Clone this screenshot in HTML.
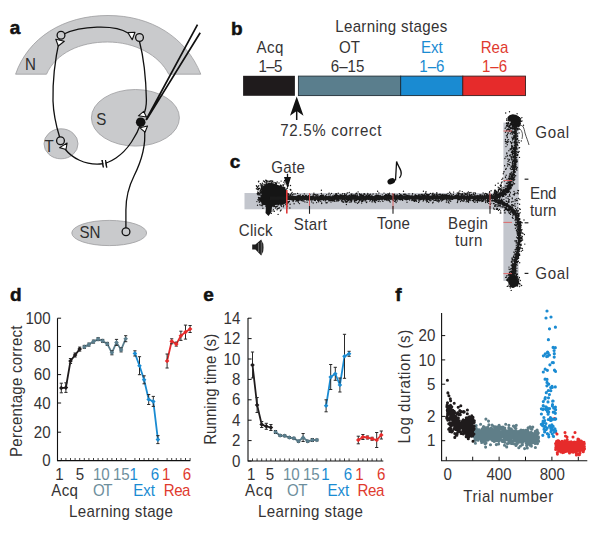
<!DOCTYPE html>
<html><head><meta charset="utf-8"><style>
html,body{margin:0;padding:0;background:#fff;width:600px;height:536px;overflow:hidden}
svg{display:block;font-family:"Liberation Sans",sans-serif}
</style></head><body>
<svg width="600" height="536" viewBox="0 0 600 536">
<rect width="600" height="536" fill="#fff"/>
<text x="9.8" y="33.8" font-weight="bold" stroke="#111" stroke-width="0.5" font-size="19" fill="#111">a</text>
<path d="M15.6 74.2 C 28 38, 63 15.5, 108 15.5 C 151 15.5, 186 37, 200.8 74.2 L 168.7 74.2 C 159 55, 135 42, 107.5 42 C 80 42, 56 53, 46.5 74.2 Z" fill="#c9cacc" stroke="#9c9c9e" stroke-width="0.8"/>
<ellipse cx="135.4" cy="117.8" rx="44" ry="28.3" fill="#c9cacc" stroke="#9c9c9e" stroke-width="0.8"/>
<ellipse cx="61" cy="143.8" rx="17" ry="15" fill="#c9cacc" stroke="#9c9c9e" stroke-width="0.8"/>
<ellipse cx="109.2" cy="233" rx="37.4" ry="12.6" fill="#c9cacc" stroke="#9c9c9e" stroke-width="0.8"/>
<text transform="translate(30.4 70.3) scale(0.95 1)" text-anchor="middle" font-size="15.9" fill="#2e2e2e">N</text>
<text transform="translate(101.2 124.6) scale(0.95 1)" text-anchor="middle" font-size="15.9" fill="#2e2e2e">S</text>
<text transform="translate(49.1 151.8) scale(0.95 1)" text-anchor="middle" font-size="15.9" fill="#2e2e2e">T</text>
<text transform="translate(90 237.6) scale(0.95 1)" text-anchor="middle" font-size="15.9" fill="#2e2e2e">SN</text>
<path d="M64 34 C 80 26, 115 24, 128 33" stroke="#111" stroke-width="1.3" fill="none"/>
<path d="M59.5 39.3 C 56 55, 52.5 80, 53 101 C 53.5 115, 56.5 127, 59.6 137" stroke="#111" stroke-width="1.3" fill="none"/>
<path d="M139.5 41.5 C 143 55, 146 80, 146.4 100 C 146.5 108, 145 112, 143 116" stroke="#111" stroke-width="1.3" fill="none"/>
<path d="M141 123 C 137 135, 128 150, 116 158 C 110 162, 105 164, 100 164 C 85 165, 72 158, 65 149" stroke="#111" stroke-width="1.3" fill="none"/>
<path d="M102 160 L103.3 167.5 M105.3 160 L106.6 167.5" stroke="#111" stroke-width="1.2"/>
<rect x="103.3" y="159" width="2" height="9" fill="white" transform="rotate(10 104.3 163.5)"/>
<path d="M102.2 160 L103.5 167.5 M105.5 160 L106.8 167.5" stroke="#111" stroke-width="1.2"/>
<path d="M144.5 130 C 146 145, 142 160, 134 176 C 128 188, 125.9 198, 125.9 210 L125.9 228" stroke="#111" stroke-width="1.3" fill="none"/>
<circle cx="61" cy="35.3" r="3.9" fill="none" stroke="#111" stroke-width="1.3"/>
<circle cx="139.5" cy="37.5" r="3.9" fill="none" stroke="#111" stroke-width="1.3"/>
<circle cx="60.5" cy="140.7" r="3.9" fill="none" stroke="#111" stroke-width="1.3"/>
<circle cx="126" cy="231.7" r="3.9" fill="none" stroke="#111" stroke-width="1.3"/>
<polygon points="55.8,39.3 64.3,41.3 58.3,46" fill="white" stroke="#111" stroke-width="1.1" stroke-linejoin="round"/>
<polygon points="127.9,32.6 135,32.3 132.2,39.7" fill="white" stroke="#111" stroke-width="1.1" stroke-linejoin="round"/>
<polygon points="143.7,111.4 138.4,115.8 146.5,117" fill="white" stroke="#111" stroke-width="1.1" stroke-linejoin="round"/>
<polygon points="145,132.2 139.9,127.8 147.5,126" fill="white" stroke="#111" stroke-width="1.1" stroke-linejoin="round"/>
<polygon points="59.6,147.6 67.1,143 66,149.5" fill="white" stroke="#111" stroke-width="1.1" stroke-linejoin="round"/>
<path d="M197.5 24.6 L146 120 M200.2 32.8 L146.6 119.6" stroke="#111" stroke-width="1.7"/>
<circle cx="140.7" cy="122.2" r="4.8" fill="#111"/>
<text x="231" y="34.5" font-weight="bold" stroke="#111" stroke-width="0.5" font-size="19" fill="#111">b</text>
<text transform="translate(335.2 32.2) scale(0.95 1)" textLength="117.89" lengthAdjust="spacing" font-size="15.9" fill="#353334">Learning stages</text>
<text transform="translate(256.5 53.3) scale(0.95 1)" textLength="28.32" lengthAdjust="spacing" font-size="15.9" fill="#353334">Acq</text>
<text transform="translate(258.5 71.7) scale(0.95 1)" textLength="25.16" lengthAdjust="spacing" font-size="15.9" fill="#353334">1–5</text>
<text transform="translate(349.6 53.1) scale(0.95 1)" text-anchor="middle" font-size="15.9" fill="#353334">OT</text>
<text transform="translate(347.6 71.7) scale(0.95 1)" text-anchor="middle" font-size="15.9" fill="#353334">6–15</text>
<text transform="translate(431.9 52.9) scale(0.95 1)" text-anchor="middle" font-size="15.9" fill="#1a8bd2">Ext</text>
<text transform="translate(431.9 71.9) scale(0.95 1)" text-anchor="middle" font-size="15.9" fill="#1a8bd2">1–6</text>
<text transform="translate(494.5 52.9) scale(0.95 1)" text-anchor="middle" font-size="15.9" fill="#e03a2e">Rea</text>
<text transform="translate(494.5 71.9) scale(0.95 1)" text-anchor="middle" font-size="15.9" fill="#e03a2e">1–6</text>
<rect x="243.1" y="75.8" width="51.8" height="20" fill="#1f1b1c"/>
<rect x="298.4" y="76.1" width="102.3" height="19.5" fill="#5a7e8d" stroke="#223038" stroke-width="0.9"/>
<rect x="400.7" y="76.1" width="62.1" height="19.5" fill="#1a8bd2" stroke="#1b2a35" stroke-width="0.9"/>
<rect x="462.8" y="76.1" width="62.7" height="19.5" fill="#e62b2b" stroke="#3a1e1e" stroke-width="0.9"/>
<path d="M296.7 96.5 L303.5 115.7 L296.7 111 L290 115.7 Z" fill="#111"/>
<path d="M296.7 110 L296.7 120" stroke="#111" stroke-width="1.5"/>
<text transform="translate(280.2 135.8) scale(0.95 1)" textLength="106.63" lengthAdjust="spacing" font-size="15.9" fill="#353334">72.5% correct</text>
<text x="229.8" y="168" font-weight="bold" stroke="#111" stroke-width="0.5" font-size="19" fill="#111">c</text>
<rect x="244.5" y="193" width="259" height="16.3" fill="#c3c6cd"/>
<rect x="503.4" y="122.6" width="15.2" height="158.4" fill="#c3c6cd"/>
<path d="M272.0 196.9h0M269.8 189.2h0M268.4 188.6h0M272.5 203.7h0M268.1 191.0h0M275.9 197.3h0M272.8 189.0h0M271.8 199.5h0M261.2 192.0h0M256.8 186.6h0M257.3 193.5h0M261.9 196.8h0M273.3 193.8h0M271.6 195.7h0M259.8 191.9h0M264.2 189.7h0M280.5 189.8h0M271.7 200.7h0M267.3 194.3h0M272.9 195.4h0M262.2 195.5h0M282.9 184.9h0M278.9 195.8h0M266.9 208.0h0M278.1 187.2h0M272.6 198.7h0M270.5 199.4h0M271.5 199.3h0M283.5 190.6h0M273.6 192.0h0M273.0 187.3h0M267.4 193.7h0M279.2 202.4h0M261.4 189.8h0M277.2 182.0h0M268.3 194.4h0M282.1 199.5h0M269.4 192.6h0M270.0 204.9h0M268.6 193.0h0M274.8 194.2h0M270.4 187.8h0M271.9 192.1h0M281.3 199.2h0M271.8 199.3h0M269.3 201.8h0M272.0 198.8h0M261.7 197.3h0M258.5 181.8h0M269.6 189.2h0M273.3 209.6h0M265.3 190.9h0M273.6 198.2h0M270.6 193.7h0M277.6 198.4h0M263.7 194.5h0M272.3 188.1h0M274.1 189.4h0M279.8 196.3h0M272.7 191.2h0M271.1 182.0h0M262.9 197.4h0M258.0 199.9h0M265.2 200.1h0M273.0 185.0h0M282.0 204.4h0M271.5 193.2h0M270.7 188.7h0M280.8 191.5h0M271.6 189.8h0M267.0 186.7h0M282.1 194.0h0M279.7 195.1h0M266.4 192.9h0M267.5 195.1h0M269.0 193.1h0M261.0 189.8h0M285.2 190.6h0M263.6 197.2h0M283.3 185.5h0M270.3 190.9h0M257.9 199.8h0M271.8 195.5h0M266.0 198.0h0M267.7 194.1h0M263.1 187.1h0M282.7 191.7h0M274.3 194.8h0M268.5 191.7h0M277.0 193.0h0M270.8 195.1h0M281.4 199.4h0M275.1 191.3h0M260.9 201.2h0M279.7 194.1h0M276.3 200.1h0M278.6 201.0h0M268.4 204.8h0M262.0 200.6h0M276.0 200.7h0M287.0 204.6h0M262.8 184.0h0M278.5 188.4h0M271.9 200.5h0M258.8 181.3h0M274.1 195.3h0M270.0 195.3h0M265.1 185.2h0M270.7 188.7h0M258.9 198.3h0M271.5 197.6h0M264.1 190.7h0M264.0 189.2h0M273.6 189.9h0M274.8 197.2h0M288.2 185.9h0M279.1 194.4h0M271.9 185.6h0M268.3 199.8h0M271.3 195.5h0M269.7 202.5h0M271.8 180.7h0M266.5 182.2h0M282.7 195.3h0M262.6 188.9h0M281.0 196.0h0M272.4 194.7h0M272.3 200.2h0M276.4 196.4h0M263.7 198.3h0M266.5 202.1h0M261.8 194.1h0M271.9 186.4h0M285.8 204.5h0M268.3 200.0h0M274.0 194.6h0M272.7 188.0h0M269.8 193.8h0M281.5 197.2h0M272.0 204.9h0M267.6 192.5h0M257.5 205.2h0M279.7 201.0h0M277.4 195.7h0M273.7 193.4h0M270.4 195.4h0M284.1 198.6h0M271.5 191.2h0M266.9 205.4h0M276.1 195.4h0M269.2 187.8h0M271.5 200.7h0M268.9 193.5h0M270.2 195.7h0M259.3 193.5h0M265.2 200.7h0M265.8 198.8h0M284.2 193.0h0M267.2 196.2h0M272.0 188.5h0M275.7 208.1h0M269.9 193.7h0M263.6 197.1h0M262.0 187.8h0M282.2 189.1h0M280.7 204.9h0M274.1 198.6h0M287.6 193.7h0M267.3 186.2h0M272.3 204.6h0M279.7 188.9h0M265.2 191.7h0M274.3 193.7h0M273.7 196.9h0M269.6 194.7h0M273.7 194.5h0M276.0 207.2h0M276.7 195.4h0M258.5 197.5h0M256.4 185.8h0M278.8 199.6h0M270.8 183.9h0M269.0 190.6h0M277.1 209.7h0M273.7 189.9h0M262.6 194.6h0M270.6 187.5h0M272.9 187.5h0M280.9 201.9h0M280.7 191.9h0M276.1 194.1h0M268.9 192.8h0M261.6 185.6h0M278.4 193.8h0M273.7 201.5h0M258.1 189.9h0M273.4 197.5h0M269.0 201.7h0M273.7 187.1h0M264.6 200.2h0M275.7 182.7h0M282.8 198.9h0M282.7 192.5h0M269.6 187.7h0M284.7 190.8h0M273.3 184.1h0M268.9 201.4h0M262.0 202.0h0M274.7 188.2h0M268.0 192.0h0M271.6 191.5h0M265.4 193.0h0M263.8 186.6h0M271.6 200.7h0M259.8 195.0h0M266.8 188.6h0M278.8 191.6h0M284.0 189.9h0M275.1 193.5h0M266.0 198.8h0M270.8 198.9h0M271.6 187.9h0M271.2 195.3h0M279.7 189.1h0M271.7 183.8h0M277.2 188.0h0M257.5 194.6h0M280.8 185.1h0M263.3 190.2h0M263.0 197.5h0M265.5 190.3h0M276.7 190.1h0M275.5 188.7h0M262.3 183.1h0M286.9 192.9h0M274.0 194.8h0M273.3 195.3h0M287.3 188.2h0M259.5 188.4h0M261.3 199.9h0M278.6 188.8h0M260.9 192.7h0M276.2 188.0h0M280.3 188.0h0M269.7 185.2h0M264.2 204.0h0M278.6 192.4h0M265.0 182.7h0M268.9 194.8h0M271.3 194.4h0M263.0 194.6h0M271.7 203.4h0M286.9 194.1h0M265.9 194.6h0M267.1 190.2h0M271.5 188.2h0M276.8 194.3h0M274.0 193.8h0M266.2 188.8h0M270.1 191.4h0M273.9 195.0h0M261.1 195.4h0M261.3 191.0h0M269.6 181.5h0M272.7 196.0h0M270.7 192.2h0M269.0 188.7h0M269.8 191.4h0M272.7 187.2h0M273.9 195.9h0M270.9 192.1h0M276.4 184.2h0M275.7 196.6h0M274.3 197.5h0M266.8 193.3h0M277.1 197.8h0M273.7 185.2h0M276.3 202.6h0M280.1 196.5h0M259.5 201.1h0M275.0 185.3h0M261.6 190.9h0M282.2 192.6h0M274.2 206.4h0M284.8 194.3h0M270.1 186.8h0M266.4 197.8h0M275.2 195.7h0M280.0 190.0h0M271.6 199.8h0M276.7 202.0h0M275.2 193.0h0M274.9 188.5h0M258.9 198.8h0M271.6 197.0h0M258.4 192.6h0M267.2 189.4h0M279.2 197.5h0M267.2 194.9h0M271.0 198.5h0M277.5 206.1h0M281.1 197.0h0M274.4 200.1h0M267.7 194.7h0M279.2 207.7h0M270.7 194.7h0M273.6 203.7h0M271.8 204.6h0M264.3 193.8h0M270.4 200.1h0M280.4 185.2h0M264.7 197.2h0M266.7 185.1h0M280.3 198.2h0M275.9 191.9h0M280.2 193.4h0M280.8 189.1h0M265.2 196.3h0M266.4 199.4h0M274.1 189.0h0M272.6 192.7h0M279.3 190.9h0M268.5 202.9h0M289.9 208.0h0M272.5 196.4h0M284.3 194.2h0M264.2 195.8h0M275.6 189.6h0M258.8 185.7h0M277.3 190.1h0M270.9 196.4h0M277.0 192.8h0M276.0 189.2h0M269.1 188.3h0M281.1 194.8h0M266.1 192.7h0M270.2 199.6h0M259.2 188.3h0M269.0 211.5h0M279.6 194.3h0M277.7 208.4h0M270.1 192.6h0M281.7 198.2h0M277.4 191.7h0M287.4 206.1h0M276.5 199.4h0M270.4 197.8h0M277.5 192.8h0M258.5 197.4h0M266.1 192.9h0M267.2 192.8h0M274.0 202.2h0M287.8 195.1h0M257.6 189.2h0M262.3 191.7h0M272.6 182.0h0M274.7 185.2h0M274.4 194.3h0M269.5 194.5h0M267.7 191.0h0M258.5 194.8h0M286.8 207.9h0M282.6 199.6h0M266.6 204.4h0M271.6 194.6h0M269.7 195.6h0M268.5 194.5h0M263.3 192.6h0M290.2 194.5h0M270.1 198.5h0M277.7 187.8h0M270.3 201.0h0M274.2 195.8h0M284.4 190.6h0M272.7 191.6h0M283.9 182.3h0M266.6 191.6h0M277.3 198.9h0M283.2 184.8h0M278.0 193.1h0M266.7 198.5h0M264.6 181.5h0M269.0 185.3h0M266.8 197.4h0M274.5 205.3h0M270.4 185.0h0M266.0 189.0h0M262.3 197.8h0M266.8 182.1h0M277.6 194.3h0M274.9 195.7h0M277.1 195.2h0M281.9 197.8h0M275.1 197.7h0M260.3 193.9h0M269.9 196.3h0M261.1 205.6h0M272.8 187.1h0M258.3 193.2h0M271.3 190.3h0M272.7 190.8h0M276.4 190.3h0M271.7 201.4h0M268.3 189.5h0M278.3 187.5h0M268.1 194.8h0M264.2 188.8h0M268.2 181.3h0M260.4 192.3h0M273.2 193.8h0M257.8 192.0h0M278.4 198.6h0M271.4 189.2h0M277.0 191.2h0M262.6 189.8h0M283.6 196.4h0M281.3 191.9h0M279.5 191.1h0M270.7 211.2h0M278.1 191.7h0M271.3 197.1h0M281.7 191.8h0M258.1 193.2h0M272.1 195.7h0M282.5 197.1h0M278.5 187.8h0M278.9 208.6h0M278.2 196.6h0M273.2 206.6h0M264.6 194.3h0M275.7 199.8h0M268.5 197.0h0M269.8 195.8h0M270.9 187.6h0M271.8 200.7h0M264.3 193.4h0M277.3 188.0h0M273.5 188.1h0M281.1 210.0h0M288.2 193.6h0M277.9 195.8h0M272.8 205.1h0M261.4 201.9h0M271.6 204.2h0M273.5 190.6h0M274.2 199.8h0M272.3 198.2h0M267.8 181.1h0M279.2 199.5h0M273.2 195.4h0M280.3 192.0h0M266.3 193.8h0M281.5 186.0h0M281.5 190.8h0M263.2 203.2h0M271.2 186.5h0M269.1 201.1h0M281.5 192.2h0M275.3 199.6h0M266.8 197.3h0M271.7 191.5h0M268.1 195.4h0M272.2 191.3h0M268.6 202.2h0M273.7 200.8h0M281.6 198.8h0M290.2 189.6h0M278.5 192.9h0M286.8 206.1h0M256.4 188.7h0M277.3 200.1h0M277.9 194.5h0M275.6 199.2h0M271.4 201.7h0M263.7 201.2h0M270.2 189.2h0M275.0 189.1h0M264.7 184.8h0M271.8 198.2h0M280.2 194.1h0M280.4 195.1h0M271.3 198.7h0M280.5 192.8h0M270.0 194.0h0M272.7 189.1h0M280.2 192.4h0M275.7 189.6h0M274.9 197.5h0M268.6 208.1h0M275.0 206.6h0M279.7 190.7h0M268.9 197.8h0M272.5 195.3h0M269.7 183.2h0M270.2 180.6h0M275.0 190.3h0M266.3 193.6h0M274.2 185.7h0M258.0 188.1h0M284.7 188.1h0M277.2 186.1h0M274.4 192.9h0M271.5 198.7h0M286.0 196.3h0M273.0 188.7h0M276.7 193.4h0M278.7 194.7h0M285.9 182.1h0M269.6 200.7h0M269.2 189.9h0M269.9 186.0h0M273.0 210.9h0M281.2 187.8h0M265.0 192.4h0M280.0 189.7h0M266.5 200.8h0M278.9 192.6h0M263.1 184.9h0M266.4 180.5h0M278.0 190.9h0M275.9 207.1h0M281.4 187.5h0M279.0 202.5h0M266.0 188.8h0M271.1 184.6h0M263.1 193.2h0M270.2 196.1h0M274.2 193.6h0M281.1 181.1h0M272.0 190.4h0M273.1 196.4h0M264.7 190.8h0M278.3 197.3h0M266.6 208.3h0M290.5 185.5h0M274.4 211.3h0M278.3 196.4h0M270.3 191.5h0M270.3 191.4h0M278.0 192.4h0M268.5 187.2h0M271.6 189.2h0M270.6 201.8h0M274.9 198.3h0M274.8 195.4h0M271.0 193.0h0M278.1 188.0h0M282.7 195.2h0M266.0 191.8h0M266.6 196.0h0M266.3 202.4h0M265.7 180.2h0M266.2 181.9h0M271.7 201.9h0M277.2 186.3h0M265.9 206.6h0M274.5 195.0h0M280.4 210.9h0M282.4 195.9h0M274.8 199.0h0M267.1 188.1h0M272.4 188.8h0M271.5 195.6h0M290.7 189.5h0M271.0 193.9h0M275.5 201.8h0M268.1 189.7h0M258.9 189.0h0M276.3 195.3h0M263.9 192.6h0M272.3 198.3h0M267.3 193.4h0M257.5 187.5h0M284.9 180.8h0M269.3 196.4h0M269.0 189.7h0M271.5 195.0h0M271.3 182.8h0M270.8 189.4h0M267.6 196.5h0M277.1 200.8h0M268.0 201.0h0M281.4 202.4h0M283.1 194.1h0M270.6 200.4h0M261.1 196.4h0M267.8 192.6h0M258.1 189.2h0M271.8 200.8h0M279.9 194.5h0M270.5 189.6h0M275.2 193.4h0M276.8 206.4h0M271.7 185.3h0M265.1 185.5h0M262.4 203.5h0M273.8 185.1h0M277.2 203.2h0M269.1 190.6h0M269.3 196.8h0M277.1 202.7h0M281.7 202.7h0M282.9 199.3h0M259.8 194.1h0M274.5 192.5h0M279.3 192.7h0M264.6 204.4h0M277.3 196.4h0M279.4 201.9h0M266.6 192.0h0M264.1 196.3h0M281.5 191.8h0M262.9 208.2h0M268.4 187.0h0M273.9 197.8h0M266.4 200.1h0M268.1 189.0h0M273.4 200.0h0M266.9 197.1h0M271.3 213.4h0M266.3 204.0h0M271.6 194.2h0M277.8 200.8h0M282.1 197.1h0M267.2 191.5h0M276.1 198.8h0M283.2 197.7h0M280.5 204.9h0M273.3 185.3h0M262.6 185.7h0M284.7 189.5h0M281.9 198.8h0M285.7 201.5h0M271.2 193.7h0M272.7 196.1h0M267.8 194.8h0M284.9 183.9h0M274.1 189.1h0M273.5 200.5h0M271.5 200.0h0M259.3 202.2h0M267.2 199.0h0M266.0 196.4h0M284.4 196.9h0M274.1 185.8h0M283.4 206.7h0M272.2 193.6h0M259.0 200.7h0M282.1 198.5h0M264.1 203.7h0M262.1 193.6h0M274.2 200.7h0M275.3 197.5h0M265.9 186.6h0M272.5 190.4h0M261.5 186.8h0M268.1 183.0h0M261.2 184.4h0M273.5 197.7h0M288.1 185.3h0M266.6 200.9h0M270.3 192.9h0M285.7 192.8h0M262.8 186.4h0M274.7 197.0h0M261.0 188.6h0M276.3 198.8h0M266.9 199.0h0M276.6 183.4h0M269.5 197.7h0M267.4 181.1h0M269.7 199.9h0M284.6 180.8h0M279.7 203.0h0M279.9 196.0h0M262.7 199.1h0M286.5 189.1h0M283.7 205.3h0M284.4 194.9h0M262.4 193.8h0M272.7 188.6h0M270.7 194.3h0M287.4 203.4h0M271.6 202.9h0M265.8 192.8h0M279.3 186.9h0M269.8 186.4h0M272.9 205.6h0M266.0 196.5h0M264.8 187.5h0M262.1 204.5h0M290.9 198.1h0M266.3 199.6h0M269.3 200.2h0M274.3 196.8h0M276.9 191.2h0M268.8 183.8h0M268.5 185.8h0M270.8 188.8h0M272.8 197.9h0M260.6 189.7h0M264.5 199.9h0M285.7 200.5h0M269.2 204.5h0M259.9 204.7h0M263.7 196.1h0M270.3 195.7h0M260.1 190.6h0M275.7 196.4h0M281.6 195.5h0M290.8 190.3h0M274.1 182.5h0M262.0 203.6h0M264.5 198.4h0M271.5 188.2h0M269.2 191.7h0M268.1 199.9h0M277.2 191.2h0M264.7 196.8h0M271.2 201.7h0M271.7 193.9h0M265.1 189.1h0M264.0 192.4h0M268.6 199.8h0M268.8 193.7h0M262.3 205.7h0M276.1 206.6h0M278.4 204.7h0M270.0 199.7h0M281.4 206.0h0M275.4 200.0h0M282.2 190.6h0M275.3 189.2h0M266.5 190.9h0M270.8 196.0h0M275.7 185.6h0M288.2 202.7h0M277.9 192.6h0M271.3 198.6h0M275.4 183.8h0M278.1 214.4h0M256.9 201.6h0M275.0 194.3h0M283.3 187.1h0M273.3 204.8h0M270.4 192.2h0M272.9 192.0h0M284.7 188.9h0M279.2 186.6h0M277.5 194.3h0M263.2 192.0h0M284.7 187.5h0M263.3 204.6h0M273.0 205.3h0M274.7 189.1h0M271.5 203.2h0M279.7 195.0h0M272.4 194.2h0M267.2 207.9h0M272.1 187.4h0M268.1 199.9h0M277.3 194.1h0M266.5 195.2h0M258.2 186.3h0M278.6 191.8h0M275.1 203.1h0M277.3 195.1h0M289.5 199.5h0M269.1 199.9h0M275.4 189.3h0M272.6 193.9h0M269.7 192.1h0M258.5 192.6h0M271.7 195.7h0M262.7 199.2h0M262.0 193.5h0M282.7 190.4h0M267.8 202.2h0M268.8 193.0h0M273.8 202.0h0M263.7 187.8h0M265.0 189.4h0M274.5 189.1h0M273.0 197.7h0M266.0 195.9h0M285.4 197.1h0M266.8 194.6h0M264.5 196.8h0M279.1 189.6h0M270.3 202.4h0M267.9 196.2h0M263.6 189.6h0M267.8 209.1h0M268.7 191.6h0M267.5 193.9h0M277.2 196.2h0M288.5 196.4h0M283.6 196.8h0M276.8 185.6h0M271.0 194.6h0M270.1 181.0h0M279.0 192.5h0M268.5 193.3h0M270.2 197.6h0M261.8 188.9h0M274.3 195.9h0M269.0 191.3h0M265.3 194.6h0M281.4 188.1h0M284.2 200.5h0M268.4 200.1h0M260.3 183.7h0M261.7 192.3h0M269.4 191.7h0M272.8 181.1h0M276.0 185.8h0M266.7 192.3h0M262.8 186.1h0M264.0 194.9h0M276.7 198.7h0M264.0 189.9h0M264.6 197.9h0M268.1 189.9h0M274.7 201.7h0M274.7 201.8h0M273.1 203.0h0M282.0 194.4h0M283.5 196.1h0M272.7 189.0h0M269.7 200.1h0M261.5 199.2h0M274.8 196.8h0M277.2 190.0h0M277.4 190.7h0M279.0 183.0h0M277.5 193.5h0M278.5 189.0h0M267.1 209.6h0M265.4 190.4h0M269.8 188.4h0M281.5 206.2h0M266.4 183.8h0M281.4 202.2h0M278.6 202.5h0M265.1 193.9h0M260.9 185.8h0M279.8 190.6h0M290.2 195.5h0M266.9 200.2h0M286.4 198.2h0M262.3 197.4h0M283.0 191.8h0M265.8 201.6h0M273.1 187.8h0M269.0 190.1h0M274.4 195.7h0M281.2 199.6h0M259.5 197.6h0M279.2 198.0h0M280.2 191.4h0M264.4 201.0h0M263.5 181.0h0M280.2 190.3h0M269.6 185.9h0M261.4 187.5h0M269.1 197.4h0M262.5 188.1h0M451.9 197.3h0M487.5 202.3h0M346.4 198.4h0M477.0 200.3h0M355.2 200.0h0M464.1 199.7h0M457.8 196.6h0M384.7 198.4h0M366.4 202.5h0M398.4 196.0h0M399.5 195.2h0M498.1 203.7h0M291.1 196.8h0M398.3 197.7h0M461.1 198.6h0M437.8 196.6h0M399.8 197.1h0M461.5 194.8h0M480.5 196.9h0M453.4 194.5h0M360.0 198.6h0M355.5 198.0h0M333.2 200.1h0M306.5 197.5h0M375.6 199.9h0M344.8 200.3h0M446.5 200.0h0M412.4 199.1h0M403.9 198.5h0M341.0 198.4h0M432.1 196.4h0M491.8 196.8h0M460.0 197.2h0M481.8 201.6h0M397.5 195.0h0M481.9 196.6h0M413.7 198.0h0M407.0 195.5h0M479.4 198.7h0M443.0 196.0h0M297.4 198.8h0M383.6 197.7h0M347.3 193.0h0M461.9 198.5h0M346.2 195.1h0M467.8 197.9h0M461.6 200.3h0M348.8 199.6h0M424.9 197.4h0M473.8 197.3h0M444.8 197.7h0M366.8 197.2h0M477.8 195.4h0M481.8 197.2h0M319.1 197.8h0M349.3 202.1h0M390.9 198.6h0M446.7 202.0h0M314.5 197.9h0M456.7 198.0h0M471.8 197.3h0M362.7 196.0h0M321.3 195.9h0M333.1 197.3h0M365.6 199.8h0M385.1 195.4h0M424.4 194.6h0M475.2 197.1h0M477.8 195.9h0M456.4 195.8h0M397.3 200.9h0M412.9 197.4h0M453.8 198.4h0M463.3 197.1h0M334.7 199.4h0M338.8 197.6h0M288.2 197.7h0M407.6 198.9h0M450.9 197.1h0M330.8 200.5h0M309.5 196.4h0M333.3 200.9h0M487.4 194.1h0M405.4 196.6h0M433.5 197.6h0M356.0 195.3h0M326.6 196.6h0M420.7 198.9h0M292.7 197.4h0M365.9 196.1h0M412.0 199.0h0M460.5 197.4h0M429.4 198.5h0M414.2 200.5h0M299.4 197.9h0M387.1 198.2h0M449.1 203.1h0M286.0 193.8h0M350.9 198.1h0M328.6 196.2h0M370.3 198.5h0M291.5 196.3h0M497.9 194.3h0M361.1 194.9h0M322.7 199.4h0M467.8 197.2h0M453.6 196.6h0M287.1 195.8h0M442.5 199.8h0M351.0 194.2h0M328.6 200.0h0M308.0 198.7h0M301.9 196.8h0M449.3 197.4h0M426.6 194.3h0M414.6 200.4h0M434.6 194.7h0M341.5 196.6h0M307.8 199.8h0M424.5 196.5h0M363.4 198.1h0M328.0 198.2h0M408.9 196.0h0M291.8 197.0h0M498.0 206.1h0M440.5 199.2h0M424.3 198.6h0M418.2 197.5h0M306.2 196.1h0M287.9 195.3h0M451.9 198.5h0M444.8 196.1h0M310.4 197.3h0M432.6 195.0h0M392.3 194.1h0M420.9 197.6h0M297.3 196.0h0M467.6 201.3h0M464.2 200.6h0M408.0 196.9h0M442.5 199.7h0M390.8 195.7h0M426.6 199.7h0M288.4 202.4h0M321.9 199.2h0M438.6 201.9h0M384.0 193.1h0M393.5 197.4h0M364.2 197.1h0M419.0 198.8h0M358.0 197.7h0M434.0 198.6h0M408.0 197.8h0M446.5 195.5h0M438.9 194.6h0M356.6 199.9h0M366.7 196.2h0M477.4 198.3h0M463.4 198.0h0M442.1 196.3h0M313.9 194.8h0M407.8 197.9h0M315.3 200.5h0M358.1 191.9h0M446.3 194.4h0M361.7 203.1h0M302.1 198.3h0M450.9 198.2h0M362.2 200.5h0M347.4 201.2h0M482.4 197.9h0M469.8 198.8h0M435.4 196.0h0M399.5 197.6h0M362.6 195.1h0M478.5 198.6h0M450.6 198.4h0M322.9 199.0h0M407.4 198.8h0M335.6 194.0h0M353.5 197.3h0M287.7 196.1h0M413.8 196.8h0M346.8 198.9h0M498.8 205.1h0M319.8 197.5h0M380.8 196.1h0M387.4 196.6h0M473.4 197.0h0M296.7 197.6h0M497.0 198.0h0M331.9 199.3h0M434.1 194.1h0M359.5 194.3h0M347.4 196.3h0M338.4 196.6h0M284.8 201.1h0M454.2 196.7h0M412.2 199.4h0M428.0 195.2h0M442.4 194.5h0M493.6 208.1h0M407.2 199.6h0M342.6 195.6h0M423.0 197.1h0M345.6 202.0h0M305.9 198.9h0M307.0 196.9h0M448.8 199.3h0M366.0 198.7h0M467.5 193.1h0M356.0 202.6h0M432.1 199.6h0M498.1 196.6h0M427.3 196.3h0M298.7 196.4h0M450.7 193.4h0M340.0 198.1h0M398.8 196.2h0M445.4 194.9h0M458.2 195.7h0M390.2 202.1h0M452.3 195.9h0M333.9 200.2h0M431.0 200.6h0M468.6 197.5h0M487.5 199.3h0M496.6 192.0h0M442.4 196.7h0M375.0 198.0h0M292.9 196.1h0M305.6 196.1h0M331.0 202.1h0M354.3 200.4h0M485.9 197.1h0M424.2 195.3h0M461.2 197.6h0M300.1 195.9h0M319.9 197.5h0M482.6 197.3h0M372.9 198.1h0M448.2 196.0h0M320.8 199.6h0M489.3 201.3h0M462.4 196.5h0M348.2 198.3h0M315.8 197.0h0M297.3 198.5h0M438.3 200.3h0M434.3 196.3h0M464.3 195.8h0M466.7 196.9h0M484.2 196.5h0M292.4 198.6h0M367.4 197.9h0M321.4 190.3h0M448.0 193.5h0M339.1 200.3h0M448.5 196.6h0M312.6 197.8h0M495.9 194.4h0M298.2 200.6h0M364.6 199.8h0M347.1 198.1h0M287.3 199.2h0M469.7 197.8h0M431.2 195.9h0M325.2 197.4h0M478.1 200.4h0M379.1 198.9h0M485.6 202.5h0M347.2 199.1h0M367.6 194.8h0M383.2 198.6h0M287.1 197.7h0M434.0 194.5h0M316.3 195.0h0M412.4 200.0h0M385.4 199.6h0M412.0 195.8h0M471.4 196.5h0M372.1 197.4h0M471.9 198.6h0M467.7 197.8h0M345.1 201.0h0M471.9 196.4h0M362.7 201.2h0M380.2 199.3h0M331.0 198.3h0M340.9 198.1h0M394.9 198.8h0M452.3 199.2h0M379.3 197.1h0M313.0 197.1h0M405.2 197.1h0M476.7 196.5h0M309.2 200.0h0M402.3 199.1h0M317.7 194.6h0M434.9 196.4h0M457.9 194.9h0M463.7 196.9h0M428.1 196.6h0M371.0 196.2h0M474.2 198.5h0M365.4 196.9h0M320.6 198.4h0M476.3 196.8h0M444.6 198.7h0M290.9 199.3h0M387.0 197.1h0M289.6 199.0h0M356.3 198.1h0M325.3 200.9h0M369.2 196.2h0M427.6 197.9h0M296.9 198.0h0M486.0 196.7h0M483.0 201.4h0M414.5 198.2h0M360.2 200.0h0M331.3 200.3h0M393.2 198.2h0M368.4 198.4h0M420.6 195.9h0M416.3 196.2h0M416.2 197.7h0M364.7 194.3h0M488.3 199.8h0M285.3 201.7h0M469.5 194.8h0M460.3 198.3h0M479.3 199.3h0M379.4 196.5h0M329.8 196.4h0M339.9 194.9h0M457.5 198.6h0M497.9 196.9h0M447.2 198.2h0M307.5 196.4h0M487.7 197.3h0M481.1 199.2h0M476.5 197.3h0M419.5 199.1h0M436.0 199.9h0M400.2 198.0h0M283.5 199.3h0M463.9 199.4h0M299.1 200.0h0M395.7 200.3h0M473.3 193.0h0M493.2 197.7h0M380.7 197.3h0M490.4 204.5h0M418.0 197.9h0M460.3 198.5h0M374.3 201.8h0M469.7 192.6h0M419.9 196.8h0M321.3 193.5h0M448.9 200.9h0M499.4 203.9h0M321.7 203.0h0M345.3 197.5h0M382.7 198.8h0M482.9 198.8h0M373.1 194.0h0M469.7 196.6h0M402.7 198.4h0M389.8 194.9h0M342.1 196.8h0M365.3 200.2h0M370.3 198.8h0M303.3 195.8h0M428.9 195.5h0M382.1 198.7h0M419.0 194.8h0M448.4 195.8h0M297.5 197.9h0M489.1 200.1h0M488.7 195.5h0M296.1 197.5h0M372.2 198.0h0M486.2 196.2h0M493.1 196.2h0M336.7 201.1h0M395.5 201.1h0M475.3 198.1h0M292.5 198.8h0M414.4 198.1h0M387.1 200.5h0M422.4 196.9h0M336.4 200.1h0M354.8 199.5h0M389.8 201.3h0M283.5 200.2h0M352.8 197.1h0M380.0 198.6h0M385.9 198.5h0M340.9 196.2h0M288.9 197.3h0M386.4 195.4h0M355.2 194.7h0M395.1 199.0h0M354.3 195.3h0M291.3 198.5h0M351.1 196.5h0M412.4 199.7h0M413.1 198.4h0M371.0 198.6h0M286.6 199.9h0M382.7 198.0h0M475.0 195.0h0M460.1 197.5h0M324.3 198.8h0M409.6 197.5h0M492.9 198.4h0M357.2 195.3h0M309.9 198.6h0M298.4 202.6h0M309.5 196.2h0M350.2 196.1h0M299.5 203.6h0M425.4 199.0h0M437.2 201.3h0M426.9 200.1h0M443.9 194.5h0M329.0 201.1h0M324.8 198.5h0M339.5 196.5h0M464.0 198.7h0M379.6 198.5h0M457.7 198.5h0M378.5 195.3h0M433.3 202.1h0M427.2 197.3h0M402.4 199.7h0M465.8 194.0h0M385.9 195.2h0M295.5 199.3h0M438.3 199.2h0M363.7 196.5h0M480.9 198.8h0M464.1 196.0h0M356.3 196.7h0M329.3 196.6h0M318.1 195.9h0M494.5 191.1h0M294.9 198.3h0M485.3 199.5h0M430.6 198.9h0M326.0 202.8h0M432.7 197.1h0M470.7 198.1h0M334.1 196.3h0M425.1 197.7h0M352.0 199.9h0M383.6 198.3h0M399.8 195.9h0M422.1 195.5h0M389.3 196.5h0M389.7 195.4h0M322.5 195.5h0M472.5 197.7h0M465.9 194.7h0M408.5 195.9h0M447.3 198.2h0M346.1 194.1h0M387.8 198.9h0M297.8 196.0h0M415.3 194.7h0M304.5 197.4h0M418.1 196.5h0M378.8 197.1h0M482.4 200.1h0M452.1 197.5h0M315.7 194.8h0M490.3 195.6h0M394.7 198.4h0M371.3 198.3h0M341.8 195.8h0M305.4 197.0h0M379.8 196.4h0M421.9 194.9h0M356.7 197.6h0M366.5 196.4h0M457.7 196.9h0M379.8 197.8h0M307.0 196.7h0M303.6 201.0h0M418.2 195.8h0M499.9 197.9h0M314.8 197.6h0M378.8 197.9h0M449.8 200.1h0M404.9 195.4h0M409.3 199.1h0M484.3 195.0h0M495.6 199.5h0M305.7 195.5h0M452.6 196.8h0M414.7 196.1h0M327.2 197.0h0M298.2 200.0h0M332.9 200.0h0M352.2 197.8h0M457.0 196.0h0M293.9 199.9h0M415.6 195.2h0M336.9 194.9h0M390.3 197.4h0M404.3 197.3h0M291.5 198.5h0M349.8 197.8h0M294.1 203.8h0M325.2 196.3h0M459.0 196.5h0M470.3 195.8h0M330.1 199.8h0M346.6 196.2h0M299.3 195.7h0M392.7 197.2h0M464.5 196.0h0M294.2 198.7h0M364.4 193.6h0M430.7 199.1h0M362.2 198.3h0M303.8 197.2h0M428.6 196.1h0M437.1 198.2h0M314.1 197.4h0M294.1 198.8h0M378.3 201.4h0M327.2 198.0h0M495.4 202.0h0M478.7 198.4h0M410.8 196.3h0M413.5 200.2h0M361.3 199.3h0M297.2 196.1h0M450.1 198.0h0M318.6 201.8h0M292.0 200.0h0M424.4 199.0h0M372.5 196.8h0M284.5 198.1h0M395.9 198.5h0M370.1 196.2h0M292.5 194.6h0M430.0 200.8h0M443.3 196.0h0M432.1 194.0h0M498.1 183.3h0M499.2 206.0h0M326.6 197.5h0M396.8 195.8h0M438.1 195.1h0M459.8 199.5h0M470.7 196.6h0M284.8 195.4h0M309.4 198.8h0M302.4 198.0h0M322.9 196.6h0M424.8 196.1h0M329.5 196.5h0M291.6 198.1h0M353.9 196.7h0M363.1 195.4h0M406.8 199.6h0M435.9 200.2h0M349.6 197.5h0M398.6 197.6h0M378.8 199.7h0M326.9 196.6h0M439.0 198.1h0M483.6 199.8h0M483.0 196.7h0M430.4 193.4h0M412.2 195.1h0M298.4 196.6h0M335.3 197.8h0M365.0 194.3h0M421.4 194.5h0M320.5 198.8h0M473.4 201.6h0M489.8 199.2h0M367.6 197.4h0M379.2 200.1h0M375.0 200.0h0M343.0 199.9h0M377.3 195.2h0M380.1 201.6h0M453.2 194.4h0M369.1 197.0h0M356.4 193.1h0M438.9 198.1h0M366.6 197.3h0M397.3 198.9h0M497.8 195.6h0M401.5 195.1h0M376.4 197.5h0M342.1 194.9h0M488.8 203.4h0M344.6 194.4h0M369.8 199.1h0M403.0 195.3h0M307.2 196.4h0M433.0 196.2h0M312.7 199.6h0M456.0 197.4h0M387.0 197.9h0M351.3 194.9h0M464.6 199.0h0M389.5 197.1h0M479.0 196.3h0M375.1 200.7h0M359.5 199.7h0M333.8 198.0h0M446.0 199.0h0M388.2 195.2h0M420.1 197.2h0M350.2 198.2h0M323.1 197.1h0M284.3 196.8h0M304.3 197.8h0M366.2 195.4h0M436.2 197.2h0M441.9 199.8h0M400.6 198.7h0M283.4 198.7h0M340.6 196.7h0M473.7 201.6h0M305.2 198.2h0M399.8 195.5h0M358.7 202.4h0M343.7 202.3h0M456.4 197.6h0M481.7 198.6h0M331.7 198.9h0M393.4 198.1h0M406.7 199.3h0M413.9 196.3h0M291.0 196.9h0M286.5 196.2h0M422.4 198.4h0M301.6 198.1h0M363.0 197.7h0M415.2 199.7h0M375.0 196.7h0M335.8 197.6h0M472.9 198.3h0M366.8 201.9h0M354.6 201.9h0M480.3 198.8h0M335.3 198.3h0M342.7 199.4h0M474.4 194.9h0M499.3 201.2h0M466.7 199.5h0M330.1 197.9h0M462.4 194.5h0M327.7 199.5h0M312.9 197.1h0M392.1 197.7h0M295.0 196.7h0M308.4 198.6h0M323.3 195.3h0M364.0 197.2h0M427.6 199.0h0M455.4 196.9h0M365.1 197.2h0M348.6 200.6h0M457.3 202.6h0M470.0 197.0h0M431.8 197.0h0M335.4 196.0h0M481.0 198.0h0M478.1 199.4h0M457.7 198.1h0M449.1 196.6h0M425.3 198.7h0M492.6 197.5h0M318.8 197.4h0M461.7 195.3h0M405.8 198.6h0M417.3 197.7h0M439.9 200.3h0M403.4 196.4h0M285.5 198.5h0M361.0 198.8h0M334.5 197.0h0M491.6 196.1h0M423.2 197.1h0M429.0 198.4h0M283.3 201.7h0M318.0 199.2h0M393.6 194.7h0M447.0 195.7h0M488.1 197.2h0M466.2 198.9h0M298.4 198.6h0M421.9 198.9h0M378.6 196.3h0M321.7 203.5h0M338.3 197.4h0M321.8 195.0h0M469.7 197.5h0M450.7 201.3h0M384.1 195.9h0M463.3 198.7h0M479.6 198.3h0M284.2 201.5h0M348.4 198.6h0M386.9 199.6h0M480.0 198.0h0M358.1 198.9h0M424.9 195.8h0M369.9 195.6h0M284.2 198.7h0M442.2 197.5h0M400.2 198.0h0M461.2 200.0h0M349.6 195.3h0M414.8 197.6h0M389.3 200.2h0M352.6 195.4h0M495.0 193.1h0M462.5 193.7h0M368.5 199.2h0M474.8 198.3h0M330.4 194.9h0M374.3 200.2h0M388.3 196.8h0M350.4 197.2h0M361.5 198.9h0M466.1 199.0h0M443.8 195.5h0M441.1 198.0h0M312.3 197.9h0M488.2 201.4h0M423.0 196.0h0M320.9 201.0h0M461.0 193.7h0M307.6 199.4h0M418.9 200.8h0M492.2 199.9h0M481.8 200.1h0M447.0 199.6h0M290.7 195.2h0M323.6 196.7h0M333.5 200.5h0M355.2 198.4h0M430.3 197.3h0M472.3 200.4h0M432.5 198.5h0M304.3 193.9h0M479.8 194.9h0M395.1 197.9h0M441.4 196.7h0M361.8 195.8h0M363.1 197.4h0M456.5 196.5h0M463.9 201.0h0M497.8 197.1h0M364.9 197.6h0M288.6 197.5h0M383.7 196.8h0M475.6 197.3h0M395.2 197.3h0M303.5 198.1h0M396.6 197.6h0M470.4 195.6h0M468.0 197.8h0M400.0 195.4h0M314.5 199.2h0M490.9 203.3h0M283.5 198.0h0M428.6 197.7h0M326.7 202.6h0M458.6 197.2h0M297.3 195.9h0M423.0 198.4h0M445.3 195.6h0M283.6 199.6h0M473.9 194.8h0M449.8 197.7h0M336.9 198.5h0M374.2 200.2h0M434.6 198.4h0M433.5 195.2h0M393.4 198.2h0M368.9 198.0h0M480.3 200.5h0M438.8 196.7h0M292.9 197.7h0M487.6 198.5h0M419.6 197.1h0M368.4 195.7h0M361.3 196.3h0M481.1 197.6h0M432.3 197.5h0M320.8 196.1h0M387.6 197.2h0M449.1 197.6h0M295.2 193.9h0M403.8 194.5h0M359.5 193.7h0M403.9 194.1h0M337.1 198.4h0M329.5 198.2h0M412.6 193.8h0M346.6 199.3h0M315.4 200.0h0M450.3 197.4h0M399.1 198.4h0M306.2 198.9h0M342.0 196.6h0M496.9 204.6h0M357.5 195.9h0M370.8 196.9h0M471.0 192.4h0M372.4 199.3h0M493.4 194.5h0M372.2 201.2h0M467.1 194.0h0M493.4 203.6h0M425.7 192.9h0M329.7 197.6h0M487.4 197.1h0M481.0 196.3h0M354.4 200.9h0M497.4 192.3h0M469.9 196.6h0M489.6 197.3h0M340.3 197.7h0M318.0 197.4h0M288.7 198.9h0M411.8 197.0h0M285.9 200.9h0M310.1 196.4h0M288.5 197.9h0M370.2 198.7h0M353.2 198.9h0M355.1 200.7h0M342.4 196.7h0M301.2 200.0h0M374.3 197.6h0M465.3 193.5h0M374.3 199.4h0M463.1 194.7h0M462.8 196.2h0M340.7 198.8h0M454.2 196.2h0M332.4 196.0h0M416.2 198.5h0M474.2 199.2h0M378.2 196.4h0M426.3 196.7h0M432.3 198.2h0M435.1 197.5h0M337.8 197.3h0M485.4 201.0h0M414.3 196.9h0M310.0 196.2h0M367.8 196.9h0M302.4 198.7h0M454.9 195.9h0M350.2 195.9h0M400.7 194.5h0M372.1 201.9h0M367.8 198.8h0M449.4 195.0h0M473.4 198.2h0M325.7 198.7h0M493.0 201.6h0M418.3 195.5h0M497.9 202.9h0M404.4 199.1h0M458.8 194.9h0M366.9 198.0h0M495.6 197.9h0M344.2 198.4h0M457.3 193.0h0M406.6 198.0h0M426.2 196.6h0M408.5 199.1h0M474.4 197.6h0M388.6 196.4h0M434.2 195.4h0M491.9 196.0h0M307.7 198.5h0M462.5 197.1h0M340.8 195.0h0M361.4 200.9h0M452.8 199.0h0M373.9 197.8h0M311.9 198.3h0M408.6 198.6h0M427.8 197.9h0M408.1 197.1h0M491.3 200.9h0M358.1 197.4h0M417.3 196.9h0M378.6 197.7h0M382.2 197.4h0M372.1 198.0h0M346.4 204.5h0M394.2 196.6h0M436.9 198.3h0M423.8 199.2h0M486.3 193.8h0M457.8 196.7h0M369.1 194.7h0M425.2 196.0h0M473.5 194.3h0M392.2 198.0h0M300.9 196.8h0M498.4 202.2h0M308.3 197.4h0M357.7 196.9h0M376.8 196.4h0M395.3 195.9h0M306.7 200.0h0M489.4 193.0h0M488.6 200.5h0M421.8 197.0h0M302.5 195.5h0M378.9 197.8h0M347.2 196.5h0M350.9 196.4h0M350.6 200.3h0M388.5 198.8h0M292.1 192.5h0M376.5 197.2h0M284.6 197.6h0M304.5 197.0h0M372.4 200.8h0M433.7 195.6h0M361.5 196.0h0M381.3 197.9h0M301.1 200.2h0M386.4 194.7h0M434.4 196.9h0M437.6 196.7h0M386.8 198.8h0M327.1 202.4h0M408.1 199.1h0M451.2 196.3h0M317.5 196.3h0M286.1 192.8h0M340.2 197.9h0M390.3 199.3h0M377.8 198.9h0M489.2 195.3h0M334.6 201.0h0M372.0 195.3h0M392.5 199.7h0M480.2 198.1h0M460.8 196.0h0M474.8 199.2h0M320.9 195.7h0M336.7 196.0h0M433.7 198.0h0M427.6 201.2h0M296.0 199.8h0M325.4 196.5h0M375.0 201.0h0M326.8 202.9h0M370.3 198.2h0M384.3 197.8h0M447.6 195.2h0M360.7 195.6h0M346.4 194.9h0M361.4 195.7h0M385.7 194.4h0M471.5 196.5h0M303.6 196.4h0M338.4 196.9h0M387.3 198.4h0M315.9 195.7h0M376.2 196.1h0M385.0 197.7h0M375.5 202.6h0M357.3 199.4h0M336.4 193.8h0M357.7 199.0h0M466.9 198.2h0M361.3 197.1h0M462.3 191.6h0M427.9 195.6h0M367.7 198.3h0M414.8 201.2h0M362.9 199.6h0M491.9 195.7h0M299.0 197.3h0M487.6 198.5h0M422.3 198.3h0M402.6 200.4h0M426.0 191.8h0M425.0 197.4h0M299.3 197.5h0M342.4 196.5h0M326.1 197.1h0M378.0 196.2h0M391.0 195.9h0M437.1 194.0h0M409.9 196.1h0M382.6 198.5h0M414.3 199.8h0M400.1 197.3h0M468.6 200.9h0M426.1 200.5h0M342.7 193.6h0M354.6 198.1h0M339.3 198.1h0M429.0 198.6h0M325.8 200.3h0M457.5 196.4h0M384.4 199.7h0M458.4 193.5h0M394.4 198.8h0M395.1 195.1h0M406.7 195.0h0M475.8 199.0h0M296.7 196.6h0M487.4 198.8h0M288.2 197.9h0M408.2 198.1h0M404.8 196.7h0M286.4 194.6h0M337.8 200.5h0M359.8 200.4h0M370.5 197.9h0M376.0 197.4h0M360.6 196.2h0M355.7 195.8h0M496.5 192.2h0M471.1 194.5h0M304.9 197.7h0M474.8 199.7h0M306.1 197.0h0M436.3 198.3h0M391.6 198.6h0M352.1 196.2h0M420.8 198.8h0M301.4 197.8h0M359.3 200.8h0M412.1 200.3h0M343.0 197.3h0M478.4 196.7h0M482.4 200.8h0M423.1 195.5h0M343.2 201.8h0M477.4 199.9h0M301.8 197.1h0M329.2 197.7h0M407.4 199.4h0M440.8 195.0h0M363.9 195.7h0M480.9 199.0h0M323.8 198.6h0M336.9 198.7h0M357.6 203.3h0M393.8 198.1h0M490.1 195.6h0M406.6 199.7h0M316.1 199.2h0M326.4 196.9h0M353.3 195.8h0M333.8 198.8h0M410.1 196.7h0M484.7 195.6h0M353.8 196.4h0M388.8 200.5h0M316.2 197.6h0M442.7 197.9h0M469.0 194.3h0M335.1 195.2h0M361.5 194.1h0M330.8 198.1h0M340.6 196.5h0M464.1 192.9h0M446.3 202.1h0M347.9 197.9h0M402.6 195.9h0M311.6 200.1h0M312.9 198.8h0M404.0 198.3h0M473.6 200.4h0M379.1 197.2h0M385.0 199.2h0M409.8 195.7h0M415.0 195.2h0M418.3 195.3h0M315.3 198.5h0M463.5 197.3h0M338.6 196.8h0M391.5 198.5h0M329.3 200.2h0M317.8 195.1h0M346.2 199.1h0M432.3 199.4h0M427.3 198.1h0M401.5 198.7h0M485.7 196.5h0M496.3 191.3h0M347.6 200.1h0M393.4 196.0h0M380.1 198.9h0M434.9 200.4h0M474.5 199.5h0M347.2 198.3h0M348.7 198.3h0M293.5 200.4h0M442.5 200.1h0M375.1 195.6h0M286.7 195.1h0M472.9 197.9h0M423.3 198.7h0M373.5 197.8h0M336.6 198.0h0M294.5 197.2h0M289.2 198.6h0M440.2 194.2h0M394.1 198.7h0M318.0 199.9h0M309.9 199.1h0M446.2 195.3h0M489.4 195.7h0M397.5 198.1h0M391.6 197.4h0M293.0 198.6h0M454.4 198.1h0M401.5 195.5h0M370.8 198.7h0M418.6 202.4h0M477.9 196.4h0M499.8 192.8h0M341.4 198.5h0M298.4 198.4h0M308.9 200.0h0M432.6 198.8h0M366.1 199.8h0M339.3 197.1h0M286.4 200.1h0M407.3 199.0h0M468.4 199.9h0M363.4 200.6h0M344.0 196.1h0M344.0 195.8h0M408.8 196.5h0M466.7 200.2h0M439.6 198.1h0M458.8 194.4h0M406.5 197.2h0M326.7 194.8h0M307.1 202.3h0M331.8 199.1h0M337.6 195.5h0M374.5 198.6h0M432.6 202.9h0M403.9 198.5h0M387.6 194.9h0M348.8 197.1h0M378.2 199.2h0M287.5 201.8h0M356.9 199.5h0M372.6 199.1h0M325.3 195.8h0M402.0 199.1h0M289.4 201.5h0M386.1 196.0h0M313.7 196.3h0M433.5 195.7h0M331.7 198.8h0M347.7 197.6h0M361.8 201.5h0M285.9 201.1h0M290.2 199.6h0M327.7 198.7h0M469.1 194.2h0M485.8 196.7h0M286.4 198.2h0M478.1 200.8h0M462.6 197.5h0M441.9 199.9h0M480.1 198.3h0M378.3 199.2h0M361.2 197.0h0M283.8 195.2h0M477.1 199.1h0M488.0 200.5h0M328.7 194.1h0M385.8 196.7h0M364.7 197.7h0M311.2 199.6h0M344.5 195.3h0M466.2 201.8h0M413.5 197.2h0M390.4 198.7h0M398.3 197.7h0M347.8 200.4h0M360.6 199.4h0M318.9 200.4h0M334.1 197.2h0M309.7 198.9h0M363.7 199.3h0M477.4 202.3h0M458.6 199.3h0M371.3 197.9h0M476.7 200.5h0M435.1 196.4h0M434.3 198.5h0M381.0 198.6h0M320.0 197.3h0M464.4 197.0h0M384.5 198.8h0M314.1 194.8h0M382.1 198.1h0M469.1 193.1h0M356.0 193.4h0M429.2 199.7h0M431.2 197.4h0M312.0 199.7h0M344.1 198.8h0M475.0 192.7h0M481.3 200.1h0M301.9 197.8h0M455.6 196.4h0M465.9 196.8h0M459.9 190.9h0M344.5 193.8h0M443.5 199.1h0M425.3 193.5h0M442.4 198.4h0M300.2 199.7h0M471.7 194.8h0M472.2 195.0h0M405.2 194.8h0M376.5 195.8h0M339.1 197.2h0M362.5 196.3h0M297.9 197.1h0M283.6 196.2h0M477.7 201.1h0M453.5 197.5h0M308.2 196.7h0M322.4 195.7h0M482.0 198.3h0M449.4 197.5h0M468.0 199.1h0M353.2 197.8h0M312.4 199.5h0M463.6 196.0h0M376.2 194.0h0M476.6 196.0h0M425.3 195.3h0M423.3 195.4h0M461.9 198.8h0M346.5 198.8h0M309.6 198.2h0M308.9 197.0h0M293.3 199.3h0M454.5 197.0h0M494.2 197.9h0M292.8 199.7h0M345.1 197.2h0M287.2 197.2h0M412.8 199.8h0M405.0 196.7h0M412.6 197.4h0M296.8 200.4h0M371.9 197.3h0M484.2 196.2h0M293.2 201.6h0M334.6 199.2h0M289.2 196.0h0M290.3 198.2h0M423.9 196.4h0M475.3 196.8h0M341.4 200.8h0M489.6 191.7h0M404.5 194.2h0M350.3 199.0h0M301.8 196.8h0M325.9 196.3h0M484.4 194.2h0M351.6 200.8h0M409.6 200.1h0M331.3 197.5h0M365.3 196.4h0M369.3 199.1h0M473.5 199.3h0M490.9 198.3h0M344.1 197.7h0M349.3 195.5h0M322.9 198.3h0M346.8 202.3h0M379.8 195.8h0M293.8 194.0h0M489.7 192.1h0M298.1 197.7h0M345.9 200.1h0M415.1 200.0h0M323.8 196.9h0M381.7 196.6h0M297.9 201.2h0M405.6 198.0h0M466.5 199.1h0M354.2 197.6h0M337.1 199.4h0M328.9 198.1h0M297.8 200.9h0M291.3 196.3h0M420.0 194.9h0M418.9 198.6h0M475.2 193.1h0M376.4 198.7h0M314.3 200.4h0M359.6 198.8h0M483.7 197.6h0M400.2 199.0h0M402.8 197.9h0M300.3 195.0h0M318.4 197.8h0M442.8 195.6h0M473.2 200.5h0M351.1 199.4h0M469.6 197.0h0M345.5 198.6h0M372.2 197.2h0M332.3 200.9h0M437.8 195.8h0M351.1 202.1h0M484.8 199.7h0M416.7 195.5h0M369.1 197.0h0M346.4 198.5h0M305.3 199.2h0M365.7 200.1h0M398.7 196.8h0M359.5 196.0h0M434.5 197.5h0M389.5 193.2h0M484.6 195.5h0M297.5 197.2h0M380.1 195.4h0M448.5 202.3h0M467.5 198.8h0M437.8 197.3h0M408.9 199.1h0M369.4 197.8h0M421.9 196.2h0M436.5 198.6h0M444.1 194.9h0M406.1 196.0h0M452.5 199.4h0M287.2 198.5h0M420.7 199.2h0M472.4 198.0h0M444.4 194.7h0M419.6 196.6h0M470.1 199.5h0M387.6 197.4h0M357.8 199.6h0M492.3 197.4h0M351.3 195.4h0M488.8 200.0h0M467.1 196.7h0M475.4 193.5h0M483.3 200.6h0M335.4 197.6h0M302.6 196.9h0M436.8 192.7h0M468.9 196.4h0M308.2 198.7h0M288.6 194.3h0M334.4 197.1h0M378.9 193.0h0M427.9 199.5h0M453.6 197.5h0M342.9 199.8h0M419.4 201.1h0M451.8 196.0h0M349.2 192.4h0M443.9 199.5h0M343.1 196.1h0M288.0 193.8h0M342.4 198.9h0M294.0 196.4h0M358.9 201.7h0M327.8 199.4h0M467.0 193.1h0M370.9 197.8h0M341.4 196.6h0M371.4 199.4h0M442.9 196.9h0M469.5 199.9h0M347.4 199.2h0M396.1 202.5h0M338.1 198.9h0M383.7 196.4h0M325.2 197.8h0M488.1 195.0h0M436.9 195.1h0M370.9 198.2h0M323.1 199.1h0M376.1 197.0h0M497.2 197.4h0M340.4 195.8h0M406.0 196.2h0M375.7 196.7h0M458.8 192.3h0M498.1 187.1h0M354.9 196.6h0M481.1 194.9h0M297.7 197.2h0M367.8 193.4h0M355.9 198.6h0M330.3 200.5h0M341.1 197.5h0M375.8 198.6h0M396.3 197.7h0M297.8 199.5h0M493.7 197.0h0M360.4 194.5h0M423.1 201.1h0M370.4 194.3h0M358.8 198.9h0M302.5 199.6h0M353.3 195.0h0M313.7 196.9h0M328.0 197.1h0M464.6 197.4h0M312.3 199.5h0M335.9 195.1h0M487.7 196.4h0M463.5 199.1h0M405.7 199.5h0M356.6 199.9h0M480.0 198.8h0M440.2 196.8h0M348.0 195.6h0M423.6 199.7h0M445.0 197.0h0M368.7 199.2h0M283.9 196.0h0M485.5 193.5h0M416.6 198.2h0M470.2 200.5h0M411.5 196.3h0M436.3 194.6h0M487.1 198.3h0M454.6 198.1h0M316.0 196.8h0M422.8 194.4h0M338.1 201.0h0M334.0 196.9h0M423.6 200.4h0M436.1 194.2h0M355.9 198.3h0M494.3 193.3h0M372.6 197.1h0M494.5 199.0h0M476.6 196.5h0M355.0 199.2h0M363.2 198.2h0M375.3 196.1h0M382.3 194.9h0M408.0 195.5h0M492.8 200.3h0M480.1 194.8h0M467.3 193.0h0M418.1 199.0h0M377.0 199.7h0M451.1 194.7h0M378.6 198.9h0M303.0 196.5h0M306.3 195.5h0M360.1 198.7h0M300.2 195.7h0M464.5 198.4h0M330.8 197.5h0M333.9 195.2h0M342.7 199.7h0M387.1 196.0h0M347.3 197.0h0M348.7 198.9h0M420.3 199.8h0M428.6 196.2h0M341.1 197.7h0M440.0 195.3h0M405.3 194.2h0M484.5 197.8h0M480.9 198.3h0M433.7 200.0h0M316.5 197.5h0M342.3 201.8h0M376.6 195.7h0M344.5 196.3h0M283.5 198.6h0M357.1 193.9h0M348.0 198.7h0M328.6 197.6h0M428.9 197.5h0M439.8 194.2h0M356.9 197.0h0M332.6 198.8h0M381.8 198.9h0M330.4 198.0h0M435.8 198.8h0M457.6 201.7h0M441.6 197.0h0M427.3 194.8h0M426.6 201.9h0M359.7 195.9h0M486.9 200.2h0M319.7 198.8h0M286.7 196.3h0M319.7 199.5h0M311.7 201.9h0M449.7 192.3h0M371.5 198.3h0M478.0 197.4h0M296.0 201.2h0M452.0 198.9h0M427.7 195.0h0M495.4 185.3h0M407.1 198.5h0M317.7 199.6h0M422.0 196.6h0M469.3 196.8h0M345.5 195.6h0M325.6 199.3h0M488.4 197.2h0M377.8 199.2h0M465.9 196.6h0M449.7 195.6h0M367.7 196.4h0M482.2 201.0h0M374.1 200.3h0M283.7 200.2h0M458.6 199.9h0M386.5 197.2h0M340.5 197.8h0M388.8 194.8h0M419.1 198.9h0M298.8 200.5h0M304.6 197.2h0M494.9 205.2h0M323.1 195.9h0M415.9 197.2h0M453.1 197.7h0M331.8 200.2h0M437.0 200.0h0M400.8 196.0h0M312.2 199.9h0M290.1 204.3h0M377.3 196.5h0M493.8 200.4h0M365.2 197.3h0M401.6 199.4h0M413.2 197.0h0M426.9 199.3h0M403.5 191.2h0M405.4 196.0h0M423.1 197.9h0M407.3 198.9h0M312.0 198.1h0M418.4 196.3h0M369.7 201.1h0M483.1 193.0h0M494.8 195.5h0M475.0 199.5h0M402.3 197.1h0M459.8 198.3h0M312.0 198.7h0M398.6 197.0h0M405.5 197.7h0M456.8 194.8h0M356.6 197.4h0M446.9 197.2h0M419.0 197.6h0M392.2 196.0h0M299.3 196.7h0M388.0 193.7h0M469.5 199.4h0M422.6 196.1h0M343.6 195.7h0M338.2 193.3h0M355.1 196.5h0M491.8 200.6h0M375.1 201.2h0M433.0 193.2h0M416.2 200.8h0M311.5 196.7h0M320.4 195.7h0M412.2 197.4h0M467.5 196.9h0M388.4 199.5h0M479.8 196.8h0M470.6 196.8h0M430.5 197.5h0M399.4 198.7h0M319.2 200.6h0M308.3 198.2h0M348.4 199.1h0M450.3 199.3h0M367.2 199.1h0M486.1 197.5h0M424.7 195.9h0M346.5 196.8h0M292.8 196.6h0M320.8 201.2h0M394.3 194.3h0M375.0 200.0h0M301.6 200.5h0M380.9 198.6h0M454.0 196.4h0M288.6 198.3h0M371.8 198.7h0M345.7 198.1h0M292.5 194.8h0M319.6 196.4h0M429.3 197.0h0M287.7 196.4h0M347.1 198.5h0M412.6 197.7h0M463.2 201.0h0M453.5 196.6h0M420.7 197.2h0M365.2 201.1h0M396.4 199.5h0M443.4 195.4h0M463.9 198.8h0M375.7 196.0h0M461.7 198.3h0M428.7 202.4h0M291.9 197.7h0M422.0 199.5h0M467.1 198.6h0M334.9 201.1h0M296.9 197.2h0M492.7 197.7h0M326.1 199.4h0M356.3 197.3h0M432.7 196.4h0M284.2 198.9h0M359.8 199.5h0M375.4 199.0h0M386.0 196.2h0M300.5 198.7h0M370.0 198.1h0M355.9 200.6h0M462.9 196.0h0M336.0 197.3h0M334.8 201.4h0M374.0 197.3h0M475.0 195.5h0M430.1 196.7h0M417.8 196.7h0M352.3 196.9h0M293.0 201.3h0M417.1 196.3h0M461.0 194.5h0M435.4 200.2h0M296.3 198.6h0M298.8 199.2h0M311.5 198.6h0M499.8 200.1h0M409.3 199.0h0M495.8 198.6h0M432.3 194.5h0M347.3 198.1h0M291.0 196.3h0M446.7 198.1h0M477.5 197.5h0M411.9 200.5h0M331.5 193.4h0M489.7 194.6h0M455.5 195.5h0M343.3 195.9h0M445.5 198.6h0M496.4 192.3h0M297.2 196.2h0M298.2 199.6h0M349.7 195.5h0M336.5 194.8h0M389.1 195.7h0M413.0 197.8h0M298.8 195.4h0M360.5 197.9h0M480.3 195.8h0M412.9 199.4h0M484.4 196.9h0M416.6 201.3h0M334.3 197.7h0M303.6 196.5h0M478.9 197.4h0M319.9 197.6h0M305.2 197.0h0M468.5 202.2h0M355.8 200.5h0M423.5 199.7h0M333.4 200.1h0M459.0 195.5h0M396.2 196.6h0M353.6 195.5h0M373.5 200.0h0M441.5 201.1h0M466.3 196.6h0M346.0 197.8h0M321.4 197.2h0M361.1 198.6h0M472.6 197.6h0M389.9 198.4h0M429.2 198.6h0M462.0 197.7h0M433.5 197.0h0M447.3 200.1h0M356.8 198.7h0M336.6 196.4h0M479.1 200.2h0M370.1 197.7h0M494.6 201.2h0M492.1 197.0h0M394.5 201.2h0M475.5 200.9h0M358.1 198.0h0M488.0 196.9h0M457.0 196.8h0M463.7 198.4h0M283.3 199.4h0M377.6 191.2h0M491.1 190.7h0M312.2 196.2h0M393.5 200.6h0M363.1 198.2h0M284.0 194.2h0M355.2 197.9h0M348.2 196.4h0M390.6 196.9h0M442.4 195.5h0M491.6 195.8h0M338.7 195.7h0M378.2 196.7h0M355.1 196.2h0M399.9 199.4h0M400.9 196.9h0M284.4 198.6h0M493.7 194.6h0M297.1 199.7h0M435.8 197.9h0M370.4 196.8h0M400.7 199.8h0M335.0 197.6h0M313.2 203.0h0M298.1 198.6h0M458.8 197.7h0M428.4 197.9h0M376.7 200.5h0M394.8 198.1h0M312.3 197.2h0M474.1 194.9h0M462.6 200.9h0M356.5 200.5h0M487.1 201.2h0M435.3 197.4h0M467.2 195.1h0M327.8 198.6h0M419.9 195.7h0M478.9 196.3h0M457.6 200.0h0M445.1 196.4h0M316.3 195.6h0M355.4 198.1h0M314.4 194.6h0M292.6 199.2h0M304.4 196.2h0M415.9 200.4h0M434.6 194.7h0M396.6 195.2h0M341.9 197.0h0M453.6 192.1h0M467.2 194.8h0M472.3 197.0h0M496.5 199.7h0M478.1 196.8h0M367.7 198.7h0M490.8 197.8h0M423.9 197.4h0M427.2 195.6h0M427.9 196.9h0M370.5 199.7h0M349.5 199.7h0M385.3 198.9h0M486.2 195.3h0M411.9 200.1h0M487.1 195.4h0M329.0 198.0h0M346.4 201.4h0M351.9 194.0h0M291.4 198.2h0M285.8 199.8h0M362.7 197.1h0M409.0 193.9h0M451.7 199.2h0M478.0 199.8h0M473.2 200.5h0M436.4 195.3h0M388.6 194.5h0M440.4 198.0h0M460.6 201.5h0M310.9 197.6h0M441.9 199.5h0M289.7 196.9h0M356.7 199.0h0M304.2 199.7h0M286.1 197.4h0M288.6 201.8h0M445.5 197.2h0M414.2 201.4h0M323.7 196.6h0M323.3 195.5h0M459.6 193.6h0M416.1 199.8h0M457.1 197.9h0M343.3 197.1h0M320.2 196.5h0M493.2 195.2h0M319.1 200.8h0M344.1 199.1h0M313.9 193.3h0M351.3 195.1h0M351.4 194.6h0M411.5 198.3h0M451.7 197.6h0M381.8 199.6h0M389.3 196.7h0M352.6 197.1h0M491.3 194.9h0M344.4 199.4h0M308.6 195.6h0M371.4 196.5h0M399.4 193.6h0M429.8 199.1h0M340.6 195.0h0M418.7 196.4h0M463.2 197.2h0M400.5 196.7h0M329.1 193.1h0M330.1 199.0h0M468.3 198.9h0M308.2 198.3h0M301.2 197.2h0M479.8 197.1h0M316.6 202.6h0M445.7 195.7h0M283.5 196.2h0M324.2 199.7h0M304.9 201.9h0M382.1 200.0h0M327.3 198.0h0M423.4 191.2h0M479.8 201.0h0M335.0 196.8h0M349.9 199.1h0M363.6 194.1h0M392.1 199.5h0M359.7 197.8h0M442.6 200.2h0M468.4 191.9h0M338.5 198.8h0M479.9 197.2h0M387.3 197.3h0M307.3 198.6h0M481.9 196.6h0M338.3 199.6h0M286.4 195.7h0M288.6 199.2h0M372.6 200.2h0M487.2 194.6h0M286.9 202.3h0M445.6 197.3h0M295.7 196.7h0M495.2 199.8h0M315.1 199.1h0M365.0 198.5h0M499.1 187.8h0M399.1 199.4h0M392.7 199.4h0M467.6 195.7h0M439.1 201.2h0M370.4 197.6h0M335.0 198.7h0M389.1 194.6h0M428.4 198.6h0M457.9 195.0h0M427.8 194.4h0M359.5 198.1h0M298.4 201.0h0M491.5 194.8h0M384.4 195.6h0M370.3 200.3h0M331.1 200.1h0M474.2 197.3h0M468.1 198.0h0M469.5 195.3h0M428.5 195.0h0M440.6 194.7h0M385.7 197.1h0M310.2 199.7h0M322.4 197.4h0M317.7 198.1h0M490.4 199.6h0M291.4 193.8h0M386.3 199.7h0M315.3 198.8h0M482.5 195.2h0M480.3 196.8h0M429.3 194.5h0M426.2 198.8h0M316.6 198.1h0M307.2 197.7h0M366.5 195.2h0M469.9 198.2h0M317.9 199.1h0M482.0 198.6h0M288.1 195.0h0M419.8 196.9h0M323.8 197.1h0M399.5 199.5h0M358.1 199.4h0M327.0 199.0h0M328.6 199.8h0M346.5 198.0h0M474.8 202.4h0M446.1 197.0h0M344.4 197.8h0M397.0 195.3h0M472.6 197.9h0M439.5 198.0h0M341.8 200.4h0M467.9 198.1h0M426.1 195.1h0M350.0 198.0h0M416.1 197.7h0M391.9 199.1h0M481.3 197.5h0M319.9 197.1h0M301.7 198.4h0M437.5 197.8h0M394.8 195.6h0M299.2 196.5h0M359.5 198.1h0M323.3 200.2h0M419.1 197.9h0M320.7 198.0h0M455.4 198.4h0M432.3 197.6h0M464.9 194.2h0M321.5 197.0h0M419.1 200.1h0M385.2 198.0h0M441.4 195.3h0M297.6 193.4h0M495.4 197.9h0M420.3 197.3h0M407.0 202.2h0M448.4 195.6h0M382.0 199.0h0M317.7 200.5h0M379.2 199.1h0M393.9 195.5h0M442.2 197.8h0M333.5 196.4h0M295.4 197.4h0M446.3 198.8h0M313.1 194.9h0M466.0 199.3h0M351.6 201.3h0M428.2 199.2h0M305.5 197.5h0M382.9 201.4h0M391.1 198.5h0M310.0 194.6h0M433.2 195.7h0M335.9 198.6h0M450.7 197.8h0M358.6 199.0h0M401.1 198.7h0M415.5 196.1h0M369.6 197.0h0M424.3 198.3h0M350.4 201.9h0M333.9 200.1h0M302.8 200.9h0M318.6 199.5h0M372.2 197.5h0M451.9 196.4h0M512.9 151.7h0M514.2 169.9h0M513.9 131.9h0M496.9 192.9h0M511.7 146.6h0M505.0 193.3h0M517.2 143.9h0M504.9 191.5h0M495.9 195.0h0M506.0 189.9h0M515.7 144.9h0M512.7 132.8h0M513.2 178.3h0M514.6 183.8h0M509.0 180.1h0M513.4 121.7h0M513.3 182.6h0M501.5 193.9h0M519.3 142.8h0M515.2 148.8h0M510.8 185.1h0M509.5 179.0h0M516.7 127.1h0M507.7 187.4h0M511.4 159.8h0M514.7 123.3h0M515.2 169.4h0M500.5 196.1h0M505.5 194.3h0M515.1 141.8h0M501.2 193.6h0M515.1 147.9h0M514.1 155.2h0M514.4 129.4h0M513.9 171.2h0M501.3 193.1h0M514.0 165.2h0M509.7 191.1h0M514.9 151.3h0M507.9 191.4h0M514.8 121.6h0M515.5 142.4h0M513.7 157.8h0M514.6 177.8h0M510.8 177.6h0M513.6 170.0h0M514.6 172.6h0M515.2 153.2h0M516.7 162.3h0M514.5 124.8h0M508.4 189.5h0M512.2 134.2h0M514.2 126.3h0M515.9 130.1h0M514.9 124.2h0M506.0 188.0h0M515.9 121.6h0M515.1 128.2h0M508.0 189.5h0M517.3 139.6h0M512.4 150.7h0M519.1 151.4h0M517.7 154.5h0M503.5 192.5h0M516.1 134.5h0M511.5 184.4h0M502.6 193.7h0M506.5 183.2h0M508.8 186.3h0M509.2 185.9h0M505.9 193.7h0M514.9 175.7h0M508.1 161.5h0M515.2 124.8h0M501.5 194.5h0M513.7 166.1h0M501.0 193.3h0M515.2 143.0h0M512.9 131.3h0M504.8 191.0h0M507.3 188.1h0M519.6 147.6h0M514.6 124.9h0M511.3 180.6h0M513.2 132.7h0M514.1 176.1h0M502.9 195.6h0M499.8 197.1h0M500.6 195.8h0M507.0 190.3h0M512.6 146.1h0M512.1 133.7h0M504.4 193.8h0M514.7 136.0h0M517.0 128.5h0M516.3 144.8h0M515.9 164.3h0M516.3 126.8h0M517.5 138.5h0M514.2 156.0h0M504.7 190.7h0M506.9 190.5h0M514.3 176.3h0M512.2 179.6h0M497.9 194.0h0M517.4 155.6h0M502.7 194.7h0M513.7 121.6h0M513.3 160.4h0M496.0 196.3h0M507.2 192.8h0M506.5 192.4h0M519.0 120.9h0M516.8 121.3h0M504.1 192.7h0M499.9 196.2h0M514.8 166.7h0M511.6 175.9h0M496.8 197.1h0M510.5 123.2h0M512.6 122.3h0M515.2 122.8h0M513.3 171.5h0M506.0 189.4h0M505.4 194.1h0M512.7 178.9h0M511.3 187.2h0M501.8 191.9h0M496.6 194.3h0M498.0 194.9h0M503.7 194.9h0M517.7 128.8h0M501.0 193.9h0M514.8 161.7h0M510.1 189.1h0M518.5 152.4h0M507.1 189.6h0M514.4 168.9h0M514.1 136.6h0M495.0 196.2h0M514.8 128.8h0M514.0 153.4h0M509.0 160.4h0M513.0 157.9h0M503.9 191.6h0M502.3 191.6h0M515.9 133.1h0M515.6 157.4h0M515.6 151.7h0M519.1 129.4h0M512.7 179.7h0M509.5 185.4h0M515.3 144.6h0M516.0 160.5h0M508.1 187.1h0M503.8 192.9h0M509.0 184.3h0M509.8 188.6h0M512.0 151.5h0M507.6 185.7h0M516.1 155.3h0M518.9 123.0h0M509.8 187.2h0M511.7 157.6h0M496.2 198.0h0M513.5 156.4h0M510.9 187.5h0M513.9 128.9h0M509.8 184.7h0M503.7 191.7h0M502.3 192.7h0M519.1 132.9h0M513.9 123.1h0M514.4 122.2h0M504.3 193.2h0M512.9 162.1h0M506.3 189.6h0M511.6 176.9h0M517.6 136.2h0M515.2 121.4h0M514.4 174.4h0M516.6 148.6h0M510.3 178.4h0M499.4 193.8h0M514.4 123.2h0M511.4 132.3h0M517.3 122.8h0M513.0 174.7h0M516.2 166.3h0M516.7 151.7h0M513.0 157.1h0M511.4 172.1h0M511.6 128.3h0M511.7 143.8h0M516.9 170.1h0M517.2 154.7h0M513.7 151.4h0M514.4 125.0h0M507.0 188.9h0M514.3 133.2h0M512.1 154.3h0M519.5 157.4h0M516.8 142.6h0M515.7 175.8h0M509.9 173.8h0M507.0 188.6h0M511.5 148.9h0M512.8 127.5h0M512.5 168.2h0M513.7 179.7h0M511.3 142.4h0M521.3 140.9h0M515.1 162.8h0M515.4 143.0h0M505.6 195.1h0M514.0 126.4h0M515.3 123.2h0M516.2 164.1h0M515.9 130.3h0M514.5 123.9h0M503.3 191.3h0M514.4 150.7h0M500.6 194.4h0M507.2 190.0h0M499.1 195.5h0M516.2 130.6h0M502.6 195.0h0M515.5 121.8h0M515.4 149.0h0M507.7 192.3h0M509.2 189.5h0M513.8 160.7h0M515.3 128.5h0M513.7 122.8h0M514.4 152.9h0M515.3 141.7h0M512.9 162.1h0M514.9 147.9h0M512.3 166.6h0M511.1 188.6h0M516.9 159.6h0M515.6 128.1h0M512.2 123.8h0M514.0 126.3h0M513.4 148.2h0M501.8 194.0h0M515.5 139.5h0M511.3 181.1h0M514.3 143.0h0M517.4 144.5h0M515.1 128.4h0M511.1 176.0h0M514.7 179.6h0M512.5 127.0h0M515.3 172.0h0M498.8 194.6h0M508.7 178.7h0M509.8 182.0h0M514.2 151.8h0M510.8 184.0h0M515.3 124.3h0M513.6 175.1h0M513.7 160.8h0M515.6 164.2h0M514.5 171.3h0M497.7 196.5h0M515.1 124.1h0M510.9 181.3h0M502.1 194.3h0M517.5 152.1h0M513.3 160.3h0M513.5 136.1h0M515.6 136.8h0M514.5 131.3h0M499.1 193.6h0M517.1 125.7h0M516.9 143.6h0M515.0 147.5h0M499.0 195.8h0M514.8 131.2h0M512.8 153.9h0M509.5 180.8h0M513.2 173.6h0M515.0 163.7h0M514.9 127.6h0M515.0 168.6h0M506.0 194.4h0M504.9 194.0h0M514.4 129.1h0M517.8 145.6h0M511.3 152.3h0M515.9 161.6h0M505.7 191.2h0M512.2 175.9h0M510.9 148.6h0M516.3 131.9h0M515.4 167.3h0M505.0 194.6h0M513.1 124.9h0M510.9 174.6h0M508.2 186.9h0M514.1 160.5h0M514.4 123.0h0M515.4 162.5h0M514.5 159.3h0M516.4 162.0h0M512.5 146.1h0M514.5 120.5h0M514.8 154.2h0M508.0 192.3h0M506.5 191.0h0M509.8 121.0h0M514.7 142.2h0M513.1 139.4h0M519.0 148.0h0M513.1 179.3h0M498.1 197.1h0M512.6 122.5h0M513.6 147.8h0M514.3 127.4h0M515.5 138.0h0M515.4 157.3h0M513.9 152.0h0M509.5 182.6h0M511.0 186.1h0M514.8 128.9h0M513.7 122.1h0M505.0 189.7h0M511.3 180.2h0M500.2 197.0h0M515.2 165.9h0M504.2 194.1h0M509.0 186.9h0M513.1 128.7h0M500.8 196.0h0M510.0 125.9h0M512.2 126.7h0M514.5 170.7h0M517.2 161.0h0M508.7 188.8h0M512.6 185.0h0M512.3 185.8h0M508.0 191.0h0M509.8 186.8h0M496.6 195.9h0M509.4 177.9h0M513.8 171.2h0M508.4 192.3h0M508.0 185.0h0M514.0 167.6h0M516.7 169.9h0M501.0 193.6h0M514.3 136.5h0M511.2 172.7h0M512.9 124.6h0M503.1 190.6h0M515.1 163.8h0M508.2 187.5h0M513.2 149.4h0M512.4 164.2h0M513.7 149.9h0M515.9 127.8h0M510.7 173.6h0M498.0 197.2h0M508.1 185.7h0M511.2 187.3h0M510.7 185.5h0M509.6 185.2h0M516.6 147.4h0M512.6 152.3h0M506.1 191.3h0M514.9 123.4h0M506.7 191.2h0M512.9 159.5h0M514.9 149.8h0M515.6 138.6h0M512.4 164.3h0M513.9 133.0h0M515.3 162.9h0M501.2 195.6h0M517.2 149.0h0M513.5 167.3h0M510.2 183.3h0M507.4 186.2h0M513.7 136.1h0M496.9 197.6h0M516.9 139.8h0M509.9 175.9h0M497.4 195.9h0M517.2 167.7h0M514.2 134.9h0M503.4 195.0h0M514.1 124.6h0M512.4 167.8h0M514.9 121.1h0M516.5 168.8h0M512.4 153.0h0M511.7 122.1h0M512.8 119.7h0M514.7 124.9h0M509.3 176.0h0M505.7 193.9h0M500.1 194.4h0M511.0 185.1h0M516.7 157.5h0M514.7 157.1h0M511.7 174.1h0M512.7 124.3h0M503.8 193.7h0M508.0 189.9h0M499.0 196.1h0M516.2 153.5h0M517.1 122.3h0M506.3 186.0h0M516.2 126.6h0M513.5 183.9h0M516.0 121.2h0M514.3 149.1h0M502.6 192.4h0M508.8 187.0h0M514.8 144.9h0M502.9 194.5h0M513.9 122.5h0M512.8 162.6h0M514.9 129.6h0M504.9 194.4h0M508.1 191.6h0M508.7 190.8h0M501.2 194.3h0M497.6 196.2h0M510.4 188.1h0M505.3 188.7h0M505.1 190.0h0M498.8 194.7h0M497.9 195.8h0M515.4 163.2h0M512.4 124.5h0M516.4 125.3h0M517.5 128.5h0M515.4 132.0h0M514.7 145.2h0M507.3 189.8h0M515.2 137.5h0M512.5 128.6h0M500.6 195.8h0M518.3 152.5h0M517.2 161.5h0M516.0 160.0h0M514.7 151.4h0M516.1 148.3h0M504.7 193.7h0M515.6 120.6h0M515.4 125.7h0M511.6 147.0h0M516.7 125.5h0M513.8 161.2h0M496.8 196.9h0M515.9 129.6h0M511.0 184.9h0M503.5 194.4h0M514.6 168.0h0M514.4 128.1h0M517.2 135.8h0M515.0 148.0h0M513.1 182.3h0M510.2 185.3h0M502.9 191.1h0M513.6 137.4h0M518.0 142.0h0M498.4 194.2h0M500.3 193.9h0M509.2 186.1h0M518.9 140.5h0M502.9 193.6h0M512.7 153.2h0M513.7 157.9h0M514.5 138.1h0M504.1 191.2h0M514.5 141.3h0M513.7 126.6h0M514.2 148.3h0M516.8 128.8h0M515.8 160.9h0M514.7 147.1h0M499.9 194.2h0M511.1 176.3h0M503.4 194.5h0M503.4 192.6h0M508.2 191.6h0M516.0 166.9h0M515.0 132.1h0M503.3 191.6h0M514.0 174.1h0M498.2 195.6h0M496.9 194.7h0M498.2 195.1h0M516.0 137.2h0M515.2 171.8h0M512.7 184.1h0M509.1 187.9h0M509.0 184.5h0M516.1 138.9h0M514.3 145.2h0M513.6 169.5h0M509.3 159.5h0M509.9 174.3h0M516.4 161.6h0M515.1 146.2h0M514.5 150.9h0M516.2 124.7h0M503.1 192.8h0M512.0 122.1h0M510.3 183.8h0M507.0 191.3h0M512.9 177.8h0M494.6 196.3h0M506.4 191.9h0M515.5 148.3h0M512.1 121.5h0M514.8 167.4h0M515.8 149.4h0M514.8 133.2h0M503.9 194.6h0M510.8 183.9h0M515.5 164.9h0M499.2 194.9h0M513.9 171.8h0M515.6 125.9h0M508.9 183.0h0M512.0 137.2h0M513.7 132.6h0M514.2 121.0h0M507.7 190.0h0M496.1 195.5h0M515.3 152.6h0M509.0 186.7h0M510.6 185.8h0M513.0 118.8h0M512.7 127.6h0M510.1 184.3h0M511.9 181.5h0M502.4 193.3h0M515.5 147.5h0M502.3 195.5h0M515.3 123.4h0M511.5 167.0h0M515.9 157.5h0M514.1 165.4h0M514.6 166.6h0M515.6 160.8h0M515.3 138.1h0M508.7 189.9h0M512.9 142.2h0M512.4 169.4h0M516.1 136.1h0M514.8 156.6h0M517.3 167.5h0M513.8 180.6h0M498.2 197.3h0M513.3 163.7h0M506.6 189.3h0M502.5 196.6h0M508.3 190.5h0M503.7 193.9h0M507.5 187.8h0M514.9 151.8h0M503.5 193.0h0M515.9 136.2h0M510.3 192.9h0M501.8 195.1h0M516.3 124.0h0M507.7 188.8h0M512.6 165.5h0M499.0 195.7h0M516.2 158.0h0M510.7 185.7h0M508.5 187.9h0M515.2 145.1h0M511.6 175.6h0M515.9 146.6h0M514.4 135.8h0M511.7 121.8h0M515.5 156.8h0M519.1 128.5h0M504.6 191.4h0M498.8 196.3h0M513.7 177.8h0M515.8 147.4h0M516.1 121.0h0M510.0 186.7h0M512.5 161.2h0M512.5 140.0h0M496.3 196.9h0M499.9 196.3h0M499.8 193.5h0M512.9 125.2h0M497.3 196.3h0M514.4 137.3h0M499.8 194.8h0M513.4 138.6h0M512.8 168.1h0M507.4 192.2h0M515.6 121.9h0M517.3 133.8h0M513.5 125.4h0M516.0 120.8h0M514.1 137.5h0M507.8 188.6h0M511.8 179.3h0M510.0 186.0h0M515.0 139.5h0M512.1 162.9h0M516.3 142.3h0M514.8 167.1h0M508.3 185.9h0M499.2 197.3h0M501.8 194.3h0M513.6 178.4h0M500.3 195.1h0M514.3 166.3h0M513.8 128.7h0M493.7 196.6h0M506.2 194.5h0M511.3 185.3h0M514.5 123.9h0M503.0 193.5h0M509.7 178.4h0M517.7 129.9h0M514.8 162.6h0M514.7 155.6h0M511.1 127.8h0M507.6 186.0h0M506.2 191.7h0M504.3 191.6h0M514.9 136.1h0M516.1 161.0h0M508.0 192.4h0M513.8 124.7h0M509.2 191.3h0M517.8 155.1h0M514.9 127.8h0M509.3 182.4h0M510.8 179.1h0M515.2 130.2h0M501.5 194.2h0M513.5 166.1h0M514.2 123.4h0M515.8 145.9h0M513.4 128.4h0M516.0 132.9h0M514.0 279.3h0M512.9 271.7h0M502.1 201.6h0M517.6 235.3h0M509.9 279.0h0M515.1 258.6h0M496.1 202.6h0M496.1 199.4h0M517.3 261.4h0M516.5 237.1h0M516.4 275.6h0M516.7 219.6h0M514.0 273.8h0M511.7 270.9h0M518.8 236.6h0M518.5 235.6h0M519.2 232.4h0M512.3 266.2h0M517.4 224.6h0M509.4 210.0h0M514.7 257.7h0M516.3 213.0h0M512.5 277.5h0M505.1 204.1h0M517.0 261.9h0M516.2 279.4h0M512.6 271.5h0M513.2 270.7h0M511.5 210.5h0M514.9 240.9h0M518.4 220.4h0M509.3 209.5h0M509.0 269.1h0M517.0 215.4h0M513.5 269.0h0M505.8 204.2h0M514.9 278.0h0M512.1 258.0h0M515.1 281.9h0M515.9 259.5h0M514.8 254.0h0M515.1 220.2h0M515.6 281.5h0M513.0 278.7h0M514.0 255.2h0M515.5 277.2h0M517.3 221.6h0M520.4 221.5h0M516.5 216.8h0M514.3 211.2h0M518.4 215.5h0M513.1 218.4h0M520.3 230.8h0M520.6 223.5h0M512.5 281.9h0M515.6 256.9h0M511.8 277.0h0M510.5 212.2h0M513.7 282.1h0M511.3 261.9h0M521.1 244.2h0M519.2 229.7h0M511.7 282.7h0M513.5 256.9h0M499.8 202.5h0M518.2 254.8h0M512.1 274.3h0M517.5 228.6h0M518.6 222.1h0M523.0 233.5h0M518.6 258.2h0M520.8 224.8h0M514.4 276.2h0M496.4 200.9h0M513.3 275.3h0M516.2 255.5h0M519.0 226.4h0M519.0 254.3h0M508.4 209.6h0M520.4 235.7h0M516.4 264.8h0M514.9 275.4h0M518.8 252.9h0M515.4 269.7h0M520.6 223.6h0M516.3 260.3h0M507.4 203.5h0M517.9 217.4h0M516.7 225.3h0M512.0 282.1h0M513.9 277.5h0M500.5 202.5h0M518.9 255.5h0M515.3 280.0h0M513.2 280.0h0M515.1 268.6h0M521.0 240.9h0M504.6 205.2h0M513.5 256.5h0M504.2 202.1h0M505.1 205.4h0M511.2 278.8h0M522.0 237.1h0M515.8 253.8h0M509.3 283.5h0M519.7 238.1h0M510.3 275.5h0M497.1 200.5h0M513.5 271.8h0M515.3 262.9h0M504.5 205.0h0M513.9 261.2h0M516.1 241.3h0M513.0 278.9h0M515.2 260.8h0M513.4 268.3h0M503.5 203.5h0M513.8 271.5h0M519.5 254.7h0M521.1 230.9h0M522.4 236.8h0M516.4 255.0h0M512.2 258.1h0M514.7 257.2h0M517.9 253.9h0M512.4 211.9h0M500.6 203.0h0M518.2 230.7h0M516.0 256.0h0M511.5 279.1h0M513.6 279.0h0M511.9 281.3h0M519.7 241.0h0M520.9 221.6h0M518.2 257.0h0M507.9 209.2h0M504.0 202.5h0M516.6 277.6h0M502.9 202.7h0M505.2 204.8h0M522.6 250.2h0M521.9 240.6h0M511.2 275.2h0M518.8 218.3h0M512.4 280.7h0M519.5 219.4h0M517.3 226.9h0M519.4 223.9h0M518.8 224.3h0M511.5 280.2h0M519.1 229.7h0M517.6 258.2h0M524.0 220.0h0M514.0 268.1h0M515.8 260.8h0M518.5 219.4h0M508.7 282.1h0M512.3 283.2h0M517.1 258.1h0M514.7 262.5h0M518.2 220.7h0M518.5 216.1h0M520.9 238.9h0M514.3 209.9h0M514.0 267.1h0M519.2 224.9h0M516.4 259.5h0M517.0 262.1h0M518.4 224.5h0M518.4 215.3h0M512.8 276.9h0M498.4 202.0h0M521.9 229.4h0M512.6 267.2h0M508.0 275.6h0M519.7 234.0h0M505.0 205.4h0M513.9 275.0h0M513.2 279.6h0M519.0 213.9h0M499.5 199.9h0M515.7 255.8h0M522.0 232.8h0M518.2 218.7h0M509.4 272.1h0M514.1 273.1h0M510.7 208.2h0M513.3 278.3h0M519.6 239.4h0M518.6 232.8h0M511.2 276.3h0M519.3 251.4h0M512.9 264.3h0M516.9 271.0h0M513.8 282.1h0M520.3 238.3h0M512.6 274.8h0M521.1 231.5h0M518.2 225.1h0M515.4 268.1h0M518.5 220.8h0M514.4 273.6h0M515.7 261.1h0M504.6 203.8h0M515.6 218.7h0M512.5 265.4h0M502.5 203.8h0M518.4 216.5h0M519.0 226.9h0M501.6 203.0h0M502.0 204.4h0M513.2 277.3h0M517.3 256.0h0M517.9 246.5h0M518.1 229.3h0M519.5 223.3h0M508.5 274.7h0M513.8 263.9h0M520.8 245.5h0M509.0 207.6h0M520.8 222.3h0M514.2 265.7h0M514.0 277.1h0M509.8 207.3h0M504.0 207.2h0M496.8 200.4h0M517.6 246.8h0M520.2 248.1h0M515.8 213.0h0M512.2 210.1h0M519.1 251.3h0M512.3 213.0h0M512.9 211.8h0M513.0 211.2h0M518.9 221.0h0M522.0 238.5h0M507.1 206.1h0M509.6 276.0h0M511.6 207.5h0M521.4 240.5h0M513.8 210.6h0M521.6 238.2h0M512.3 278.8h0M514.2 259.9h0M503.1 202.9h0M510.1 269.7h0M518.3 221.2h0M519.9 223.8h0M511.0 274.3h0M512.5 274.5h0M514.9 213.7h0M513.8 270.6h0M513.1 276.0h0M512.0 262.4h0M519.2 222.5h0M516.1 276.8h0M517.7 235.4h0M514.1 274.2h0M504.2 205.0h0M512.8 210.5h0M506.1 203.5h0M520.7 227.1h0M513.8 275.1h0M510.2 209.5h0M517.2 217.6h0M519.9 232.8h0M512.3 281.4h0M516.9 256.2h0M519.8 241.7h0M517.2 220.7h0M512.4 275.8h0M511.1 209.4h0M500.8 200.1h0M512.8 268.3h0M517.8 247.9h0M513.0 273.5h0M520.3 224.4h0M509.8 207.5h0M515.1 258.3h0M522.1 222.8h0M517.9 217.0h0M517.6 231.8h0M515.7 219.6h0M513.7 269.5h0M516.3 243.0h0M517.7 217.9h0M518.5 244.6h0M517.0 226.6h0M510.9 277.9h0M499.2 203.2h0M515.1 249.7h0M502.8 201.0h0M504.1 204.6h0M500.8 202.8h0M514.9 266.1h0M524.8 244.1h0M517.2 259.3h0M516.1 277.3h0M516.4 274.8h0M496.0 200.5h0M517.1 218.7h0M515.1 259.3h0M516.3 245.2h0M516.1 261.3h0M514.8 279.3h0M518.2 250.0h0M516.6 215.4h0M518.9 242.5h0M507.2 205.1h0M511.2 279.5h0M512.8 275.3h0M513.3 263.8h0M513.9 265.1h0M518.5 222.3h0M515.0 277.0h0M509.5 210.0h0M517.6 220.6h0M512.6 280.3h0M517.4 251.6h0M512.4 273.3h0M513.8 257.5h0M517.5 219.8h0M515.7 269.3h0M521.2 251.3h0M515.7 264.3h0M519.1 250.6h0M511.5 277.9h0M517.5 217.6h0M518.5 223.4h0M513.8 278.3h0M519.5 244.3h0M517.4 238.3h0M517.1 221.9h0M518.5 233.5h0M510.5 214.4h0M515.7 264.8h0M514.9 268.5h0M519.1 215.2h0M501.2 201.1h0M511.5 278.6h0M496.2 202.3h0M519.5 233.9h0M520.4 247.1h0M515.7 258.6h0M513.6 275.1h0M519.3 223.7h0M504.0 202.5h0M517.0 229.6h0M514.1 275.2h0M519.3 238.5h0M497.6 202.6h0M514.7 224.8h0M511.8 279.0h0M519.0 221.5h0M514.6 272.7h0M514.6 266.9h0M513.0 276.0h0M518.9 216.1h0M509.6 274.7h0M514.2 265.6h0M514.7 261.2h0M516.0 249.6h0M517.0 247.9h0M507.6 203.9h0M518.4 258.3h0M510.4 271.6h0M499.7 200.6h0M515.4 217.0h0M514.1 264.9h0M509.6 272.9h0M520.2 229.5h0M511.8 272.8h0M517.1 227.5h0M519.7 262.8h0M512.6 278.4h0M518.6 228.1h0M514.6 270.6h0M519.8 234.3h0M517.8 224.2h0M518.3 256.4h0M516.8 261.1h0M513.8 271.0h0M512.4 273.9h0M514.1 282.6h0M510.3 277.2h0M521.2 225.3h0M503.2 204.6h0M519.7 255.2h0M512.9 277.5h0M514.5 266.0h0M518.4 248.1h0M509.3 208.1h0M515.3 276.9h0M514.3 264.4h0M519.7 233.6h0M513.8 252.1h0M512.1 276.6h0M511.5 210.2h0M515.4 276.9h0M512.4 281.6h0M511.2 276.7h0M518.1 248.0h0M507.9 205.6h0M513.4 279.3h0M515.6 264.5h0M505.7 208.5h0M520.3 230.3h0M509.5 209.2h0M513.1 259.8h0M520.8 237.5h0M516.5 240.8h0M510.7 278.6h0M518.4 226.4h0M516.9 222.4h0M519.9 228.5h0M506.6 201.4h0M519.5 223.4h0M509.4 207.3h0M512.4 272.4h0M515.2 266.8h0M518.6 248.4h0M513.2 276.1h0M516.0 273.0h0M512.1 261.4h0M507.1 206.6h0M508.8 209.6h0M506.3 206.1h0M508.0 281.2h0M517.2 249.3h0M511.2 265.3h0M515.6 266.7h0M496.9 202.0h0M515.7 270.8h0M518.7 242.9h0M517.0 247.5h0M502.0 202.6h0M513.2 267.1h0M517.6 250.5h0M520.5 228.1h0M513.2 267.1h0M513.4 275.9h0M508.0 280.2h0M515.9 212.0h0M517.4 251.7h0M511.2 273.3h0M515.8 280.9h0M518.0 216.6h0M517.7 222.9h0M515.9 257.4h0M520.1 225.2h0M510.4 211.8h0M511.2 275.4h0M517.4 223.2h0M515.5 259.6h0M515.0 211.6h0M499.1 200.8h0M516.4 255.8h0M516.0 222.9h0M501.7 200.9h0M515.2 258.7h0M516.7 247.6h0M512.1 258.8h0M513.1 214.2h0M515.7 251.5h0M515.6 222.1h0M511.3 278.9h0M521.8 240.3h0M511.7 210.2h0M519.0 244.0h0M512.5 282.3h0M513.6 277.1h0M516.7 224.7h0M516.1 256.2h0M519.7 225.0h0M519.4 240.7h0M519.9 243.9h0M511.6 211.2h0M514.1 277.8h0M504.4 203.6h0M510.9 274.6h0M509.5 273.8h0M512.9 271.4h0M515.4 228.3h0M504.7 205.2h0M513.9 213.7h0M515.1 264.1h0M516.8 213.8h0M511.0 280.3h0M512.6 267.5h0M515.9 266.2h0M517.9 244.2h0M518.2 214.8h0M510.5 281.0h0M519.3 235.7h0M519.5 234.3h0M513.3 212.0h0M513.1 271.2h0M506.9 205.3h0M520.9 241.4h0M513.9 281.2h0M508.2 206.0h0M514.6 278.0h0M506.4 204.2h0M516.9 258.9h0M514.9 265.1h0M515.0 273.6h0M513.8 274.4h0M511.8 211.9h0M511.9 268.4h0M513.3 272.1h0M511.5 280.1h0M519.0 239.4h0M521.0 241.6h0M519.2 250.8h0M499.3 200.6h0M517.9 252.4h0M518.8 216.3h0M518.3 215.0h0M518.4 261.2h0M522.6 239.9h0M519.2 249.4h0M505.6 203.8h0M516.4 252.9h0M508.5 210.7h0M516.2 242.0h0M513.1 266.5h0M502.6 203.0h0M514.4 276.7h0M519.0 216.2h0M503.0 203.7h0M511.5 272.9h0M509.4 209.7h0M513.0 282.4h0M518.7 255.0h0M516.6 262.4h0M499.1 200.5h0M514.3 266.2h0M520.9 227.2h0M513.3 270.4h0M517.4 262.2h0M519.3 219.3h0M508.8 277.3h0M520.6 226.5h0M519.9 242.3h0M516.9 268.3h0M513.9 213.5h0M514.6 268.0h0M519.9 225.3h0M516.4 216.0h0M499.2 199.7h0M513.7 265.8h0M513.8 272.5h0M512.9 269.5h0M513.3 274.6h0M519.7 230.4h0M515.3 215.4h0M511.8 279.7h0M501.9 200.0h0M521.3 240.7h0M515.1 214.0h0M504.6 205.6h0M519.8 230.3h0M510.4 278.1h0M520.1 228.6h0M512.5 263.6h0M513.0 273.9h0M516.0 213.3h0M517.8 251.0h0M513.2 271.6h0M520.4 232.6h0M512.2 272.9h0M506.0 204.7h0M512.1 268.4h0M514.1 276.2h0M515.4 269.3h0M512.0 261.5h0M513.4 275.6h0M516.8 255.3h0M519.0 219.6h0M508.8 209.0h0M514.8 210.3h0M506.5 206.3h0M516.6 256.3h0M513.0 280.3h0M521.7 229.9h0M515.7 212.2h0M520.5 222.6h0M514.6 259.5h0M515.7 212.7h0M511.2 283.7h0M517.4 259.1h0M518.4 223.3h0M514.5 268.7h0M516.0 261.1h0M504.0 206.0h0M511.0 268.5h0M497.6 202.2h0M514.7 269.1h0M517.4 215.4h0M510.8 209.0h0M515.9 214.5h0M515.9 215.1h0M509.8 213.4h0M515.0 262.7h0M518.7 254.2h0M514.4 213.1h0M520.9 222.2h0M519.2 233.6h0M506.7 207.3h0M513.3 275.7h0M502.8 206.0h0M519.9 244.6h0M505.6 204.3h0M495.1 200.8h0M515.8 260.1h0M519.8 237.4h0M521.9 236.3h0M520.7 232.9h0M520.1 238.9h0M518.0 247.7h0M512.8 277.6h0M517.1 232.8h0M520.0 230.2h0M506.5 209.2h0M517.5 211.8h0M512.3 277.3h0M519.5 249.5h0M522.3 248.4h0M515.3 259.7h0M515.6 269.2h0M516.0 217.5h0M519.6 238.9h0M512.3 273.2h0M513.6 274.4h0M515.6 260.0h0M499.7 203.5h0M519.1 226.8h0M497.1 201.6h0M515.2 278.0h0M509.2 208.6h0M517.8 244.2h0M517.3 234.0h0M519.6 254.1h0M513.5 214.5h0M520.2 248.5h0M505.7 203.9h0M513.1 280.4h0M515.3 219.1h0M516.2 248.8h0M520.4 234.8h0M518.0 220.0h0M512.5 280.0h0M512.1 266.8h0M519.7 218.7h0M519.1 240.4h0M517.4 222.8h0M514.9 281.3h0M519.9 240.9h0M506.7 206.2h0M517.9 231.1h0M499.9 201.7h0M515.8 213.6h0M508.1 205.0h0M505.1 204.4h0M520.3 240.4h0M518.6 233.8h0M518.6 255.4h0M514.2 252.3h0M519.8 223.9h0M517.0 224.9h0M513.5 279.8h0M520.7 235.1h0M499.2 202.0h0M517.8 242.7h0M508.0 208.6h0M496.6 200.2h0M516.5 275.8h0M515.9 210.9h0M518.1 230.7h0M516.2 277.4h0M521.1 245.4h0M503.5 203.2h0M518.7 215.1h0M501.7 199.3h0M513.8 278.3h0M516.2 247.1h0M504.4 204.4h0M516.0 257.0h0M505.3 207.4h0M519.6 247.7h0M504.4 202.6h0M513.6 269.2h0M516.0 258.1h0M513.2 276.9h0M515.5 267.4h0M518.0 233.7h0M518.6 257.1h0M510.2 273.9h0M517.8 213.5h0M520.0 219.1h0M517.2 219.5h0M515.9 283.0h0M506.5 205.0h0M515.1 273.4h0M519.5 242.4h0M517.4 237.6h0M515.5 225.5h0M514.5 273.0h0M510.4 206.3h0M512.8 269.0h0M506.1 203.5h0M503.2 204.6h0M518.8 253.7h0M511.2 275.4h0M516.2 254.6h0M517.1 262.9h0M509.1 202.1h0M512.5 279.7h0M518.1 215.6h0M511.0 271.9h0M515.5 225.0h0M514.1 261.8h0M517.6 213.2h0M519.6 244.5h0M515.2 261.7h0M518.4 233.8h0M509.0 206.2h0M520.6 226.2h0M503.3 202.4h0M514.7 271.1h0M508.6 206.2h0M509.0 267.1h0M521.8 248.3h0M510.2 209.3h0M517.5 218.4h0M513.1 270.9h0M524.4 234.5h0M510.6 274.9h0M516.4 252.7h0M516.9 220.2h0M511.0 271.9h0M512.5 267.7h0M518.5 225.8h0M512.1 264.7h0M509.8 209.6h0M502.5 203.7h0M500.1 200.7h0M499.1 201.5h0M510.9 282.7h0M521.0 244.7h0M512.4 217.5h0M516.4 230.2h0M515.4 240.9h0M509.3 206.5h0M511.9 211.9h0M515.5 278.7h0M517.3 265.1h0M513.7 267.3h0M512.9 215.8h0M515.4 271.7h0M502.3 201.9h0M518.7 215.8h0M512.1 260.0h0M515.2 254.3h0M514.7 271.0h0M519.4 247.8h0M503.1 203.2h0M514.1 264.4h0M510.5 208.4h0M516.7 231.0h0M520.8 222.3h0M520.2 229.1h0M513.7 270.6h0M502.3 203.7h0M509.1 205.4h0M496.3 201.5h0M509.5 208.6h0M517.0 255.5h0M502.5 203.3h0M517.8 223.3h0M510.0 210.5h0M520.8 233.2h0M499.7 202.9h0M512.4 267.9h0M514.9 212.4h0M519.3 225.2h0M516.7 253.8h0M516.1 257.7h0M513.7 277.6h0M512.5 281.6h0M517.5 220.7h0M512.2 269.5h0M520.8 230.0h0M504.1 202.4h0M506.9 204.3h0M512.1 272.0h0M512.5 259.1h0M513.3 280.1h0M514.9 266.0h0M517.7 223.2h0M507.5 142.6h0M506.0 146.6h0M500.3 185.4h0M506.8 153.7h0M504.3 181.1h0M500.7 190.3h0M504.1 189.7h0M506.3 141.7h0M509.0 126.8h0M509.7 155.2h0M509.3 131.2h0M507.3 123.4h0M502.0 189.1h0M507.6 140.1h0M508.3 129.4h0M501.6 194.6h0M511.4 143.5h0M500.0 192.9h0M503.9 187.5h0M503.8 190.2h0M512.5 126.2h0M510.1 156.1h0M501.9 187.2h0M498.4 190.4h0M509.5 164.7h0M509.8 130.5h0M501.4 185.2h0M511.8 147.7h0M505.5 176.9h0M510.0 149.1h0M512.4 138.5h0M505.5 139.5h0M496.1 192.4h0M495.3 194.8h0M506.0 156.8h0M498.1 191.9h0M506.2 168.8h0M496.6 195.0h0M505.2 186.0h0M508.8 178.3h0M511.1 169.5h0M502.6 193.3h0M506.2 126.9h0M505.5 177.5h0M510.0 127.4h0M505.2 128.3h0M504.9 158.5h0M512.7 146.5h0M506.1 168.4h0M508.6 139.6h0M498.1 195.1h0M506.6 125.5h0M511.8 131.1h0M510.5 154.9h0M503.6 171.9h0M500.3 195.2h0M504.6 165.8h0M507.3 144.7h0M507.0 179.3h0M502.2 193.0h0M499.8 192.6h0M509.5 127.2h0M507.4 155.6h0M504.7 190.2h0M507.9 159.0h0M512.5 126.5h0M512.7 126.3h0M512.8 148.3h0M508.7 129.7h0M500.5 191.6h0M511.0 157.1h0M507.4 141.9h0M503.1 189.1h0M505.6 169.4h0M511.3 131.3h0M505.4 141.2h0M508.3 133.0h0M500.5 184.9h0M508.1 128.8h0M500.0 188.6h0M507.2 135.9h0M508.2 141.7h0M507.6 156.0h0M506.4 135.7h0M505.5 132.3h0M511.2 132.3h0M510.1 173.9h0M503.3 173.8h0M508.6 124.0h0M499.9 192.6h0M507.9 133.0h0M507.3 137.5h0M510.3 133.8h0M506.0 143.3h0M510.9 149.8h0M496.8 194.3h0M507.7 166.0h0M512.3 129.1h0M506.2 175.3h0M502.9 193.0h0M511.6 145.8h0M509.4 180.0h0M501.4 192.7h0M502.8 178.2h0M498.3 189.1h0M509.2 129.4h0M501.4 183.0h0M510.2 129.0h0M506.8 152.9h0M508.6 127.1h0M512.7 151.7h0M511.9 156.4h0M499.1 189.8h0M508.3 182.5h0M507.4 134.4h0M502.1 181.9h0M500.9 188.8h0M509.6 126.7h0M500.2 196.1h0M500.7 186.5h0M510.4 141.7h0M509.3 176.6h0M507.4 183.2h0M506.6 129.9h0M506.7 130.8h0M511.3 158.6h0M508.7 178.5h0M509.7 125.3h0M496.8 192.0h0M499.7 189.2h0M501.8 190.4h0M498.4 192.1h0M510.1 162.4h0M512.5 155.0h0M508.9 150.8h0M510.3 168.3h0M496.6 192.8h0M504.1 171.8h0M507.4 163.9h0M506.4 123.3h0M494.7 190.3h0M508.7 164.2h0M500.2 192.5h0M507.1 129.8h0M508.1 181.7h0M503.2 191.1h0M501.9 179.4h0M511.1 166.0h0M495.5 193.8h0M510.4 128.0h0M513.0 120.3h0M518.2 117.9h0M506.5 123.0h0M512.4 120.7h0M523.5 125.3h0M516.3 123.8h0M514.5 123.8h0M511.8 119.0h0M512.4 125.6h0M519.8 119.3h0M518.4 120.6h0M518.1 120.2h0M517.6 120.8h0M513.1 121.0h0M514.7 119.4h0M509.1 126.0h0M512.7 115.9h0M505.7 113.0h0M511.9 125.0h0M508.1 120.2h0M507.3 124.3h0M515.5 122.0h0M519.1 125.8h0M517.9 119.4h0M509.2 118.1h0M507.7 126.3h0M513.4 121.5h0M514.9 126.9h0M512.1 124.5h0M515.3 120.7h0M507.0 123.8h0M511.4 119.8h0M515.0 121.4h0M518.3 119.2h0M514.8 121.9h0M514.2 123.1h0M513.2 124.6h0M511.5 117.0h0M514.0 124.5h0M512.2 119.3h0M512.9 121.6h0M513.5 122.0h0M507.8 125.4h0M516.3 118.6h0M519.2 122.4h0M519.6 117.7h0M520.3 121.3h0M506.5 123.3h0M513.0 118.2h0M513.4 115.5h0M516.3 120.5h0M513.2 125.2h0M514.3 119.2h0M510.6 120.9h0M518.1 119.4h0M510.3 123.8h0M514.4 121.0h0M521.9 117.6h0M514.9 116.0h0M513.0 122.8h0M518.3 117.5h0M517.2 123.4h0M513.7 128.2h0M514.2 118.6h0M515.7 115.7h0M519.9 124.0h0M512.7 122.9h0M516.1 126.7h0M511.9 117.4h0M506.6 120.3h0M508.3 120.6h0M515.7 119.8h0M510.6 124.6h0M513.4 121.8h0M517.7 117.4h0M510.7 128.3h0M513.6 118.1h0M513.2 119.5h0M509.6 119.9h0M514.1 121.1h0M516.1 116.1h0M508.6 123.4h0M512.5 124.6h0M515.3 117.1h0M516.1 118.2h0M515.1 124.7h0M522.0 120.9h0M516.7 122.0h0M517.1 113.8h0M512.7 122.0h0M515.9 118.9h0M517.2 124.3h0M514.4 120.5h0M512.8 121.5h0M518.5 125.4h0M512.4 118.4h0M511.2 124.0h0M515.0 122.0h0M515.9 122.2h0M513.7 118.1h0M511.9 121.5h0M515.6 120.1h0M512.6 125.0h0M512.4 121.8h0M513.0 118.6h0M508.5 119.6h0M511.1 123.6h0M509.9 119.9h0M516.6 120.8h0M516.0 123.5h0M508.0 119.9h0M510.6 125.0h0M513.7 122.5h0M520.4 120.1h0M514.4 122.3h0M513.2 124.7h0M517.2 124.0h0M514.3 120.1h0M512.8 120.1h0M508.1 122.2h0M517.1 121.1h0M512.3 121.2h0M515.0 122.0h0M520.7 118.7h0M515.5 123.1h0M514.4 120.4h0M510.4 119.4h0M516.7 125.2h0M511.7 122.5h0M516.0 124.0h0M515.0 122.4h0M517.4 117.8h0M514.3 116.1h0M506.9 118.8h0M508.5 122.5h0M517.8 120.2h0M513.6 120.4h0M513.2 121.5h0M515.4 119.8h0M511.3 119.6h0M517.0 119.9h0M519.4 120.4h0M519.1 117.7h0M511.6 122.5h0M515.9 120.7h0M521.5 121.3h0M515.2 119.5h0M520.1 123.5h0M515.6 116.5h0M515.4 119.8h0M515.5 123.7h0M511.4 121.7h0M517.3 121.6h0M512.9 118.1h0M511.7 117.5h0M517.7 121.4h0M509.7 121.1h0M509.5 111.8h0M518.5 124.4h0M508.8 119.1h0M514.3 279.8h0M510.9 279.4h0M512.8 279.3h0M514.3 280.3h0M511.2 281.2h0M508.3 285.9h0M508.0 280.8h0M514.7 282.5h0M514.4 285.3h0M510.0 280.9h0M514.1 279.5h0M511.7 285.3h0M511.3 279.5h0M512.7 280.4h0M514.1 280.4h0M514.8 281.5h0M515.1 285.6h0M510.9 286.5h0M512.1 283.3h0M514.1 280.1h0M507.3 286.4h0M511.2 278.5h0M517.0 281.3h0M519.7 286.6h0M515.8 281.9h0M516.0 276.7h0M514.1 281.6h0M512.1 281.9h0M508.9 284.0h0M517.7 276.8h0M514.0 286.2h0M514.9 277.7h0M510.4 283.9h0M519.4 277.5h0M513.7 278.5h0M512.7 282.1h0M513.4 278.8h0M520.3 280.5h0M513.0 284.7h0M513.6 280.4h0M516.6 277.7h0M515.9 284.4h0M515.7 280.5h0M513.5 275.4h0M513.1 282.0h0M516.3 281.5h0M512.3 278.3h0M513.4 281.5h0M517.4 281.1h0M512.0 280.7h0M512.0 280.3h0M506.6 275.9h0M509.8 282.6h0M513.3 281.5h0M517.2 277.7h0M517.2 282.3h0M511.3 285.9h0M509.0 277.4h0M512.9 282.4h0M513.0 274.1h0M512.6 280.8h0M521.6 285.5h0M513.9 277.5h0M514.6 277.3h0M514.2 282.3h0M512.3 281.9h0M512.5 279.2h0M518.4 282.9h0M512.6 278.6h0M514.1 282.9h0M516.2 285.9h0M515.0 277.4h0M520.0 284.8h0M516.2 285.4h0M508.8 279.8h0M511.9 284.9h0M509.8 280.0h0M518.3 283.2h0M512.3 287.2h0M509.3 282.5h0M512.8 282.7h0M512.7 278.3h0M514.2 276.8h0M515.2 280.0h0M516.5 279.6h0M511.4 282.3h0M517.4 274.3h0M513.9 283.1h0M509.1 278.2h0M515.6 278.3h0M511.5 286.6h0M510.6 278.2h0M506.2 277.5h0M509.7 286.6h0M517.4 276.9h0M519.7 283.5h0M513.0 283.7h0M514.7 278.5h0M508.0 278.1h0M513.5 279.9h0M511.2 284.2h0M510.2 283.9h0M512.0 281.4h0M510.0 281.0h0M511.1 275.3h0M513.5 280.9h0M516.1 281.9h0M510.3 279.0h0M505.7 277.4h0M517.6 286.0h0M515.9 282.0h0M515.4 282.6h0M508.0 278.2h0M517.3 284.9h0M514.3 280.0h0M512.3 279.3h0M510.6 274.7h0M514.0 279.5h0M512.8 286.6h0M515.4 278.7h0M515.4 276.1h0M516.8 281.9h0M512.9 282.9h0M518.1 279.5h0M510.4 287.9h0M513.6 285.9h0M511.4 282.3h0M511.5 283.1h0M512.6 278.8h0M518.4 282.1h0M507.1 280.2h0M510.6 277.0h0M511.7 279.5h0M513.6 278.4h0M507.6 279.3h0M516.3 276.5h0M515.5 282.5h0M512.1 282.0h0M511.1 279.7h0M510.3 282.5h0M517.9 278.8h0M517.3 274.0h0M510.7 277.7h0M519.0 279.1h0M516.0 274.3h0M513.9 282.9h0M513.4 272.1h0M514.1 283.7h0M517.7 282.3h0M508.1 280.3h0M516.4 278.3h0M515.3 279.4h0M513.8 283.5h0M511.2 290.4h0M514.0 282.1h0M511.1 281.2h0M512.6 276.2h0M508.6 281.9h0M513.2 272.3h0M506.6 280.0h0M507.6 209.5h0M500.3 205.5h0M505.0 213.1h0M497.6 194.6h0M508.7 206.4h0M509.5 194.4h0M507.2 191.6h0M512.2 197.9h0M519.9 199.6h0M495.4 190.3h0M502.9 196.3h0M519.7 208.7h0M503.9 196.2h0M495.8 193.0h0M514.0 191.4h0M515.2 199.5h0M512.4 204.8h0M496.9 208.1h0M517.7 192.7h0M520.2 209.4h0M510.3 206.7h0M495.2 195.5h0M518.5 210.7h0M499.9 203.1h0M503.3 194.5h0M515.1 206.2h0M495.8 206.0h0M494.3 192.3h0M505.2 190.8h0M508.0 206.4h0M501.0 206.7h0M495.9 192.1h0M507.5 190.7h0M514.5 211.4h0M494.2 209.2h0M509.4 213.4h0M515.6 211.7h0M517.1 210.5h0M514.5 211.7h0M496.3 209.3h0M512.3 198.7h0M505.8 192.7h0M502.4 207.1h0M508.9 212.2h0M500.9 195.5h0M513.9 213.0h0M503.9 199.4h0M495.5 195.6h0M518.6 213.4h0M507.3 210.5h0M499.8 205.6h0M518.7 198.4h0M511.2 207.9h0M497.8 196.2h0M510.0 196.2h0M498.3 193.9h0M515.1 201.0h0M509.0 205.3h0M502.8 205.8h0M506.2 192.2h0M508.1 202.0h0M512.6 213.0h0M495.3 204.8h0M513.0 201.5h0M505.7 207.1h0M508.6 200.0h0M511.7 204.6h0M496.4 198.6h0M518.1 193.8h0M508.1 205.3h0M497.2 194.8h0M502.7 204.4h0M497.4 208.4h0M512.4 209.3h0M500.5 203.0h0M517.2 200.5h0M509.4 199.8h0M514.0 205.1h0M514.3 213.3h0M515.0 203.7h0M500.9 202.3h0M519.6 213.6h0M497.3 206.1h0M494.6 192.6h0M504.0 192.3h0M511.6 202.0h0M504.4 210.4h0M503.6 195.9h0M501.7 190.5h0M513.5 205.5h0M505.2 209.6h0M502.9 195.1h0M494.9 194.3h0M506.1 197.9h0M506.0 191.3h0M494.7 206.2h0M505.2 208.9h0M516.8 198.7h0M506.4 208.4h0M497.6 209.3h0M503.9 196.0h0M506.6 205.5h0M516.6 209.7h0M495.0 193.9h0M503.1 191.4h0M506.1 200.9h0M508.1 198.4h0M500.5 204.1h0M495.5 191.0h0M514.1 194.6h0M498.3 195.9h0M509.5 195.7h0M511.9 205.4h0M504.9 212.2h0M514.4 193.3h0M500.2 192.6h0M513.2 194.6h0M506.2 192.2h0M517.7 207.9h0M511.9 206.8h0M503.8 194.6h0M494.5 199.8h0M518.5 190.7h0M499.2 202.6h0M496.0 197.1h0M514.3 195.1h0M502.2 196.8h0M499.5 209.4h0M519.6 204.2h0M500.9 195.8h0M512.6 207.3h0M516.0 193.3h0M499.4 198.2h0M505.6 209.5h0M496.4 197.2h0M497.1 209.3h0M513.2 209.4h0M502.6 202.6h0M517.9 190.5h0M515.6 208.4h0M505.7 208.6h0M514.5 194.3h0M520.1 212.6h0M500.9 212.9h0M508.7 202.2h0M514.9 212.0h0M500.9 192.9h0M516.6 200.6h0M508.9 201.5h0M517.7 203.6h0M513.0 208.4h0M494.1 203.5h0M510.3 192.5h0M498.5 191.6h0M505.2 208.6h0M500.6 210.9h0M495.8 198.3h0M500.3 213.0h0M498.5 210.4h0M508.0 196.5h0" stroke="#161616" stroke-width="1.4" stroke-linecap="round" fill="none"/>
<path d="M258 199 L262 196 L262 188 L266 183.5 L272 183 L278 185 L284 187 L287 191 L287 203 L283 204.5 L275 205 L272 207 L271.5 212 L268.5 216 L265.5 213 L266 206 L262 203 Z" fill="#151515"/>
<path d="M270 198.2 L 498 197.2" stroke="#1a1a1a" stroke-width="3.4" fill="none"/>
<path d="M497 197 C 506 193, 511 186, 514 170 C 516 155, 516 135, 515 121" stroke="#1a1a1a" stroke-width="1.8" fill="none"/>
<path d="M497 200 C 508 204, 517 212, 519.3 225 C 520 240, 518 252, 515.5 262 C 513 270, 512.5 276, 513 283" stroke="#1a1a1a" stroke-width="2.4" fill="none"/>
<path d="M507.4 117.3 L509.5 115.2 L512.5 114.2 L515.6 114.8 L518.7 116.3 L520.7 120.4 L520.7 124.5 L518.7 127.5 L514.6 125.5 L511.5 121.4 L508.4 120.4 Z" fill="#161616"/>
<path d="M508.6 277.2 L511.6 275.2 L515.5 277.2 L519.4 281 L518.4 285 L513.5 288 L509.6 286 L508.6 282 Z" fill="#161616"/>
<path d="M519.5 126 C 523 124, 524 128, 525 133 C 526.5 138, 528 141, 529 145" stroke="#222" stroke-width="0.8" fill="none"/>
<path d="M520 129 C 522.5 131, 523 135, 522 139" stroke="#222" stroke-width="0.7" fill="none"/>
<path d="M286.8 190 V213.6" stroke="#e03a3a" stroke-width="1.6"/>
<path d="M309.5 193 V209" stroke="#e05a5a" stroke-width="0.9"/>
<path d="M309.5 206 V213.8" stroke="#222" stroke-width="1.1"/>
<path d="M393 193 V209" stroke="#e05a5a" stroke-width="0.9"/>
<path d="M393 206 V213.8" stroke="#222" stroke-width="1.1"/>
<path d="M490 193 V209" stroke="#e05a5a" stroke-width="0.9"/>
<path d="M490 206 V213.8" stroke="#222" stroke-width="1.1"/>
<path d="M503.4 131 H512" stroke="#e06060" stroke-width="0.9"/>
<path d="M503.4 180.5 H512" stroke="#e06060" stroke-width="0.9"/>
<path d="M503.4 222.4 H512" stroke="#e06060" stroke-width="0.9"/>
<path d="M503.4 273.6 H512" stroke="#e06060" stroke-width="0.9"/>
<path d="M524.6 179.2 H528.4" stroke="#222" stroke-width="1.2"/>
<path d="M524.6 222.8 H528.4" stroke="#222" stroke-width="1.2"/>
<path d="M524.6 273.4 H528.4" stroke="#222" stroke-width="1.2"/>
<path d="M287.5 173.8 V180" stroke="#111" stroke-width="1.3"/>
<path d="M284 177 L291 177 L287.5 188.5 Z" fill="#111"/>
<ellipse cx="391.3" cy="181.2" rx="4" ry="2.9" transform="rotate(-25 391.3 181.2)" fill="#111"/>
<path d="M395.5 180.5 L396.6 161.5 C 397.5 166, 401.8 169, 401.2 174 C 401 176, 400.2 177.2, 399.4 178" stroke="#111" stroke-width="1.3" fill="none"/>
<path d="M252.2 244.6 h3.2 l5.8 -5.2 q4.8 8.1 0 16.2 l-5.8 -6 h-3.2 z" fill="#1e1e1e"/>
<path d="M258.6 243 v9 M261.3 241.5 v12.5 M263.3 243.5 v8" stroke="#9a9a9a" stroke-width="0.6" fill="none"/>
<text transform="translate(271.3 173) scale(0.95 1)" textLength="35.47" lengthAdjust="spacing" font-size="15.9" fill="#353334">Gate</text>
<text transform="translate(293.8 230) scale(0.95 1)" textLength="34.95" lengthAdjust="spacing" font-size="15.9" fill="#353334">Start</text>
<text transform="translate(377 228.8) scale(0.95 1)" textLength="34.74" lengthAdjust="spacing" font-size="15.9" fill="#353334">Tone</text>
<text transform="translate(448 228.8) scale(0.95 1)" textLength="42.11" lengthAdjust="spacing" font-size="15.9" fill="#353334">Begin</text>
<text transform="translate(455 246) scale(0.95 1)" textLength="28.95" lengthAdjust="spacing" font-size="15.9" fill="#353334">turn</text>
<text transform="translate(238.8 235.8) scale(0.95 1)" textLength="35.47" lengthAdjust="spacing" font-size="15.9" fill="#353334">Click</text>
<text transform="translate(535.2 138.2) scale(0.95 1)" textLength="35.79" lengthAdjust="spacing" font-size="15.9" fill="#353334">Goal</text>
<text transform="translate(530 199) scale(0.95 1)" textLength="27.89" lengthAdjust="spacing" font-size="15.9" fill="#353334">End</text>
<text transform="translate(530 216) scale(0.95 1)" textLength="27.89" lengthAdjust="spacing" font-size="15.9" fill="#353334">turn</text>
<text transform="translate(535.2 279.2) scale(0.95 1)" textLength="35.79" lengthAdjust="spacing" font-size="15.9" fill="#353334">Goal</text>
<text x="10" y="300.5" font-weight="bold" stroke="#111" stroke-width="0.5" font-size="19" fill="#111">d</text>
<path d="M57.5 318.2 V460.6 H190.3" stroke="#111" stroke-width="1.1" fill="none"/>
<path d="M57.5 318.2 h3.6" stroke="#111" stroke-width="1"/>
<text transform="translate(50.6 323.8) scale(0.95 1)" text-anchor="end" font-size="15.9" fill="#353334">100</text>
<path d="M57.5 346.5 h3.6" stroke="#111" stroke-width="1"/>
<text transform="translate(50.6 352.1) scale(0.95 1)" text-anchor="end" font-size="15.9" fill="#353334">80</text>
<path d="M57.5 374.6 h3.6" stroke="#111" stroke-width="1"/>
<text transform="translate(50.6 380.2) scale(0.95 1)" text-anchor="end" font-size="15.9" fill="#353334">60</text>
<path d="M57.5 403.0 h3.6" stroke="#111" stroke-width="1"/>
<text transform="translate(50.6 408.6) scale(0.95 1)" text-anchor="end" font-size="15.9" fill="#353334">40</text>
<path d="M57.5 432.2 h3.6" stroke="#111" stroke-width="1"/>
<text transform="translate(50.6 437.8) scale(0.95 1)" text-anchor="end" font-size="15.9" fill="#353334">20</text>
<path d="M57.5 460.6 h3.6" stroke="#111" stroke-width="1"/>
<text transform="translate(50.6 466.2) scale(0.95 1)" text-anchor="end" font-size="15.9" fill="#353334">0</text>
<path d="M61.3 460.6 v-2.6" stroke="#111" stroke-width="0.8"/>
<path d="M65.9 460.6 v-2.6" stroke="#111" stroke-width="0.8"/>
<path d="M70.5 460.6 v-2.6" stroke="#111" stroke-width="0.8"/>
<path d="M75.1 460.6 v-2.6" stroke="#111" stroke-width="0.8"/>
<path d="M79.7 460.6 v-2.6" stroke="#111" stroke-width="0.8"/>
<path d="M84.3 460.6 v-2.6" stroke="#111" stroke-width="0.8"/>
<path d="M88.9 460.6 v-2.6" stroke="#111" stroke-width="0.8"/>
<path d="M93.5 460.6 v-2.6" stroke="#111" stroke-width="0.8"/>
<path d="M98.1 460.6 v-2.6" stroke="#111" stroke-width="0.8"/>
<path d="M102.7 460.6 v-2.6" stroke="#111" stroke-width="0.8"/>
<path d="M107.3 460.6 v-2.6" stroke="#111" stroke-width="0.8"/>
<path d="M111.9 460.6 v-2.6" stroke="#111" stroke-width="0.8"/>
<path d="M116.5 460.6 v-2.6" stroke="#111" stroke-width="0.8"/>
<path d="M121.1 460.6 v-2.6" stroke="#111" stroke-width="0.8"/>
<path d="M125.7 460.6 v-2.6" stroke="#111" stroke-width="0.8"/>
<path d="M134.9 460.6 v-2.6" stroke="#111" stroke-width="0.8"/>
<path d="M139.5 460.6 v-2.6" stroke="#111" stroke-width="0.8"/>
<path d="M144.1 460.6 v-2.6" stroke="#111" stroke-width="0.8"/>
<path d="M148.7 460.6 v-2.6" stroke="#111" stroke-width="0.8"/>
<path d="M153.3 460.6 v-2.6" stroke="#111" stroke-width="0.8"/>
<path d="M157.9 460.6 v-2.6" stroke="#111" stroke-width="0.8"/>
<path d="M167.1 460.6 v-2.6" stroke="#111" stroke-width="0.8"/>
<path d="M171.7 460.6 v-2.6" stroke="#111" stroke-width="0.8"/>
<path d="M176.3 460.6 v-2.6" stroke="#111" stroke-width="0.8"/>
<path d="M180.9 460.6 v-2.6" stroke="#111" stroke-width="0.8"/>
<path d="M185.5 460.6 v-2.6" stroke="#111" stroke-width="0.8"/>
<path d="M190.1 460.6 v-2.6" stroke="#111" stroke-width="0.8"/>
<path d="M61.3 388.0 L65.9 387.6 L70.5 361.0 L75.1 355.0 L79.7 349.1" stroke="#1f1b1c" stroke-width="1.8" fill="none" stroke-linejoin="round"/>
<path d="M61.3 383.2 V392.8 M59.7 383.2 h3.2 M59.7 392.8 h3.2" stroke="#2a2a2a" stroke-width="1" fill="none"/>
<path d="M65.9 382.8 V392.4 M64.3 382.8 h3.2 M64.3 392.4 h3.2" stroke="#2a2a2a" stroke-width="1" fill="none"/>
<path d="M70.5 358.5 V363.5 M68.9 358.5 h3.2 M68.9 363.5 h3.2" stroke="#2a2a2a" stroke-width="1" fill="none"/>
<path d="M75.1 353.0 V357.0 M73.5 353.0 h3.2 M73.5 357.0 h3.2" stroke="#2a2a2a" stroke-width="1" fill="none"/>
<path d="M79.7 347.1 V351.1 M78.1 347.1 h3.2 M78.1 351.1 h3.2" stroke="#2a2a2a" stroke-width="1" fill="none"/>
<path d="M61.3 385.7 l2.3 2.3 l-2.3 2.3 l-2.3 -2.3 z" fill="#1f1b1c"/>
<path d="M65.9 385.3 l2.3 2.3 l-2.3 2.3 l-2.3 -2.3 z" fill="#1f1b1c"/>
<path d="M70.5 358.7 l2.3 2.3 l-2.3 2.3 l-2.3 -2.3 z" fill="#1f1b1c"/>
<path d="M75.1 352.7 l2.3 2.3 l-2.3 2.3 l-2.3 -2.3 z" fill="#1f1b1c"/>
<path d="M79.7 346.8 l2.3 2.3 l-2.3 2.3 l-2.3 -2.3 z" fill="#1f1b1c"/>
<path d="M84.3 346.9 L88.9 344.6 L93.5 341.6 L98.1 339.1 L102.7 340.9 L107.3 343.9 L111.9 352.8 L116.5 342.4 L121.1 349.9 L125.7 338.7" stroke="#5a7e8d" stroke-width="1.8" fill="none" stroke-linejoin="round"/>
<path d="M84.3 345.4 V348.4 M82.7 345.4 h3.2 M82.7 348.4 h3.2" stroke="#2a2a2a" stroke-width="1" fill="none"/>
<path d="M88.9 343.1 V346.1 M87.3 343.1 h3.2 M87.3 346.1 h3.2" stroke="#2a2a2a" stroke-width="1" fill="none"/>
<path d="M93.5 340.1 V343.1 M91.9 340.1 h3.2 M91.9 343.1 h3.2" stroke="#2a2a2a" stroke-width="1" fill="none"/>
<path d="M98.1 337.6 V340.6 M96.5 337.6 h3.2 M96.5 340.6 h3.2" stroke="#2a2a2a" stroke-width="1" fill="none"/>
<path d="M102.7 339.4 V342.4 M101.1 339.4 h3.2 M101.1 342.4 h3.2" stroke="#2a2a2a" stroke-width="1" fill="none"/>
<path d="M107.3 342.4 V345.4 M105.7 342.4 h3.2 M105.7 345.4 h3.2" stroke="#2a2a2a" stroke-width="1" fill="none"/>
<path d="M111.9 350.8 V354.8 M110.3 350.8 h3.2 M110.3 354.8 h3.2" stroke="#2a2a2a" stroke-width="1" fill="none"/>
<path d="M116.5 339.4 V345.4 M114.9 339.4 h3.2 M114.9 345.4 h3.2" stroke="#2a2a2a" stroke-width="1" fill="none"/>
<path d="M121.1 347.9 V351.9 M119.5 347.9 h3.2 M119.5 351.9 h3.2" stroke="#2a2a2a" stroke-width="1" fill="none"/>
<path d="M125.7 335.7 V341.7 M124.1 335.7 h3.2 M124.1 341.7 h3.2" stroke="#2a2a2a" stroke-width="1" fill="none"/>
<path d="M84.3 344.6 l2.3 2.3 l-2.3 2.3 l-2.3 -2.3 z" fill="#5a7e8d"/>
<path d="M88.9 342.3 l2.3 2.3 l-2.3 2.3 l-2.3 -2.3 z" fill="#5a7e8d"/>
<path d="M93.5 339.3 l2.3 2.3 l-2.3 2.3 l-2.3 -2.3 z" fill="#5a7e8d"/>
<path d="M98.1 336.8 l2.3 2.3 l-2.3 2.3 l-2.3 -2.3 z" fill="#5a7e8d"/>
<path d="M102.7 338.6 l2.3 2.3 l-2.3 2.3 l-2.3 -2.3 z" fill="#5a7e8d"/>
<path d="M107.3 341.6 l2.3 2.3 l-2.3 2.3 l-2.3 -2.3 z" fill="#5a7e8d"/>
<path d="M111.9 350.5 l2.3 2.3 l-2.3 2.3 l-2.3 -2.3 z" fill="#5a7e8d"/>
<path d="M116.5 340.1 l2.3 2.3 l-2.3 2.3 l-2.3 -2.3 z" fill="#5a7e8d"/>
<path d="M121.1 347.6 l2.3 2.3 l-2.3 2.3 l-2.3 -2.3 z" fill="#5a7e8d"/>
<path d="M125.7 336.4 l2.3 2.3 l-2.3 2.3 l-2.3 -2.3 z" fill="#5a7e8d"/>
<path d="M134.9 353.4 L139.5 365.7 L144.1 379.8 L148.7 399.5 L153.3 401.4 L157.9 439.6" stroke="#1a8bd2" stroke-width="1.8" fill="none" stroke-linejoin="round"/>
<path d="M134.9 350.8 V356.0 M133.3 350.8 h3.2 M133.3 356.0 h3.2" stroke="#2a2a2a" stroke-width="1" fill="none"/>
<path d="M139.5 356.7 V374.7 M137.9 356.7 h3.2 M137.9 374.7 h3.2" stroke="#2a2a2a" stroke-width="1" fill="none"/>
<path d="M144.1 375.8 V383.8 M142.5 375.8 h3.2 M142.5 383.8 h3.2" stroke="#2a2a2a" stroke-width="1" fill="none"/>
<path d="M148.7 394.5 V404.5 M147.1 394.5 h3.2 M147.1 404.5 h3.2" stroke="#2a2a2a" stroke-width="1" fill="none"/>
<path d="M153.3 396.4 V406.4 M151.7 396.4 h3.2 M151.7 406.4 h3.2" stroke="#2a2a2a" stroke-width="1" fill="none"/>
<path d="M157.9 435.6 V443.6 M156.3 435.6 h3.2 M156.3 443.6 h3.2" stroke="#2a2a2a" stroke-width="1" fill="none"/>
<path d="M134.9 351.1 l2.3 2.3 l-2.3 2.3 l-2.3 -2.3 z" fill="#1a8bd2"/>
<path d="M139.5 363.4 l2.3 2.3 l-2.3 2.3 l-2.3 -2.3 z" fill="#1a8bd2"/>
<path d="M144.1 377.5 l2.3 2.3 l-2.3 2.3 l-2.3 -2.3 z" fill="#1a8bd2"/>
<path d="M148.7 397.2 l2.3 2.3 l-2.3 2.3 l-2.3 -2.3 z" fill="#1a8bd2"/>
<path d="M153.3 399.1 l2.3 2.3 l-2.3 2.3 l-2.3 -2.3 z" fill="#1a8bd2"/>
<path d="M157.9 437.3 l2.3 2.3 l-2.3 2.3 l-2.3 -2.3 z" fill="#1a8bd2"/>
<path d="M167.1 361.0 L171.7 341.3 L176.3 344.1 L180.9 335.8 L185.5 332.1 L190.1 329.0" stroke="#e62b2b" stroke-width="1.8" fill="none" stroke-linejoin="round"/>
<path d="M167.1 354.0 V368.0 M165.5 354.0 h3.2 M165.5 368.0 h3.2" stroke="#2a2a2a" stroke-width="1" fill="none"/>
<path d="M171.7 338.8 V343.8 M170.1 338.8 h3.2 M170.1 343.8 h3.2" stroke="#2a2a2a" stroke-width="1" fill="none"/>
<path d="M176.3 342.1 V346.1 M174.7 342.1 h3.2 M174.7 346.1 h3.2" stroke="#2a2a2a" stroke-width="1" fill="none"/>
<path d="M180.9 331.2 V340.4 M179.3 331.2 h3.2 M179.3 340.4 h3.2" stroke="#2a2a2a" stroke-width="1" fill="none"/>
<path d="M185.5 325.1 V339.1 M183.9 325.1 h3.2 M183.9 339.1 h3.2" stroke="#2a2a2a" stroke-width="1" fill="none"/>
<path d="M190.1 325.5 V332.5 M188.5 325.5 h3.2 M188.5 332.5 h3.2" stroke="#2a2a2a" stroke-width="1" fill="none"/>
<path d="M167.1 358.7 l2.3 2.3 l-2.3 2.3 l-2.3 -2.3 z" fill="#e62b2b"/>
<path d="M171.7 339.0 l2.3 2.3 l-2.3 2.3 l-2.3 -2.3 z" fill="#e62b2b"/>
<path d="M176.3 341.8 l2.3 2.3 l-2.3 2.3 l-2.3 -2.3 z" fill="#e62b2b"/>
<path d="M180.9 333.5 l2.3 2.3 l-2.3 2.3 l-2.3 -2.3 z" fill="#e62b2b"/>
<path d="M185.5 329.8 l2.3 2.3 l-2.3 2.3 l-2.3 -2.3 z" fill="#e62b2b"/>
<path d="M190.1 326.7 l2.3 2.3 l-2.3 2.3 l-2.3 -2.3 z" fill="#e62b2b"/>
<text transform="translate(59.5 479.5) scale(0.95 1)" text-anchor="middle" font-size="15.9" fill="#353334">1</text>
<text transform="translate(80 479.5) scale(0.95 1)" text-anchor="middle" font-size="15.9" fill="#353334">5</text>
<text transform="translate(101.3 479.5) scale(0.95 1)" text-anchor="middle" font-size="15.9" fill="#6d8e9c">10</text>
<text transform="translate(121.3 479.5) scale(0.95 1)" text-anchor="middle" font-size="15.9" fill="#6d8e9c">15</text>
<text transform="translate(133.8 479.5) scale(0.95 1)" text-anchor="middle" font-size="15.9" fill="#1a8bd2">1</text>
<text transform="translate(155 479.5) scale(0.95 1)" text-anchor="middle" font-size="15.9" fill="#1a8bd2">6</text>
<text transform="translate(166.3 479.5) scale(0.95 1)" text-anchor="middle" font-size="15.9" fill="#e03a2e">1</text>
<text transform="translate(187 479.5) scale(0.95 1)" text-anchor="middle" font-size="15.9" fill="#e03a2e">6</text>
<text transform="translate(51.3 495.5) scale(0.95 1)" textLength="28.11" lengthAdjust="spacing" font-size="15.9" fill="#353334">Acq</text>
<text transform="translate(93 495.5) scale(0.95 1)" textLength="20.53" lengthAdjust="spacing" font-size="15.9" fill="#6d8e9c">OT</text>
<text transform="translate(133.3 495.5) scale(0.95 1)" textLength="22.84" lengthAdjust="spacing" font-size="15.9" fill="#1a8bd2">Ext</text>
<text transform="translate(163.8 495.5) scale(0.95 1)" textLength="28.11" lengthAdjust="spacing" font-size="15.9" fill="#e03a2e">Rea</text>
<text transform="translate(69 517) scale(0.95 1)" textLength="109.47" lengthAdjust="spacing" font-size="15.9" fill="#353334">Learning stage</text>
<text transform="translate(22.4 457) rotate(-90) scale(0.95 1)" textLength="138.42" lengthAdjust="spacing" font-size="15.9" fill="#353334">Percentage correct</text>
<text x="203.2" y="301" font-weight="bold" stroke="#111" stroke-width="0.5" font-size="19" fill="#111">e</text>
<path d="M248 318 V461 H383.3" stroke="#111" stroke-width="1.1" fill="none"/>
<path d="M248 318.2 h3.6" stroke="#111" stroke-width="1"/>
<text transform="translate(240.3 323.8) scale(0.95 1)" text-anchor="end" font-size="15.9" fill="#353334">14</text>
<path d="M248 338.6 h3.6" stroke="#111" stroke-width="1"/>
<text transform="translate(240.3 344.2) scale(0.95 1)" text-anchor="end" font-size="15.9" fill="#353334">12</text>
<path d="M248 359.0 h3.6" stroke="#111" stroke-width="1"/>
<text transform="translate(240.3 364.6) scale(0.95 1)" text-anchor="end" font-size="15.9" fill="#353334">10</text>
<path d="M248 379.4 h3.6" stroke="#111" stroke-width="1"/>
<text transform="translate(240.3 385.0) scale(0.95 1)" text-anchor="end" font-size="15.9" fill="#353334">8</text>
<path d="M248 399.8 h3.6" stroke="#111" stroke-width="1"/>
<text transform="translate(240.3 405.4) scale(0.95 1)" text-anchor="end" font-size="15.9" fill="#353334">6</text>
<path d="M248 420.2 h3.6" stroke="#111" stroke-width="1"/>
<text transform="translate(240.3 425.8) scale(0.95 1)" text-anchor="end" font-size="15.9" fill="#353334">4</text>
<path d="M248 440.6 h3.6" stroke="#111" stroke-width="1"/>
<text transform="translate(240.3 446.2) scale(0.95 1)" text-anchor="end" font-size="15.9" fill="#353334">2</text>
<path d="M248 461.0 h3.6" stroke="#111" stroke-width="1"/>
<text transform="translate(240.3 466.6) scale(0.95 1)" text-anchor="end" font-size="15.9" fill="#353334">0</text>
<path d="M252.5 461 v-2.6" stroke="#111" stroke-width="0.8"/>
<path d="M257.1 461 v-2.6" stroke="#111" stroke-width="0.8"/>
<path d="M261.7 461 v-2.6" stroke="#111" stroke-width="0.8"/>
<path d="M266.3 461 v-2.6" stroke="#111" stroke-width="0.8"/>
<path d="M270.9 461 v-2.6" stroke="#111" stroke-width="0.8"/>
<path d="M275.5 461 v-2.6" stroke="#111" stroke-width="0.8"/>
<path d="M280.1 461 v-2.6" stroke="#111" stroke-width="0.8"/>
<path d="M284.7 461 v-2.6" stroke="#111" stroke-width="0.8"/>
<path d="M289.3 461 v-2.6" stroke="#111" stroke-width="0.8"/>
<path d="M293.9 461 v-2.6" stroke="#111" stroke-width="0.8"/>
<path d="M298.5 461 v-2.6" stroke="#111" stroke-width="0.8"/>
<path d="M303.1 461 v-2.6" stroke="#111" stroke-width="0.8"/>
<path d="M307.7 461 v-2.6" stroke="#111" stroke-width="0.8"/>
<path d="M312.3 461 v-2.6" stroke="#111" stroke-width="0.8"/>
<path d="M316.9 461 v-2.6" stroke="#111" stroke-width="0.8"/>
<path d="M326.1 461 v-2.6" stroke="#111" stroke-width="0.8"/>
<path d="M330.7 461 v-2.6" stroke="#111" stroke-width="0.8"/>
<path d="M335.3 461 v-2.6" stroke="#111" stroke-width="0.8"/>
<path d="M339.9 461 v-2.6" stroke="#111" stroke-width="0.8"/>
<path d="M344.5 461 v-2.6" stroke="#111" stroke-width="0.8"/>
<path d="M349.1 461 v-2.6" stroke="#111" stroke-width="0.8"/>
<path d="M358.3 461 v-2.6" stroke="#111" stroke-width="0.8"/>
<path d="M362.9 461 v-2.6" stroke="#111" stroke-width="0.8"/>
<path d="M367.5 461 v-2.6" stroke="#111" stroke-width="0.8"/>
<path d="M372.1 461 v-2.6" stroke="#111" stroke-width="0.8"/>
<path d="M376.7 461 v-2.6" stroke="#111" stroke-width="0.8"/>
<path d="M381.3 461 v-2.6" stroke="#111" stroke-width="0.8"/>
<path d="M252.5 365.0 L257.1 405.0 L261.7 424.5 L266.3 426.3 L270.9 427.5" stroke="#1f1b1c" stroke-width="1.8" fill="none" stroke-linejoin="round"/>
<path d="M252.5 352.0 V378.0 M250.9 352.0 h3.2 M250.9 378.0 h3.2" stroke="#2a2a2a" stroke-width="1" fill="none"/>
<path d="M257.1 397.5 V412.5 M255.5 397.5 h3.2 M255.5 412.5 h3.2" stroke="#2a2a2a" stroke-width="1" fill="none"/>
<path d="M261.7 421.5 V427.5 M260.1 421.5 h3.2 M260.1 427.5 h3.2" stroke="#2a2a2a" stroke-width="1" fill="none"/>
<path d="M266.3 423.3 V429.3 M264.7 423.3 h3.2 M264.7 429.3 h3.2" stroke="#2a2a2a" stroke-width="1" fill="none"/>
<path d="M270.9 424.5 V430.5 M269.3 424.5 h3.2 M269.3 430.5 h3.2" stroke="#2a2a2a" stroke-width="1" fill="none"/>
<path d="M252.5 362.7 l2.3 2.3 l-2.3 2.3 l-2.3 -2.3 z" fill="#1f1b1c"/>
<path d="M257.1 402.7 l2.3 2.3 l-2.3 2.3 l-2.3 -2.3 z" fill="#1f1b1c"/>
<path d="M261.7 422.2 l2.3 2.3 l-2.3 2.3 l-2.3 -2.3 z" fill="#1f1b1c"/>
<path d="M266.3 424.0 l2.3 2.3 l-2.3 2.3 l-2.3 -2.3 z" fill="#1f1b1c"/>
<path d="M270.9 425.2 l2.3 2.3 l-2.3 2.3 l-2.3 -2.3 z" fill="#1f1b1c"/>
<path d="M275.5 432.0 L280.1 435.5 L284.7 435.8 L289.3 437.5 L293.9 438.3 L298.5 441.3 L303.1 437.5 L307.7 441.3 L312.3 440.0 L316.9 440.0" stroke="#5a7e8d" stroke-width="1.8" fill="none" stroke-linejoin="round"/>
<path d="M275.5 430.5 V433.5 M273.9 430.5 h3.2 M273.9 433.5 h3.2" stroke="#2a2a2a" stroke-width="1" fill="none"/>
<path d="M280.1 434.5 V436.5 M278.5 434.5 h3.2 M278.5 436.5 h3.2" stroke="#2a2a2a" stroke-width="1" fill="none"/>
<path d="M284.7 434.8 V436.8 M283.1 434.8 h3.2 M283.1 436.8 h3.2" stroke="#2a2a2a" stroke-width="1" fill="none"/>
<path d="M289.3 436.5 V438.5 M287.7 436.5 h3.2 M287.7 438.5 h3.2" stroke="#2a2a2a" stroke-width="1" fill="none"/>
<path d="M293.9 437.3 V439.3 M292.3 437.3 h3.2 M292.3 439.3 h3.2" stroke="#2a2a2a" stroke-width="1" fill="none"/>
<path d="M298.5 440.3 V442.3 M296.9 440.3 h3.2 M296.9 442.3 h3.2" stroke="#2a2a2a" stroke-width="1" fill="none"/>
<path d="M303.1 433.5 V441.5 M301.5 433.5 h3.2 M301.5 441.5 h3.2" stroke="#2a2a2a" stroke-width="1" fill="none"/>
<path d="M307.7 440.3 V442.3 M306.1 440.3 h3.2 M306.1 442.3 h3.2" stroke="#2a2a2a" stroke-width="1" fill="none"/>
<path d="M312.3 438.5 V441.5 M310.7 438.5 h3.2 M310.7 441.5 h3.2" stroke="#2a2a2a" stroke-width="1" fill="none"/>
<path d="M316.9 439.0 V441.0 M315.3 439.0 h3.2 M315.3 441.0 h3.2" stroke="#2a2a2a" stroke-width="1" fill="none"/>
<path d="M275.5 429.7 l2.3 2.3 l-2.3 2.3 l-2.3 -2.3 z" fill="#5a7e8d"/>
<path d="M280.1 433.2 l2.3 2.3 l-2.3 2.3 l-2.3 -2.3 z" fill="#5a7e8d"/>
<path d="M284.7 433.5 l2.3 2.3 l-2.3 2.3 l-2.3 -2.3 z" fill="#5a7e8d"/>
<path d="M289.3 435.2 l2.3 2.3 l-2.3 2.3 l-2.3 -2.3 z" fill="#5a7e8d"/>
<path d="M293.9 436.0 l2.3 2.3 l-2.3 2.3 l-2.3 -2.3 z" fill="#5a7e8d"/>
<path d="M298.5 439.0 l2.3 2.3 l-2.3 2.3 l-2.3 -2.3 z" fill="#5a7e8d"/>
<path d="M303.1 435.2 l2.3 2.3 l-2.3 2.3 l-2.3 -2.3 z" fill="#5a7e8d"/>
<path d="M307.7 439.0 l2.3 2.3 l-2.3 2.3 l-2.3 -2.3 z" fill="#5a7e8d"/>
<path d="M312.3 437.7 l2.3 2.3 l-2.3 2.3 l-2.3 -2.3 z" fill="#5a7e8d"/>
<path d="M316.9 437.7 l2.3 2.3 l-2.3 2.3 l-2.3 -2.3 z" fill="#5a7e8d"/>
<path d="M326.1 405.8 L330.7 377.0 L335.3 373.8 L339.9 385.0 L344.5 356.3 L349.1 353.8" stroke="#1a8bd2" stroke-width="1.8" fill="none" stroke-linejoin="round"/>
<path d="M326.1 399.8 V411.8 M324.5 399.8 h3.2 M324.5 411.8 h3.2" stroke="#2a2a2a" stroke-width="1" fill="none"/>
<path d="M330.7 364.5 V389.5 M329.1 364.5 h3.2 M329.1 389.5 h3.2" stroke="#2a2a2a" stroke-width="1" fill="none"/>
<path d="M335.3 367.3 V380.3 M333.7 367.3 h3.2 M333.7 380.3 h3.2" stroke="#2a2a2a" stroke-width="1" fill="none"/>
<path d="M339.9 378.0 V392.0 M338.3 378.0 h3.2 M338.3 392.0 h3.2" stroke="#2a2a2a" stroke-width="1" fill="none"/>
<path d="M344.5 334.3 V378.3 M342.9 334.3 h3.2 M342.9 378.3 h3.2" stroke="#2a2a2a" stroke-width="1" fill="none"/>
<path d="M349.1 351.3 V356.3 M347.5 351.3 h3.2 M347.5 356.3 h3.2" stroke="#2a2a2a" stroke-width="1" fill="none"/>
<path d="M326.1 403.5 l2.3 2.3 l-2.3 2.3 l-2.3 -2.3 z" fill="#1a8bd2"/>
<path d="M330.7 374.7 l2.3 2.3 l-2.3 2.3 l-2.3 -2.3 z" fill="#1a8bd2"/>
<path d="M335.3 371.5 l2.3 2.3 l-2.3 2.3 l-2.3 -2.3 z" fill="#1a8bd2"/>
<path d="M339.9 382.7 l2.3 2.3 l-2.3 2.3 l-2.3 -2.3 z" fill="#1a8bd2"/>
<path d="M344.5 354.0 l2.3 2.3 l-2.3 2.3 l-2.3 -2.3 z" fill="#1a8bd2"/>
<path d="M349.1 351.5 l2.3 2.3 l-2.3 2.3 l-2.3 -2.3 z" fill="#1a8bd2"/>
<path d="M358.3 440.0 L362.9 437.0 L367.5 437.5 L372.1 438.8 L376.7 440.0 L381.3 435.0" stroke="#e62b2b" stroke-width="1.8" fill="none" stroke-linejoin="round"/>
<path d="M358.3 436.2 V443.8 M356.7 436.2 h3.2 M356.7 443.8 h3.2" stroke="#2a2a2a" stroke-width="1" fill="none"/>
<path d="M362.9 434.5 V439.5 M361.3 434.5 h3.2 M361.3 439.5 h3.2" stroke="#2a2a2a" stroke-width="1" fill="none"/>
<path d="M367.5 436.0 V439.0 M365.9 436.0 h3.2 M365.9 439.0 h3.2" stroke="#2a2a2a" stroke-width="1" fill="none"/>
<path d="M372.1 437.3 V440.3 M370.5 437.3 h3.2 M370.5 440.3 h3.2" stroke="#2a2a2a" stroke-width="1" fill="none"/>
<path d="M376.7 432.5 V447.5 M375.1 432.5 h3.2 M375.1 447.5 h3.2" stroke="#2a2a2a" stroke-width="1" fill="none"/>
<path d="M381.3 431.0 V439.0 M379.7 431.0 h3.2 M379.7 439.0 h3.2" stroke="#2a2a2a" stroke-width="1" fill="none"/>
<path d="M358.3 437.7 l2.3 2.3 l-2.3 2.3 l-2.3 -2.3 z" fill="#e62b2b"/>
<path d="M362.9 434.7 l2.3 2.3 l-2.3 2.3 l-2.3 -2.3 z" fill="#e62b2b"/>
<path d="M367.5 435.2 l2.3 2.3 l-2.3 2.3 l-2.3 -2.3 z" fill="#e62b2b"/>
<path d="M372.1 436.5 l2.3 2.3 l-2.3 2.3 l-2.3 -2.3 z" fill="#e62b2b"/>
<path d="M376.7 437.7 l2.3 2.3 l-2.3 2.3 l-2.3 -2.3 z" fill="#e62b2b"/>
<path d="M381.3 432.7 l2.3 2.3 l-2.3 2.3 l-2.3 -2.3 z" fill="#e62b2b"/>
<text transform="translate(251.3 479.5) scale(0.95 1)" text-anchor="middle" font-size="15.9" fill="#353334">1</text>
<text transform="translate(270 479.5) scale(0.95 1)" text-anchor="middle" font-size="15.9" fill="#353334">5</text>
<text transform="translate(291.3 479.5) scale(0.95 1)" text-anchor="middle" font-size="15.9" fill="#6d8e9c">10</text>
<text transform="translate(311.3 479.5) scale(0.95 1)" text-anchor="middle" font-size="15.9" fill="#6d8e9c">15</text>
<text transform="translate(325.5 479.5) scale(0.95 1)" text-anchor="middle" font-size="15.9" fill="#1a8bd2">1</text>
<text transform="translate(348 479.5) scale(0.95 1)" text-anchor="middle" font-size="15.9" fill="#1a8bd2">6</text>
<text transform="translate(359.5 479.5) scale(0.95 1)" text-anchor="middle" font-size="15.9" fill="#e03a2e">1</text>
<text transform="translate(381.3 479.5) scale(0.95 1)" text-anchor="middle" font-size="15.9" fill="#e03a2e">6</text>
<text transform="translate(245 495.5) scale(0.95 1)" textLength="28.95" lengthAdjust="spacing" font-size="15.9" fill="#353334">Acq</text>
<text transform="translate(287 495.5) scale(0.95 1)" textLength="21.58" lengthAdjust="spacing" font-size="15.9" fill="#6d8e9c">OT</text>
<text transform="translate(327.5 495.5) scale(0.95 1)" textLength="22.95" lengthAdjust="spacing" font-size="15.9" fill="#1a8bd2">Ext</text>
<text transform="translate(357.5 495.5) scale(0.95 1)" textLength="28.42" lengthAdjust="spacing" font-size="15.9" fill="#e03a2e">Rea</text>
<text transform="translate(258 516.5) scale(0.95 1)" textLength="110.53" lengthAdjust="spacing" font-size="15.9" fill="#353334">Learning stage</text>
<text transform="translate(215.6 444.8) rotate(-90) scale(0.95 1)" textLength="116.84" lengthAdjust="spacing" font-size="15.9" fill="#353334">Running time (s)</text>
<text x="395.3" y="300.5" font-weight="bold" stroke="#111" stroke-width="0.5" font-size="19" fill="#111">f</text>
<path d="M441.6 312.9 V460.7 H587.3" stroke="#111" stroke-width="1.1" fill="none"/>
<path d="M441.6 335.6 h3.6" stroke="#111" stroke-width="1"/>
<text transform="translate(435.3 341.2) scale(0.95 1)" text-anchor="end" font-size="15.9" fill="#353334">20</text>
<path d="M441.6 359.9 h3.6" stroke="#111" stroke-width="1"/>
<text transform="translate(435.3 365.5) scale(0.95 1)" text-anchor="end" font-size="15.9" fill="#353334">10</text>
<path d="M441.6 384.2 h3.6" stroke="#111" stroke-width="1"/>
<text transform="translate(435.3 389.8) scale(0.95 1)" text-anchor="end" font-size="15.9" fill="#353334">5</text>
<path d="M441.6 416.4 h3.6" stroke="#111" stroke-width="1"/>
<text transform="translate(435.3 422.0) scale(0.95 1)" text-anchor="end" font-size="15.9" fill="#353334">2</text>
<path d="M441.6 440.7 h3.6" stroke="#111" stroke-width="1"/>
<text transform="translate(435.3 446.3) scale(0.95 1)" text-anchor="end" font-size="15.9" fill="#353334">1</text>
<path d="M446.3 460.7 v-4" stroke="#111" stroke-width="1"/>
<path d="M472.7 460.7 v-4" stroke="#111" stroke-width="1"/>
<path d="M499.1 460.7 v-4" stroke="#111" stroke-width="1"/>
<path d="M525.5 460.7 v-4" stroke="#111" stroke-width="1"/>
<path d="M551.9 460.7 v-4" stroke="#111" stroke-width="1"/>
<path d="M578.3 460.7 v-4" stroke="#111" stroke-width="1"/>
<text transform="translate(447.7 480) scale(0.95 1)" text-anchor="middle" font-size="15.9" fill="#353334">0</text>
<text transform="translate(499 480) scale(0.95 1)" text-anchor="middle" font-size="15.9" fill="#353334">400</text>
<text transform="translate(552.3 480) scale(0.95 1)" text-anchor="middle" font-size="15.9" fill="#353334">800</text>
<text transform="translate(463.3 501.7) scale(0.95 1)" textLength="94.74" lengthAdjust="spacing" font-size="15.9" fill="#353334">Trial number</text>
<text transform="translate(409.5 443.4) rotate(-90) scale(0.95 1)" textLength="119.58" lengthAdjust="spacing" font-size="15.9" fill="#353334">Log duration (s)</text>
<path d="M500.6 432.4h0M496.6 432.5h0M525.8 441.5h0M520.3 438.6h0M530.8 437.8h0M518.0 437.0h0M537.6 433.9h0M528.2 433.9h0M505.3 430.3h0M479.8 432.5h0M488.9 424.7h0M531.5 438.1h0M520.1 437.5h0M477.4 431.3h0M526.9 434.3h0M531.7 433.1h0M487.5 429.6h0M529.8 441.0h0M481.4 436.8h0M522.2 434.1h0M495.1 437.9h0M489.1 432.0h0M502.9 440.2h0M527.2 431.4h0M491.1 431.1h0M500.2 434.9h0M533.3 439.3h0M511.7 435.5h0M487.8 440.1h0M532.7 440.3h0M534.1 433.6h0M519.2 437.5h0M510.1 431.5h0M493.3 433.7h0M500.8 439.9h0M529.7 445.1h0M476.8 433.5h0M537.8 440.5h0M492.5 436.3h0M514.9 427.6h0M503.9 435.1h0M517.5 439.1h0M495.8 436.0h0M532.9 436.3h0M476.0 437.4h0M530.5 442.1h0M499.9 426.8h0M535.1 432.5h0M498.1 433.9h0M512.5 430.6h0M530.9 439.7h0M529.3 440.3h0M487.7 436.8h0M479.2 438.3h0M476.0 437.5h0M517.8 435.9h0M508.0 435.2h0M527.1 437.7h0M489.5 435.8h0M523.0 432.9h0M478.4 430.2h0M534.2 435.2h0M487.5 429.4h0M504.1 433.7h0M479.3 433.8h0M536.2 435.6h0M487.6 430.7h0M515.9 428.4h0M490.5 435.1h0M475.7 433.7h0M515.4 440.8h0M504.2 437.9h0M476.1 438.5h0M521.9 438.0h0M516.3 437.2h0M519.0 432.8h0M514.5 436.5h0M492.9 436.5h0M504.1 438.4h0M508.3 440.2h0M519.7 431.0h0M492.1 431.2h0M536.0 442.0h0M509.1 436.0h0M484.1 437.8h0M489.9 433.6h0M518.3 433.9h0M523.6 437.9h0M494.2 441.5h0M519.1 440.3h0M536.5 441.1h0M537.1 430.0h0M476.3 428.3h0M529.4 435.1h0M533.0 440.5h0M523.8 439.4h0M514.8 439.1h0M521.1 433.8h0M483.0 440.9h0M529.6 433.9h0M498.8 440.3h0M510.3 431.9h0M480.9 431.9h0M490.2 434.4h0M489.7 434.3h0M478.1 435.2h0M514.6 427.1h0M521.3 438.1h0M499.9 435.3h0M535.3 437.0h0M525.1 438.5h0M528.4 432.1h0M498.9 438.4h0M517.3 439.2h0M526.2 443.3h0M520.6 435.3h0M480.5 435.5h0M500.6 434.8h0M528.7 434.1h0M508.2 438.5h0M479.5 437.2h0M477.7 436.1h0M535.3 431.3h0M507.5 443.8h0M534.9 443.1h0M516.5 432.3h0M519.9 434.3h0M524.6 432.5h0M488.1 433.4h0M494.5 435.0h0M501.4 440.1h0M507.6 436.2h0M510.1 436.4h0M476.0 437.9h0M525.1 432.6h0M516.2 431.0h0M521.3 442.2h0M515.6 433.4h0M502.1 433.1h0M534.7 433.5h0M499.0 435.5h0M528.9 437.3h0M492.1 429.3h0M496.1 438.5h0M481.4 430.6h0M497.9 439.5h0M490.2 432.2h0M512.1 436.4h0M517.7 434.4h0M523.7 440.1h0M501.8 435.5h0M505.6 434.2h0M492.2 429.2h0M485.4 432.7h0M495.2 436.0h0M524.2 439.6h0M502.6 430.4h0M497.1 429.6h0M515.2 430.7h0M526.7 430.2h0M498.3 432.1h0M495.4 429.3h0M517.4 432.0h0M508.9 432.4h0M515.9 443.8h0M530.5 438.4h0M498.6 444.0h0M514.5 439.2h0M476.1 433.0h0M502.4 441.5h0M525.1 438.4h0M535.5 439.9h0M481.3 437.6h0M508.8 435.6h0M494.3 438.7h0M490.8 438.1h0M516.1 434.0h0M497.0 435.1h0M528.5 436.9h0M527.4 435.4h0M493.4 433.6h0M535.6 432.4h0M489.3 433.5h0M531.4 446.1h0M521.0 438.6h0M510.7 435.6h0M520.5 433.9h0M485.7 433.1h0M533.3 437.6h0M526.1 432.7h0M495.6 427.3h0M483.7 428.6h0M487.9 435.2h0M535.2 435.7h0M490.9 432.3h0M481.7 434.4h0M485.7 430.9h0M506.7 437.9h0M527.9 435.3h0M485.6 431.2h0M521.6 435.1h0M529.1 439.2h0M485.2 436.8h0M500.4 428.6h0M483.4 438.0h0M516.9 435.7h0M482.3 434.5h0M502.6 440.9h0M501.0 435.7h0M497.8 430.8h0M522.5 440.1h0M504.5 438.2h0M481.5 431.8h0M480.5 431.7h0M505.6 434.6h0M497.6 437.2h0M500.6 437.5h0M492.6 438.0h0M514.2 434.0h0M494.5 432.0h0M521.6 437.0h0M489.7 438.8h0M496.7 435.1h0M500.2 434.1h0M527.7 433.9h0M477.5 433.5h0M496.2 439.1h0M520.4 439.0h0M492.1 425.1h0M525.5 433.1h0M495.3 426.8h0M507.2 433.3h0M483.2 437.6h0M519.7 439.7h0M480.3 433.0h0M531.6 437.4h0M495.6 435.2h0M506.6 433.3h0M478.1 440.3h0M483.2 428.9h0M487.2 435.5h0M524.6 432.7h0M504.9 436.5h0M526.5 433.1h0M484.4 427.1h0M516.5 440.5h0M524.8 437.6h0M526.0 434.7h0M502.4 428.8h0M489.8 428.9h0M535.6 439.4h0M526.9 436.8h0M512.2 435.2h0M503.2 428.9h0M494.3 441.0h0M517.4 436.4h0M488.0 434.8h0M528.3 434.0h0M492.0 430.1h0M524.9 433.1h0M510.4 432.6h0M518.7 432.6h0M491.6 439.6h0M485.5 435.7h0M524.7 434.3h0M527.3 434.4h0M506.7 439.8h0M496.2 438.0h0M506.2 432.8h0M497.6 437.7h0M495.7 431.1h0M508.8 428.1h0M514.7 435.4h0M497.9 432.7h0M518.1 434.8h0M510.7 431.5h0M497.4 427.8h0M513.3 433.9h0M524.6 448.6h0M508.6 436.2h0M521.5 439.9h0M475.5 433.9h0M501.5 436.9h0M536.4 434.0h0M527.6 432.8h0M486.0 435.4h0M527.1 436.7h0M477.4 430.7h0M491.7 436.8h0M503.4 432.8h0M514.3 434.8h0M531.6 434.1h0M498.6 440.4h0M475.9 431.7h0M477.8 437.2h0M533.7 436.2h0M477.5 434.0h0M535.9 436.1h0M498.0 433.9h0M528.9 433.0h0M482.0 433.9h0M498.8 430.0h0M484.4 435.9h0M531.8 435.8h0M486.5 433.2h0M483.4 434.1h0M524.8 437.5h0M512.2 434.0h0M492.3 434.3h0M496.0 431.8h0M495.0 435.2h0M501.2 427.3h0M491.1 428.0h0M477.0 435.2h0M488.3 431.8h0M485.6 436.8h0M538.3 433.1h0M483.7 433.8h0M508.6 434.6h0M476.3 431.5h0M475.4 443.3h0M503.7 433.6h0M490.9 428.3h0M527.3 448.0h0M488.1 432.6h0M527.2 438.4h0M522.6 431.7h0M494.6 439.3h0M502.9 427.0h0M538.5 437.7h0M524.5 440.3h0M533.0 438.5h0M533.6 442.5h0M530.6 436.7h0M480.9 435.4h0M537.4 431.3h0M508.6 434.8h0M502.4 436.5h0M494.2 438.4h0M491.2 437.4h0M522.5 437.4h0M488.5 431.6h0M499.0 427.6h0M501.7 435.4h0M511.4 432.8h0M530.7 443.6h0M527.6 430.0h0M500.1 434.6h0M485.2 440.2h0M519.0 441.4h0M485.0 435.5h0M479.2 429.8h0M530.0 426.7h0M518.0 436.3h0M517.1 439.3h0M507.1 433.9h0M500.8 433.3h0M536.5 441.8h0M490.2 434.1h0M502.1 434.5h0M530.2 438.2h0M499.6 430.6h0M493.7 436.0h0M520.5 446.0h0M538.5 440.8h0M532.0 439.9h0M475.8 439.7h0M528.0 443.7h0M513.5 443.7h0M496.5 438.4h0M492.6 433.8h0M517.9 431.8h0M533.5 441.3h0M484.3 437.2h0M486.0 434.8h0M490.6 433.1h0M502.2 431.2h0M530.1 436.5h0M494.3 437.9h0M493.5 431.4h0M517.1 443.9h0M512.7 432.3h0M522.5 431.8h0M486.4 435.3h0M475.8 437.0h0M484.6 437.1h0M517.3 441.5h0M511.9 433.7h0M507.2 435.7h0M481.6 442.4h0M480.0 437.5h0M524.5 436.5h0M483.5 426.6h0M484.0 432.1h0M524.2 434.0h0M533.1 435.1h0M491.9 432.5h0M480.7 437.2h0M505.6 432.6h0M533.9 438.6h0M532.8 427.1h0M516.4 441.2h0M524.3 435.2h0M529.3 438.9h0M491.3 436.5h0M515.2 436.6h0M526.0 436.9h0M534.4 434.2h0M477.0 434.9h0M529.7 439.2h0M521.8 431.2h0M507.6 434.0h0M521.6 441.7h0M486.0 439.8h0M538.1 439.6h0M483.5 433.2h0M523.6 434.1h0M493.0 433.6h0M529.5 436.7h0M507.3 437.2h0M514.8 433.9h0M475.2 440.3h0M507.1 436.5h0M493.4 434.9h0M527.0 441.9h0M488.5 432.2h0M527.1 436.1h0M482.7 441.9h0M518.8 431.5h0M475.2 439.2h0M536.6 442.0h0M491.0 433.3h0M504.9 442.3h0M484.3 434.6h0M485.9 437.5h0M489.2 435.1h0M497.1 437.6h0M523.1 436.7h0M483.3 439.7h0M509.7 438.5h0M498.6 431.0h0M513.9 434.0h0M531.3 438.9h0M491.8 436.8h0M477.0 437.2h0M490.8 435.2h0M488.8 432.7h0M508.2 433.1h0M501.9 431.8h0M508.9 425.2h0M495.1 435.5h0M515.2 435.4h0M520.7 440.6h0M533.2 436.7h0M511.5 440.5h0M503.6 431.5h0M496.1 431.2h0M517.8 437.5h0M524.9 435.6h0M498.9 435.6h0M535.9 439.6h0M476.2 435.6h0M501.1 435.1h0M482.8 436.0h0M510.9 435.1h0M512.7 431.6h0M533.8 437.8h0M531.0 439.8h0M512.4 436.0h0M537.0 439.5h0M524.1 436.1h0M499.7 426.8h0M485.1 435.1h0M533.6 437.8h0M520.9 438.0h0M482.1 438.4h0M501.5 433.8h0M517.3 434.4h0M475.9 436.3h0M521.9 434.4h0M484.8 436.3h0M534.1 436.9h0M522.8 442.3h0M489.0 437.4h0M476.6 435.3h0M527.4 435.0h0M512.3 436.1h0M490.2 435.5h0M484.4 434.8h0M476.5 433.6h0M496.3 444.6h0M492.0 436.9h0M493.0 436.2h0M492.5 430.0h0M496.6 435.3h0M488.9 434.5h0M484.3 432.1h0M531.2 442.7h0M493.1 431.8h0M504.8 428.0h0M526.6 441.1h0M503.5 435.5h0M478.2 438.3h0M518.9 434.4h0M528.0 435.2h0M529.1 437.5h0M529.6 436.7h0M506.1 434.0h0M480.0 435.7h0M536.8 432.3h0M519.0 438.6h0M520.3 436.8h0M497.1 427.1h0M489.0 434.6h0M505.9 432.1h0M494.3 429.3h0M532.7 433.8h0M499.1 431.1h0M506.7 446.9h0M494.5 440.9h0M528.1 435.5h0M530.9 436.0h0M507.5 438.1h0M520.8 436.1h0M476.6 439.4h0M503.5 435.7h0M532.6 439.5h0M499.1 439.6h0M498.9 441.2h0M534.1 440.6h0M505.0 434.1h0M514.7 440.8h0M508.5 433.1h0M496.1 440.7h0M510.7 435.8h0M518.1 436.7h0M519.0 442.1h0M497.5 439.6h0M530.9 435.7h0M534.9 434.6h0M534.6 433.2h0M531.9 434.9h0M538.4 440.9h0M522.5 440.7h0M497.2 430.7h0M477.2 433.1h0M509.8 432.3h0M481.3 436.3h0M475.5 432.7h0M522.9 438.2h0M504.5 445.3h0M489.6 431.8h0M511.4 438.7h0M500.1 427.9h0M518.8 436.5h0M522.1 436.4h0M491.8 431.8h0M538.1 438.8h0M483.8 436.1h0M488.0 438.9h0M498.2 436.6h0M503.8 436.8h0M494.4 432.1h0M525.1 439.1h0M491.8 435.8h0M501.4 435.0h0M535.2 439.6h0M500.0 434.1h0M526.4 440.3h0M532.9 436.6h0M527.4 436.4h0M481.5 434.2h0M528.3 438.6h0M484.7 434.1h0M493.1 433.8h0M483.0 435.6h0M529.3 438.6h0M518.2 433.1h0M522.5 437.1h0M503.3 431.7h0M497.8 433.9h0M519.3 438.4h0M474.7 431.9h0M505.0 438.7h0M517.1 441.6h0M482.8 439.8h0M492.9 434.9h0M476.1 437.4h0M486.0 442.9h0M525.4 436.7h0M510.7 438.1h0M475.1 428.7h0M478.8 435.9h0M478.5 429.7h0M517.3 440.3h0M490.0 432.7h0M512.2 436.9h0M497.8 428.3h0M521.4 439.1h0M519.4 433.1h0M509.0 436.1h0M477.5 436.4h0M485.7 435.9h0M537.2 442.3h0M513.6 435.8h0M526.5 439.1h0M522.9 440.8h0M526.0 432.0h0M537.0 441.7h0M496.5 437.3h0M488.1 434.9h0M531.9 429.3h0M495.7 438.9h0M501.1 440.1h0M507.6 431.7h0M520.5 438.8h0M534.9 441.8h0M502.6 434.7h0M532.7 440.9h0M528.6 439.6h0M508.8 437.6h0M508.8 441.2h0M503.4 437.3h0M510.9 440.5h0M532.8 435.9h0M532.3 440.1h0M483.2 439.2h0M490.5 444.7h0M508.9 431.0h0M518.2 433.5h0M516.2 434.7h0M483.9 434.7h0M485.6 447.1h0M495.7 433.5h0M486.3 438.1h0M509.2 434.3h0M481.3 440.8h0M522.7 439.5h0M515.9 428.2h0M486.9 429.0h0M498.0 440.4h0M493.2 440.1h0M500.9 435.6h0M538.4 436.7h0M505.3 431.7h0M513.2 432.1h0M523.2 430.4h0M487.3 427.6h0M515.2 444.3h0M497.5 434.6h0M478.8 434.8h0M493.7 439.3h0M486.4 430.9h0M498.9 435.0h0M521.7 432.8h0M521.3 436.1h0M503.3 435.7h0M484.9 440.9h0M497.6 427.8h0M508.6 432.5h0M512.7 436.9h0M526.8 435.8h0M478.7 437.4h0M485.6 430.5h0M523.1 433.3h0M535.3 442.6h0M513.4 426.1h0M538.7 441.2h0M516.6 437.2h0M497.7 439.4h0M492.2 440.2h0M532.7 436.7h0M491.9 437.3h0M529.7 440.5h0M480.7 435.4h0M528.1 440.5h0M482.7 436.0h0M507.4 433.0h0M505.6 433.0h0M479.1 434.0h0M483.0 435.1h0M512.2 436.0h0M511.6 435.6h0M519.1 435.3h0M506.6 435.1h0M500.3 437.1h0M528.4 438.0h0M519.0 438.1h0M526.0 433.8h0M476.3 433.3h0M520.8 434.2h0M490.7 437.9h0M488.1 434.4h0M535.1 437.1h0M529.1 442.6h0M536.0 438.3h0M490.2 432.3h0M498.9 430.6h0M511.5 437.4h0M509.5 437.9h0M486.5 439.7h0M515.3 444.3h0M526.6 445.4h0M480.0 433.1h0M524.8 438.7h0M518.8 438.4h0M537.8 436.8h0M502.5 432.7h0M474.4 429.2h0M502.5 432.0h0M508.0 435.8h0M535.4 447.5h0M484.8 434.8h0M511.4 443.5h0M538.0 441.5h0M474.3 437.0h0M500.6 435.5h0M505.7 435.2h0M508.0 431.2h0M475.9 434.3h0M518.4 437.0h0M509.8 437.2h0M518.8 447.7h0M513.8 440.5h0M521.0 430.1h0M518.6 433.4h0M475.0 432.1h0M488.9 434.5h0M531.2 432.2h0M505.2 434.5h0M476.2 425.6h0M531.0 437.7h0M491.9 433.1h0M488.6 436.7h0M498.9 428.3h0M495.8 433.4h0M491.3 435.6h0M504.2 437.5h0M475.5 435.4h0M527.1 437.0h0M482.4 436.3h0M514.8 436.1h0M477.5 436.3h0M507.2 433.2h0M510.5 435.3h0M531.4 437.6h0M487.2 431.1h0M487.9 434.7h0M524.6 438.3h0M481.0 434.0h0M479.5 436.2h0M504.2 431.9h0M532.9 441.4h0M509.1 442.9h0M485.7 435.4h0M530.1 434.6h0M474.6 435.6h0M506.3 433.1h0M483.5 427.4h0M528.6 439.9h0M483.2 435.8h0M511.3 429.1h0M521.9 441.5h0M477.6 439.9h0M513.3 436.4h0M483.6 429.6h0M514.7 437.3h0M479.0 435.1h0M503.3 435.5h0M524.9 434.7h0M521.3 440.5h0M504.4 436.2h0M511.3 438.3h0M500.3 436.3h0M521.7 438.4h0M535.1 443.5h0M475.8 432.9h0M531.1 444.4h0M525.3 440.6h0M537.5 438.6h0M482.0 431.7h0M533.3 439.4h0M506.9 434.1h0M512.0 432.4h0M513.2 437.2h0M506.4 434.0h0M482.2 428.7h0M480.6 432.8h0M500.4 434.8h0M496.3 436.7h0M494.4 432.2h0M532.2 436.6h0M508.5 437.7h0M514.3 437.9h0M503.9 431.6h0M506.1 434.8h0M487.2 431.4h0M520.5 435.7h0M537.0 441.8h0M507.1 435.1h0M496.3 433.7h0M480.3 438.5h0M496.2 436.9h0M513.2 441.2h0M521.8 437.1h0M482.0 440.3h0M509.1 441.0h0M521.5 434.2h0M478.3 434.1h0M492.9 434.3h0M535.8 441.1h0M487.5 434.5h0M522.5 433.6h0M537.0 435.7h0M524.4 432.4h0M492.6 440.5h0M522.5 432.6h0M524.0 438.5h0M509.5 436.2h0M475.0 439.6h0M516.6 432.7h0M487.0 434.9h0M476.5 428.7h0M516.6 440.9h0M524.7 434.4h0M487.5 436.4h0M493.0 436.1h0M526.1 436.1h0M476.8 437.6h0M508.6 437.1h0M481.5 430.9h0M506.5 436.6h0M523.7 436.9h0M476.0 438.7h0M532.9 437.2h0M530.8 443.1h0M531.2 442.3h0M492.6 429.9h0M480.3 435.4h0M525.5 439.2h0M529.5 439.9h0M485.1 443.8h0M479.4 437.0h0M494.4 430.4h0M529.3 442.4h0M504.6 439.4h0M499.5 434.7h0M530.7 440.4h0M485.3 428.7h0M503.2 436.6h0M493.8 435.7h0M486.1 436.1h0M535.9 441.6h0M533.1 436.2h0M478.2 431.8h0M494.9 431.3h0M517.6 442.2h0M494.9 432.8h0M526.8 440.4h0M533.8 436.3h0M510.8 431.3h0M520.3 440.6h0M483.5 436.6h0M484.0 435.2h0M516.5 433.4h0M514.8 433.1h0M527.2 440.4h0M535.9 435.5h0M532.2 433.3h0M522.5 434.0h0M527.3 435.5h0M475.0 434.7h0M491.7 436.0h0M496.5 434.1h0M507.2 432.9h0M514.0 431.8h0M536.9 438.0h0M531.2 445.6h0M519.6 432.8h0M525.6 430.3h0M536.7 442.6h0M516.0 425.6h0M510.7 434.6h0M501.9 436.4h0M491.4 434.8h0M492.7 437.9h0M492.8 437.5h0M507.7 434.6h0M482.1 433.6h0M534.6 440.9h0M511.0 442.9h0M502.5 432.8h0M526.1 433.0h0M488.5 439.4h0M484.3 432.5h0M496.6 432.9h0M506.0 438.4h0M506.0 434.2h0M485.3 440.8h0M516.0 445.4h0M524.0 431.3h0M529.3 435.6h0M516.8 438.0h0M502.7 433.1h0M482.4 437.1h0M503.7 437.2h0M504.2 440.2h0M484.3 433.0h0M520.7 432.6h0M530.9 429.0h0M537.9 438.9h0M499.5 439.1h0M504.4 432.6h0M499.6 436.8h0M507.1 433.2h0M519.0 436.6h0M475.1 433.3h0M522.4 444.7h0M536.7 436.0h0M507.3 431.1h0M487.7 427.0h0M533.9 435.3h0M507.2 432.1h0M499.4 431.9h0M513.1 435.6h0M477.6 434.8h0M518.5 440.5h0M520.8 435.6h0M527.2 440.9h0M488.2 437.0h0M477.8 430.9h0M514.2 431.6h0M529.3 434.5h0M475.5 436.6h0M528.5 439.1h0M520.7 434.5h0M483.5 431.0h0M512.7 431.7h0M487.3 435.1h0M478.4 438.0h0M494.4 429.6h0M496.3 432.6h0M499.6 437.5h0M493.6 435.2h0M529.9 435.2h0M482.5 439.4h0M510.5 428.9h0M526.6 443.1h0M537.5 443.6h0M509.1 432.4h0M480.6 424.2h0M485.9 419.1h0M488.5 421.1h0M499.1 425.3h0M505.7 424.2h0M516.3 425.3h0M528.1 427.7h0M493.8 426.5h0" stroke="#5f7e88" stroke-width="3.1" stroke-linecap="round" fill="none"/>
<path d="M458.2 424.7h0M463.5 427.6h0M458.9 428.4h0M467.8 428.9h0M467.4 422.0h0M451.0 414.7h0M459.4 426.4h0M465.9 430.8h0M465.3 431.2h0M453.1 422.7h0M471.7 424.0h0M455.2 419.0h0M456.0 421.2h0M471.5 429.3h0M472.2 430.1h0M447.7 412.9h0M447.2 406.0h0M467.9 433.7h0M468.6 432.5h0M467.3 426.1h0M455.6 429.5h0M466.8 422.1h0M464.5 421.0h0M464.0 428.3h0M468.5 423.8h0M471.2 432.3h0M469.8 432.9h0M447.3 410.4h0M472.8 420.1h0M462.6 420.7h0M464.2 411.8h0M459.8 410.6h0M468.9 424.8h0M474.2 426.3h0M454.7 427.2h0M472.7 426.5h0M456.5 424.1h0M448.7 410.1h0M448.8 423.7h0M455.4 423.8h0M450.7 428.5h0M452.8 413.4h0M451.0 429.5h0M469.3 416.9h0M466.4 420.6h0M450.1 419.3h0M456.2 421.3h0M473.0 417.3h0M455.8 434.3h0M467.4 424.2h0M473.0 419.4h0M447.7 407.2h0M459.8 422.7h0M460.0 425.6h0M469.1 431.0h0M461.2 426.1h0M472.8 427.4h0M462.8 423.0h0M461.0 423.1h0M464.4 422.3h0M450.5 416.9h0M451.7 417.5h0M463.8 412.3h0M472.6 426.8h0M471.9 429.7h0M455.5 425.1h0M471.8 434.2h0M465.5 432.4h0M473.9 434.1h0M469.3 426.0h0M472.6 435.8h0M466.3 425.9h0M458.1 431.6h0M456.5 428.3h0M454.7 421.8h0M458.6 424.8h0M457.2 420.0h0M457.4 422.2h0M455.0 425.3h0M468.3 428.1h0M468.6 423.6h0M468.2 426.9h0M454.8 416.4h0M459.6 429.1h0M470.5 431.1h0M466.8 433.1h0M454.7 416.6h0M454.5 412.8h0M453.0 422.9h0M452.9 423.6h0M467.8 432.8h0M455.6 416.5h0M471.8 428.8h0M457.1 422.2h0M453.0 419.6h0M462.0 433.5h0M471.7 436.3h0M450.1 406.6h0M458.4 418.1h0M473.9 422.7h0M473.0 428.4h0M459.7 429.1h0M470.3 427.2h0M457.7 428.8h0M457.7 422.2h0M469.7 428.0h0M453.6 423.3h0M451.5 416.6h0M470.6 428.6h0M471.3 432.2h0M457.6 428.1h0M457.5 424.3h0M462.7 427.5h0M462.2 422.0h0M471.6 426.3h0M460.4 423.5h0M454.0 428.7h0M463.6 427.4h0M451.0 426.4h0M449.5 419.6h0M449.6 412.1h0M460.1 428.4h0M456.9 425.5h0M470.8 426.4h0M457.4 426.0h0M457.1 417.7h0M453.0 423.3h0M458.9 425.7h0M466.1 420.1h0M464.6 425.7h0M464.6 427.2h0M466.3 417.7h0M465.5 425.2h0M474.1 421.0h0M451.0 413.9h0M458.7 420.9h0M450.6 400.7h0M474.3 420.7h0M461.7 422.9h0M447.6 414.9h0M451.9 419.4h0M461.0 425.3h0M463.6 420.0h0M453.3 414.4h0M467.1 425.5h0M460.2 424.6h0M473.3 426.2h0M451.0 410.3h0M470.5 417.9h0M463.1 424.3h0M447.5 419.3h0M464.4 432.3h0M467.3 431.5h0M451.8 406.8h0M458.2 430.5h0M449.9 418.7h0M454.8 420.9h0M453.2 424.9h0M473.1 426.6h0M473.0 441.3h0M462.1 423.1h0M447.5 409.2h0M465.5 421.1h0M469.1 417.4h0M457.2 433.7h0M460.3 414.7h0M450.9 410.4h0M451.7 422.7h0M474.1 421.3h0M461.9 423.7h0M450.0 422.7h0M472.6 429.4h0M451.1 426.2h0M467.9 423.0h0M447.6 413.7h0M469.9 420.1h0M472.1 428.2h0M470.1 428.3h0M463.0 430.8h0M458.9 414.8h0M466.2 427.8h0M469.7 420.5h0M452.3 410.1h0M469.9 424.9h0M470.1 426.2h0M474.1 428.8h0M473.8 427.1h0M458.3 420.9h0M468.4 422.7h0M468.3 420.3h0M470.5 422.6h0M472.8 426.7h0M452.9 424.9h0M471.4 430.6h0M463.2 427.1h0M447.2 404.8h0M464.9 421.1h0M460.9 428.1h0M453.1 422.2h0M449.3 428.5h0M452.5 431.0h0M447.5 407.2h0M461.2 411.6h0M446.7 417.1h0M463.7 430.3h0M469.6 432.2h0M448.3 413.1h0M461.1 433.4h0M471.8 415.9h0M458.0 424.6h0M463.3 419.7h0M447.7 420.1h0M460.3 425.1h0M465.6 420.8h0M449.9 431.5h0M460.2 431.6h0M469.6 425.0h0M457.6 412.8h0M459.8 424.1h0M463.2 430.6h0M470.6 427.0h0M467.0 435.1h0M468.5 422.5h0M468.4 426.1h0M447.5 411.2h0M464.6 430.5h0M473.9 423.0h0M466.2 436.8h0M459.3 420.8h0M471.8 430.8h0M468.9 433.9h0M447.3 417.7h0M447.9 408.7h0M474.0 421.7h0M467.3 413.8h0M462.8 422.8h0M462.1 425.7h0M452.0 419.6h0M449.9 413.5h0M448.9 418.7h0M466.9 429.8h0M447.5 409.4h0M465.3 423.5h0M454.8 433.5h0M463.3 425.7h0M461.8 427.4h0M460.8 424.9h0M452.9 410.4h0M460.0 414.1h0M465.5 423.8h0M472.0 420.6h0M450.2 409.5h0M456.2 434.6h0M452.2 417.0h0M468.8 436.9h0M468.3 438.8h0M464.1 427.0h0M463.3 427.7h0M473.1 421.3h0M462.6 427.1h0M463.4 434.0h0M466.5 428.0h0M467.4 430.9h0M450.2 425.0h0M472.0 423.6h0M461.9 426.3h0M473.0 420.2h0M463.6 424.9h0M450.5 405.2h0M465.3 429.9h0M466.0 429.6h0M463.4 429.1h0M456.9 423.2h0M450.5 407.4h0M451.3 415.4h0M459.1 431.2h0M462.1 424.4h0M448.7 429.2h0M447.8 413.7h0M447.3 416.6h0M456.9 414.0h0M455.4 419.0h0M466.0 420.6h0M471.9 427.1h0M465.5 421.6h0M462.5 428.0h0M454.3 418.9h0M455.1 420.6h0M448.7 412.3h0M472.9 427.0h0M472.6 432.1h0M467.7 423.9h0M467.0 427.1h0M468.5 429.5h0M470.5 426.5h0M447.7 406.0h0M466.5 425.9h0M457.2 424.1h0M463.4 420.7h0M463.7 433.0h0M464.2 422.7h0M456.8 425.4h0M466.4 426.6h0M469.9 426.6h0M468.2 417.6h0M456.3 435.2h0M451.8 413.3h0M466.4 423.8h0M450.6 415.3h0M473.8 429.6h0M472.0 426.9h0M467.9 418.0h0M467.2 434.9h0M454.8 413.0h0M450.7 409.4h0M457.2 419.3h0M455.8 417.8h0M469.4 420.2h0M456.9 435.2h0M466.3 427.4h0M446.9 406.8h0M446.8 418.2h0M457.7 421.7h0M458.1 412.7h0M460.5 424.9h0M457.5 420.3h0M458.3 430.6h0M447.5 402.8h0M450.8 412.9h0M454.6 418.7h0M468.5 431.2h0M454.0 420.5h0M470.5 435.5h0M454.4 411.5h0M462.3 427.6h0M468.9 429.5h0M447.4 409.9h0M457.7 420.2h0M458.4 430.3h0M469.9 434.0h0M464.6 424.5h0M463.8 423.2h0M470.9 419.7h0M465.5 424.6h0M450.0 410.3h0M461.4 427.2h0M456.4 423.7h0M457.9 419.9h0M447.0 405.8h0M474.2 422.3h0M466.5 434.7h0M452.1 422.9h0M453.4 415.8h0M452.5 418.7h0M457.6 432.3h0M451.7 431.9h0M454.8 437.4h0M455.4 427.6h0M463.3 430.2h0M470.2 428.8h0M447.4 380.2h0M447.9 392.9h0M448.9 395.8h0M450.3 398.8h0M460.8 405.8h0M467.4 410.0h0M458.2 407.2h0M454.2 403.3h0M463.5 411.5h0" stroke="#1f1b1c" stroke-width="3.1" stroke-linecap="round" fill="none"/>
<path d="M571.4 450.2h0M556.7 446.2h0M578.4 443.7h0M568.9 442.4h0M579.5 443.7h0M572.8 446.0h0M580.0 451.2h0M560.7 446.5h0M573.5 450.7h0M580.0 446.7h0M556.6 446.2h0M576.0 447.3h0M576.2 442.9h0M560.0 449.6h0M580.6 445.1h0M567.6 445.8h0M574.3 446.8h0M569.7 450.6h0M568.6 445.6h0M558.7 446.8h0M574.6 443.3h0M574.7 444.6h0M578.6 450.0h0M582.8 445.8h0M569.5 449.2h0M565.0 442.7h0M565.9 444.5h0M564.6 450.1h0M558.9 441.0h0M566.4 449.0h0M572.0 446.7h0M561.0 448.2h0M559.3 448.0h0M560.2 446.7h0M570.0 444.1h0M579.7 446.5h0M571.9 446.4h0M564.5 446.0h0M559.8 446.5h0M566.7 448.2h0M580.3 444.8h0M572.9 449.0h0M569.6 449.6h0M582.6 445.7h0M581.7 443.3h0M561.6 446.3h0M572.6 449.7h0M563.6 442.1h0M572.1 446.5h0M581.3 444.5h0M569.9 448.5h0M564.8 445.6h0M568.5 449.2h0M576.7 445.5h0M563.3 446.1h0M582.7 446.1h0M570.1 452.2h0M581.4 448.5h0M566.7 449.0h0M568.4 443.0h0M558.8 444.7h0M563.3 448.9h0M565.4 445.4h0M581.2 448.0h0M556.5 442.1h0M568.7 446.2h0M575.6 442.9h0M567.6 445.7h0M583.3 451.0h0M562.8 452.6h0M577.4 445.5h0M565.8 445.2h0M576.0 446.6h0M584.0 442.4h0M579.6 448.0h0M561.6 446.3h0M580.2 447.5h0M577.1 447.3h0M580.7 443.3h0M564.1 450.2h0M579.5 451.1h0M556.0 445.1h0M559.5 449.5h0M559.6 446.9h0M563.4 442.3h0M577.2 442.1h0M582.5 448.4h0M581.1 445.2h0M573.0 448.1h0M576.4 449.8h0M579.2 448.3h0M560.2 446.6h0M575.5 450.6h0M568.1 446.4h0M583.3 446.3h0M572.9 450.5h0M558.6 449.2h0M579.4 454.8h0M568.0 443.3h0M582.0 443.6h0M566.2 446.7h0M570.0 442.1h0M574.7 448.7h0M565.3 449.7h0M559.2 450.6h0M568.7 451.0h0M563.3 446.4h0M575.9 445.4h0M582.7 446.7h0M560.9 446.3h0M574.5 445.2h0M560.9 451.9h0M578.3 444.4h0M578.7 441.2h0M578.9 439.6h0M582.9 443.7h0M578.0 443.6h0M561.6 448.6h0M562.8 444.9h0M580.3 444.3h0M565.5 450.1h0M564.7 445.7h0M570.6 445.1h0M577.5 446.4h0M577.1 449.1h0M569.7 448.5h0M562.1 447.3h0M576.4 454.9h0M561.2 447.6h0M578.3 442.7h0M569.6 446.3h0M583.0 444.1h0M576.5 453.4h0M578.3 445.6h0M569.0 447.7h0M557.9 446.3h0M563.8 449.6h0M556.9 448.2h0M559.4 448.0h0M567.3 444.3h0M563.4 444.6h0M573.3 445.1h0M567.0 448.1h0M578.4 454.1h0M566.7 447.5h0M576.7 445.0h0M582.0 445.6h0M574.3 445.1h0M555.9 447.2h0M578.4 444.1h0M584.3 446.3h0M571.6 449.5h0M565.9 443.8h0M583.9 449.5h0M562.3 448.1h0M575.5 451.8h0M574.3 443.3h0M578.1 446.7h0M559.0 444.0h0M569.2 444.7h0M558.8 451.0h0M564.8 451.0h0M584.1 445.9h0M581.2 448.5h0M557.4 454.1h0M577.2 446.7h0M562.9 450.3h0M574.4 445.4h0M570.3 444.7h0M557.8 445.5h0M561.6 444.9h0M582.2 446.7h0M564.5 444.9h0M579.1 449.0h0M576.0 450.8h0M575.1 444.3h0M572.9 447.5h0M574.0 444.9h0M566.6 448.5h0M570.6 446.0h0M566.7 443.4h0M556.5 447.7h0M581.3 441.1h0M579.5 447.1h0M576.2 445.5h0M566.1 445.2h0M578.9 448.6h0M583.7 450.5h0M555.7 449.5h0M556.9 447.6h0M572.3 444.1h0M573.2 452.3h0M582.1 445.7h0M562.5 447.9h0M566.8 442.6h0M572.2 447.2h0M556.0 447.4h0M559.0 441.6h0M560.5 449.6h0M566.4 447.4h0M557.5 444.3h0M562.1 446.9h0M567.7 445.6h0M579.8 443.9h0M556.3 444.8h0M583.3 451.8h0M567.5 442.3h0M555.6 443.6h0M574.7 447.8h0M574.3 443.5h0M558.3 442.4h0M561.7 444.1h0M557.8 446.8h0M560.0 444.7h0M556.6 443.0h0M567.5 444.1h0M575.6 446.4h0M575.3 444.8h0M571.4 444.3h0M577.5 447.1h0M582.4 445.1h0M562.0 441.2h0M557.6 440.9h0M584.3 443.8h0M564.8 440.9h0M568.7 443.5h0M561.6 449.5h0M564.6 444.0h0M578.6 439.8h0M574.7 442.1h0M572.5 449.1h0M581.2 449.2h0M563.9 452.3h0M556.4 448.0h0M576.4 445.8h0M577.8 447.6h0M578.4 445.6h0M560.2 442.8h0M577.5 444.1h0M567.6 444.7h0M583.3 447.9h0M569.2 449.9h0M579.4 444.9h0M567.3 447.2h0M579.9 444.4h0M575.4 448.0h0M582.6 444.5h0M572.1 446.1h0M582.3 447.0h0M567.2 451.1h0M557.9 448.6h0M566.7 448.4h0M577.9 448.8h0M569.0 444.8h0M582.1 446.0h0M577.5 443.7h0M583.2 447.4h0M570.0 449.3h0M580.4 448.9h0M578.6 445.7h0M583.5 449.8h0M578.0 450.3h0M582.3 442.0h0M559.6 447.1h0M559.4 445.6h0M574.0 449.7h0M558.2 440.9h0M575.3 443.1h0M583.5 442.9h0M570.9 447.0h0M580.8 449.0h0M567.1 448.7h0M577.1 447.4h0M575.8 447.3h0M576.7 451.2h0M569.7 449.0h0M567.4 443.6h0M582.1 445.1h0M577.9 439.9h0M568.2 449.6h0M573.8 445.8h0M560.0 448.7h0M577.2 447.2h0M579.6 447.7h0M557.8 442.7h0M556.6 441.4h0M571.6 446.2h0M560.0 446.3h0M574.4 446.9h0M566.2 447.1h0M571.9 451.7h0M562.6 446.4h0M567.5 443.0h0M563.1 445.2h0M558.2 442.9h0M568.6 448.1h0M569.1 445.8h0M575.8 447.0h0M556.3 447.0h0M559.5 447.1h0M559.0 441.7h0M573.6 442.3h0M581.4 446.1h0M582.1 444.2h0M569.2 445.4h0M565.7 446.6h0M558.5 441.8h0M564.3 446.5h0M580.9 446.6h0M565.6 446.9h0M567.3 446.3h0M571.0 446.7h0M555.8 443.6h0M565.4 443.8h0M581.4 450.0h0M562.3 450.9h0M558.3 445.3h0M556.4 449.1h0M578.3 446.8h0M582.5 448.7h0M576.9 442.1h0M576.5 446.5h0M565.6 451.4h0M583.4 446.2h0M582.1 445.7h0M557.3 452.5h0M566.1 447.2h0M568.3 443.4h0M560.3 445.2h0M564.7 442.1h0M581.9 443.0h0M560.3 447.6h0M570.3 445.3h0M557.8 441.1h0M573.2 446.2h0M558.5 445.5h0M579.1 445.1h0M582.2 449.4h0M559.4 447.2h0M561.0 446.1h0M563.3 448.0h0M573.6 446.9h0M558.8 444.0h0M577.2 446.5h0M579.8 448.2h0M578.9 445.0h0M580.5 446.2h0M571.2 441.8h0M560.5 445.3h0M571.6 447.9h0M562.7 448.9h0M583.7 445.0h0M567.2 439.7h0M575.4 449.8h0M560.1 446.5h0M584.5 448.8h0M564.0 443.7h0M579.3 446.2h0M562.3 446.1h0M580.1 447.4h0M583.6 445.3h0M570.3 446.0h0M558.4 444.9h0M560.5 447.6h0M556.4 449.2h0M570.6 448.3h0M579.4 444.6h0M555.8 447.9h0M565.9 448.0h0M566.9 444.6h0M569.5 452.9h0M566.9 449.2h0M556.5 447.7h0M574.8 451.4h0M558.6 443.8h0M570.6 448.6h0M570.8 445.6h0M579.1 444.5h0M584.3 446.7h0M565.6 449.6h0M561.0 446.9h0M571.5 448.0h0M557.0 447.9h0M582.4 448.2h0M561.7 443.8h0M569.9 442.8h0M560.6 444.3h0M581.9 447.7h0M583.7 442.5h0M563.5 448.3h0M571.8 445.9h0M582.5 446.3h0M563.4 442.8h0M582.8 445.6h0M571.1 447.5h0M577.3 444.7h0M578.0 445.1h0M577.4 443.4h0M576.0 445.1h0M556.9 446.4h0M577.8 448.1h0M581.4 443.7h0M574.9 447.4h0M563.7 448.4h0M572.2 444.5h0M573.0 448.2h0M560.7 444.1h0M575.3 449.6h0M556.3 446.6h0M571.1 444.4h0M561.9 444.8h0M573.6 443.8h0M573.9 447.6h0M580.2 444.2h0M579.4 443.6h0M560.2 447.4h0M563.3 443.0h0M557.2 445.8h0M572.0 445.2h0M576.3 448.9h0M554.5 418.5h0M555.5 432.0h0M557.0 434.0h0M565.0 432.5h0M565.5 436.0h0M575.0 432.5h0M573.0 437.0h0M578.0 439.0h0M580.0 453.0h0M567.0 437.0h0" stroke="#e62b2b" stroke-width="3.1" stroke-linecap="round" fill="none"/>
<path d="M545.3 353.8h0M555.4 407.1h0M550.8 390.7h0M548.5 397.8h0M545.9 406.8h0M543.2 405.7h0M550.7 387.6h0M545.3 397.6h0M554.5 370.2h0M546.7 356.6h0M555.3 386.9h0M545.2 369.2h0M555.3 347.7h0M552.3 362.5h0M548.4 339.7h0M552.2 387.4h0M548.3 390.5h0M548.2 353.1h0M547.0 379.4h0M554.1 350.5h0M547.7 356.2h0M545.1 379.2h0M545.0 398.9h0M543.3 401.6h0M549.5 328.8h0M548.7 384.2h0M552.4 405.9h0M552.7 401.2h0M553.1 401.0h0M552.5 404.5h0M549.4 355.0h0M549.4 394.5h0M547.0 382.4h0M554.3 353.7h0M543.3 372.0h0M555.5 371.5h0M555.4 327.2h0M543.4 355.8h0M546.3 409.7h0M546.2 408.7h0M555.3 371.1h0M553.3 362.7h0M548.0 401.9h0M553.1 347.4h0M547.6 352.1h0M554.2 357.1h0M549.9 364.8h0M546.3 392.7h0M552.0 386.4h0M548.4 409.2h0M547.4 370.3h0M546.9 385.8h0M550.4 417.5h0M551.7 428.3h0M542.7 425.7h0M543.8 426.3h0M554.4 432.0h0M555.3 413.1h0M551.9 424.9h0M550.8 428.0h0M549.6 408.5h0M553.3 436.2h0M555.7 418.9h0M547.4 433.7h0M544.6 432.0h0M548.3 408.8h0M551.3 430.7h0M548.1 414.2h0M551.8 429.4h0M542.8 435.3h0M550.8 428.4h0M555.3 413.3h0M550.4 420.3h0M548.8 436.8h0M549.5 425.9h0M550.9 431.7h0M541.4 408.8h0M552.2 433.8h0M554.0 408.2h0M549.9 425.8h0M554.9 428.8h0M541.4 414.0h0M545.3 426.4h0M551.1 427.7h0M553.1 426.3h0M543.3 409.2h0M543.1 421.2h0M544.7 420.6h0M553.5 436.5h0M554.0 430.0h0M548.7 412.1h0M541.3 424.3h0M553.3 412.2h0M554.5 412.5h0M548.3 419.5h0M553.7 408.1h0M543.9 417.5h0M543.1 409.6h0M546.2 429.6h0M545.9 423.5h0M548.5 434.6h0M555.1 419.3h0M555.7 430.9h0M544.0 429.3h0M552.7 419.2h0M547.4 411.6h0M547.4 408.2h0M543.2 422.3h0M542.8 423.7h0M551.2 420.3h0M547.2 428.1h0M555.6 409.7h0M547.0 311.0h0M546.0 318.0h0M551.0 317.0h0" stroke="#1a8bd2" stroke-width="3.2" stroke-linecap="round" fill="none"/>
</svg></body></html>
